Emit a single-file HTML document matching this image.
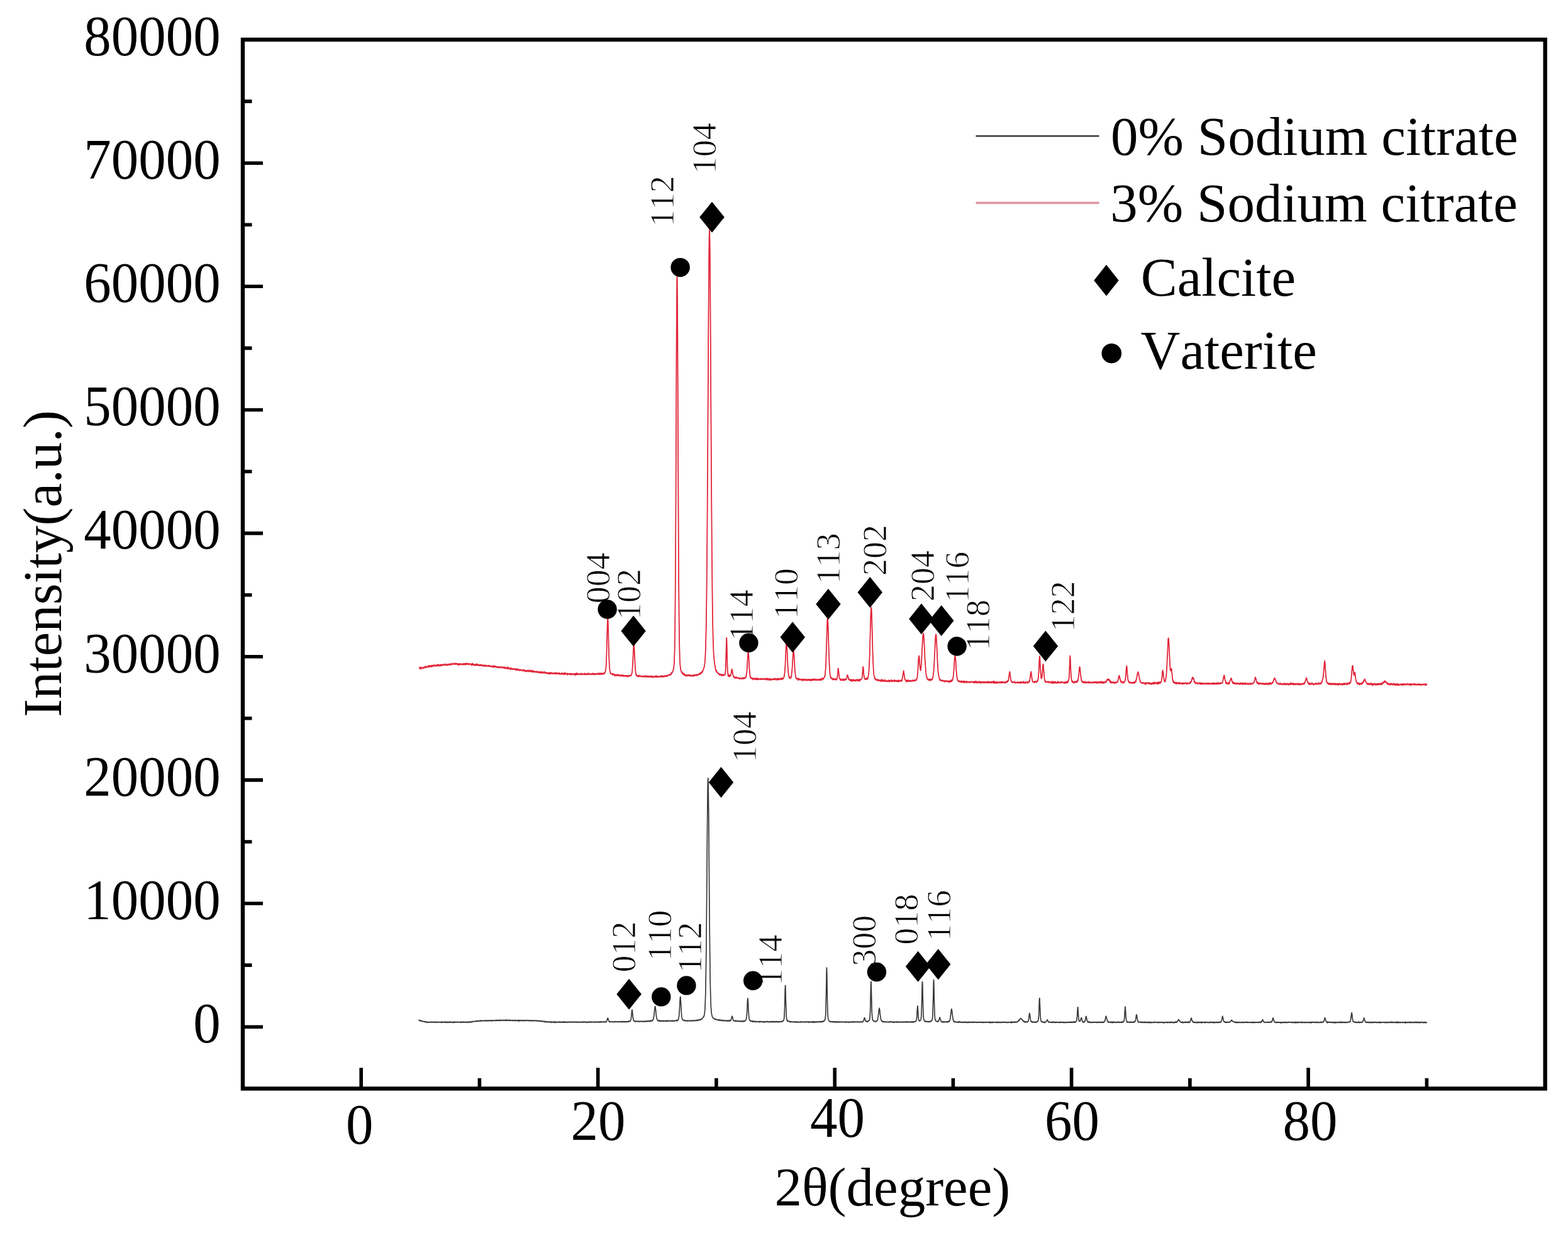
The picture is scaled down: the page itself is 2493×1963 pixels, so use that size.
<!DOCTYPE html><html><head><meta charset="utf-8"><title>XRD</title><style>html,body{margin:0;padding:0;background:#fff}svg{display:block}text{font-family:"Liberation Serif","Times New Roman",serif;fill:#000;font-kerning:none}</style></head><body>
<svg width="2493" height="1963" viewBox="0 0 2493 1963">
<rect width="2493" height="1963" fill="#fff"/>
<g stroke="#fff" stroke-width="0.9">
<text transform="translate(969.1,959.2) rotate(-90)" font-size="54">004</text>
<text transform="translate(1018.2,985) rotate(-90)" font-size="54">102</text>
<text transform="translate(1070.8,360.3) rotate(-90)" font-size="54">112</text>
<text transform="translate(1138.4,276.3) rotate(-90)" font-size="54">104</text>
<text transform="translate(1197.2,1018.3) rotate(-90)" font-size="54">114</text>
<text transform="translate(1267.8,983.9) rotate(-90)" font-size="54">110</text>
<text transform="translate(1334.8,928.2) rotate(-90)" font-size="54">113</text>
<text transform="translate(1409.3,915.1) rotate(-90)" font-size="54">202</text>
<text transform="translate(1485.4,956.1) rotate(-90)" font-size="54">204</text>
<text transform="translate(1539.8,957.8) rotate(-90)" font-size="54">116</text>
<text transform="translate(1572.6,1034) rotate(-90)" font-size="54">118</text>
<text transform="translate(1707.9,1004.2) rotate(-90)" font-size="54">122</text>
<text transform="translate(1009.8,1545.4) rotate(-90)" font-size="54">012</text>
<text transform="translate(1066.5,1527.5) rotate(-90)" font-size="54">110</text>
<text transform="translate(1115.1,1546.4) rotate(-90)" font-size="54">112</text>
<text transform="translate(1242.7,1566.8) rotate(-90)" font-size="54">114</text>
<text transform="translate(1202.4,1212.1) rotate(-90)" font-size="54">104</text>
<text transform="translate(1392.1,1535.8) rotate(-90)" font-size="54">300</text>
<text transform="translate(1458.8,1501.7) rotate(-90)" font-size="54">018</text>
<text transform="translate(1511.2,1495.8) rotate(-90)" font-size="54">116</text>
</g>
<polyline fill="none" stroke="#e2263a" stroke-width="1.8" stroke-linejoin="round" points="667,1063.2 667.2,1060.5 667.5,1062.2 667.8,1061.6 668,1061.7 668.2,1061.8 668.5,1060.7 668.8,1061.7 669,1061.3 669.2,1063.8 669.5,1061.9 669.8,1061.5 670,1061.5 670.2,1061.2 670.5,1060.9 670.8,1061.3 671,1061.7 671.2,1061.3 671.5,1061.9 671.8,1061.2 672,1061.3 672.2,1062.1 672.5,1061.5 672.8,1060.8 673,1061 673.2,1061.4 673.5,1062.2 673.8,1060.8 674,1060.8 674.2,1061.5 674.5,1060.3 674.8,1060.6 675,1061.2 675.2,1061 675.5,1060.7 675.8,1061 676,1058.8 676.2,1061.1 676.5,1059.9 676.8,1059.4 677,1060.5 677.2,1060.7 677.5,1060 677.8,1059.6 678,1060.2 678.2,1060.1 678.5,1060.9 678.8,1060.5 679,1060.1 679.2,1060.6 679.5,1059.8 679.8,1059.3 680,1060.2 680.2,1060.1 680.5,1059.6 680.8,1059.2 681,1059.8 681.2,1058.1 681.5,1059.9 681.8,1059.8 682,1058.5 682.2,1059.4 682.5,1058.8 682.8,1059.8 683,1058 683.2,1058.7 683.5,1059.6 683.8,1059.8 684,1057.8 684.2,1058.7 684.5,1059.2 684.8,1058.6 685,1059.9 685.2,1058.1 685.5,1059 685.8,1058.1 686,1059.6 686.2,1058.7 686.5,1058.4 686.8,1057.5 687,1059.5 687.2,1058.9 687.5,1058.9 687.8,1059.1 688,1058.6 688.2,1057.9 688.5,1057.8 688.8,1057.7 689,1059 689.2,1057.2 689.5,1057.7 689.8,1057.8 690,1058.1 690.2,1058.3 690.5,1057.2 690.8,1056.9 691,1057.9 691.2,1058.6 691.5,1058.3 691.8,1058 692,1057.6 692.2,1058 692.5,1057.6 692.8,1058.2 693,1057.3 693.2,1057.8 693.5,1057.6 693.8,1058 694,1057.8 694.2,1059.2 694.5,1058.5 694.8,1058.5 695,1056.3 695.2,1057.3 695.5,1057.2 695.8,1057.8 696,1056.1 696.2,1058.2 696.5,1058.1 696.8,1056.6 697,1056.8 697.2,1056.9 697.5,1057.4 697.8,1057.7 698,1058.5 698.2,1057.2 698.5,1057.7 698.8,1057.4 699,1058.3 699.2,1057.7 699.5,1058 699.8,1056.5 700,1057 700.2,1056.6 700.5,1058 700.8,1057.5 701,1056.9 701.2,1056.8 701.5,1057.3 701.8,1056.6 702,1056.4 702.2,1057.3 702.5,1058.4 702.8,1056.8 703,1056.6 703.2,1056.2 703.5,1056.1 703.8,1057.2 704,1057.3 704.2,1056.8 704.5,1057 704.8,1056.8 705,1056.8 705.2,1055.8 705.5,1056.4 705.8,1056.7 706,1056.2 706.2,1056.3 706.5,1056.1 706.8,1056.4 707,1057.1 707.2,1056.3 707.5,1056.4 707.8,1057 708,1056.9 708.2,1057.5 708.5,1055.2 708.8,1056.9 709,1056.1 709.2,1056.5 709.5,1056.9 709.8,1057 710,1056.9 710.2,1056.4 710.5,1057.2 710.8,1056.1 711,1056.2 711.2,1056.7 711.5,1055.9 711.8,1057.5 712,1056.8 712.2,1057.4 712.5,1056.1 712.8,1055.9 713,1056.2 713.2,1056.5 713.5,1055.7 713.8,1056.2 714,1056 714.2,1056.9 714.5,1055.5 714.8,1056.6 715,1055.5 715.2,1055.3 715.5,1055.4 715.8,1055.1 716,1055.9 716.2,1056.4 716.5,1055.9 716.8,1056.1 717,1056.7 717.2,1055.9 717.5,1055.8 717.8,1055.5 718,1054.7 718.2,1056.1 718.5,1054.6 718.8,1056 719,1055.6 719.2,1056.2 719.5,1055.5 719.8,1055 720,1055.7 720.2,1055.2 720.5,1055.4 720.8,1055.5 721,1055.4 721.2,1055.4 721.5,1055 721.8,1055.4 722,1054.2 722.2,1055.4 722.5,1054.8 722.8,1056.2 723,1056.2 723.2,1054.3 723.5,1055.6 723.8,1055.4 724,1054.9 724.2,1055.8 724.5,1055.2 724.8,1054.4 725,1055.3 725.2,1055.4 725.5,1055.5 725.8,1054.7 726,1055.9 726.2,1055.9 726.5,1054.8 726.8,1055.1 727,1055.4 727.2,1055.1 727.5,1056.5 727.8,1055.6 728,1054.9 728.2,1055 728.5,1055.5 728.8,1056.9 729,1055.4 729.2,1055.6 729.5,1055.8 729.8,1055.5 730,1056.9 730.2,1055.2 730.5,1055.9 730.8,1055.6 731,1055.9 731.2,1054.8 731.5,1056.5 731.8,1055.4 732,1055.5 732.2,1054.9 732.5,1055 732.8,1055.8 733,1056.1 733.2,1055.9 733.5,1056.2 733.8,1055.9 734,1055.5 734.2,1056 734.5,1055.8 734.8,1055.4 735,1055.9 735.2,1056.3 735.5,1055.6 735.8,1055.3 736,1055.9 736.2,1056.6 736.5,1055.4 736.8,1055.4 737,1055.4 737.2,1056.2 737.5,1054.4 737.8,1055.7 738,1056.2 738.2,1055 738.5,1056.4 738.8,1055.8 739,1055.2 739.2,1055.6 739.5,1054.6 739.8,1055.1 740,1056.6 740.2,1054.9 740.5,1056.6 740.8,1055.4 741,1056.1 741.2,1055.5 741.5,1054.1 741.8,1055.1 742,1055.6 742.2,1054.8 742.5,1054.7 742.8,1055.7 743,1055.1 743.2,1054.5 743.5,1055.1 743.8,1056 744,1055.2 744.2,1056 744.5,1056.4 744.8,1055.5 745,1054.8 745.2,1054.7 745.5,1055.5 745.8,1056.1 746,1055.7 746.2,1055.9 746.5,1055.4 746.8,1055.8 747,1055.4 747.2,1055.5 747.5,1055 747.8,1054.8 748,1055.5 748.2,1055.1 748.5,1055.3 748.8,1056.3 749,1055.8 749.2,1057.6 749.5,1056.5 749.8,1055.6 750,1056.4 750.2,1056.2 750.5,1055.6 750.8,1056.7 751,1055.6 751.2,1054.3 751.5,1056.6 751.8,1055.8 752,1057.1 752.2,1055.8 752.5,1055.5 752.8,1057.2 753,1055.6 753.2,1056.4 753.5,1057.2 753.8,1056.4 754,1056.3 754.2,1056.5 754.5,1056.9 754.8,1056 755,1056.8 755.2,1056.8 755.5,1057.9 755.8,1056.3 756,1056 756.2,1057 756.5,1056.4 756.8,1056.8 757,1056.7 757.2,1057.4 757.5,1056.3 757.8,1056.7 758,1055.2 758.2,1056.2 758.5,1057.7 758.8,1056.4 759,1056.4 759.2,1056.1 759.5,1057.3 759.8,1057 760,1056.2 760.2,1057.4 760.5,1057.2 760.8,1057.5 761,1056.7 761.2,1058.1 761.5,1057.3 761.8,1057.1 762,1056.8 762.2,1057 762.5,1057.7 762.8,1057.1 763,1057.9 763.2,1057.6 763.5,1058.1 763.8,1057.8 764,1057.3 764.2,1056.2 764.5,1057.6 764.8,1057.9 765,1057.5 765.2,1057.8 765.5,1057.2 765.8,1057.3 766,1057 766.2,1058.4 766.5,1057.7 766.8,1057.3 767,1056.8 767.2,1057.6 767.5,1058.6 767.8,1058 768,1057.3 768.2,1058.6 768.5,1058.6 768.8,1058.4 769,1058.3 769.2,1058.6 769.5,1058.2 769.8,1058.4 770,1057.5 770.2,1058.9 770.5,1058.1 770.8,1059.2 771,1056.8 771.2,1058.5 771.5,1058.7 771.8,1057.9 772,1058.4 772.2,1058.6 772.5,1058.5 772.8,1057.9 773,1058.1 773.2,1058.9 773.5,1059 773.8,1058.4 774,1058.4 774.2,1058.5 774.5,1059 774.8,1057.8 775,1057.6 775.2,1058.5 775.5,1057.8 775.8,1058.1 776,1058.6 776.2,1058.8 776.5,1057.9 776.8,1059.1 777,1057.6 777.2,1059 777.5,1057.7 777.8,1057.9 778,1059.1 778.2,1058.5 778.5,1058.3 778.8,1058.5 779,1059.1 779.2,1058.8 779.5,1058.8 779.8,1059.5 780,1058.5 780.2,1058.7 780.5,1058.6 780.8,1059.7 781,1059.6 781.2,1059.8 781.5,1059 781.8,1059 782,1059.6 782.2,1058.9 782.5,1059.7 782.8,1059.6 783,1058.8 783.2,1059.2 783.5,1059.2 783.8,1060.3 784,1060.9 784.2,1059.3 784.5,1059.4 784.8,1058 785,1059.5 785.2,1059.4 785.5,1058.8 785.8,1059.9 786,1058.6 786.2,1059.4 786.5,1059.6 786.8,1058.8 787,1060.1 787.2,1060.3 787.5,1058.8 787.8,1058.8 788,1060.1 788.2,1059.7 788.5,1059 788.8,1059.6 789,1059.7 789.2,1059.7 789.5,1060.3 789.8,1060.1 790,1061 790.2,1060.7 790.5,1060.3 790.8,1060.6 791,1060.8 791.2,1060.4 791.5,1059.3 791.8,1060.6 792,1060.1 792.2,1061.1 792.5,1060.2 792.8,1060.5 793,1060.4 793.2,1061.2 793.5,1060.3 793.8,1060.1 794,1060.5 794.2,1060 794.5,1060.4 794.8,1060.4 795,1060.5 795.2,1061.6 795.5,1060.2 795.8,1060.5 796,1060.4 796.2,1060.9 796.5,1059.8 796.8,1060.1 797,1060.6 797.2,1060.9 797.5,1060.6 797.8,1060.4 798,1060.2 798.2,1061.1 798.5,1061.7 798.8,1061 799,1061 799.2,1061.2 799.5,1060.4 799.8,1060.8 800,1060.9 800.2,1061.2 800.5,1061.1 800.8,1060.4 801,1061.8 801.2,1062.2 801.5,1061.1 801.8,1061.5 802,1061.5 802.2,1061.8 802.5,1060.5 802.8,1062.4 803,1061.2 803.2,1062.3 803.5,1061.6 803.8,1061.3 804,1061.5 804.2,1062.2 804.5,1061.2 804.8,1061.5 805,1061.5 805.2,1060.8 805.5,1062.6 805.8,1062.2 806,1061.9 806.2,1062.6 806.5,1061.4 806.8,1062 807,1063.1 807.2,1062.7 807.5,1060.8 807.8,1060.2 808,1061.6 808.2,1062.9 808.5,1062 808.8,1062.2 809,1062.7 809.2,1061.8 809.5,1062.5 809.8,1062.9 810,1062.8 810.2,1062.8 810.5,1062.2 810.8,1062.9 811,1062.4 811.2,1063.4 811.5,1064.2 811.8,1062.3 812,1061.5 812.2,1062.6 812.5,1063.1 812.8,1063.5 813,1063.6 813.2,1062.5 813.5,1062.5 813.8,1063.8 814,1062.4 814.2,1063.8 814.5,1063 814.8,1063.6 815,1063.6 815.2,1063.7 815.5,1063.8 815.8,1062.7 816,1063.5 816.2,1063.4 816.5,1063.6 816.8,1064.2 817,1063.3 817.2,1063.1 817.5,1063.1 817.8,1063.4 818,1064.1 818.2,1063.2 818.5,1064.4 818.8,1063.9 819,1063.7 819.2,1063 819.5,1064 819.8,1064.3 820,1062.9 820.2,1064.7 820.5,1065 820.8,1064.3 821,1064.4 821.2,1065.6 821.5,1064.9 821.8,1063.7 822,1064.2 822.2,1064.2 822.5,1064.2 822.8,1062.9 823,1064.8 823.2,1064 823.5,1064.6 823.8,1064.4 824,1065.1 824.2,1064.4 824.5,1064.1 824.8,1065 825,1065.5 825.2,1064.5 825.5,1065.6 825.8,1064.9 826,1064.5 826.2,1065.8 826.5,1064.4 826.8,1065.5 827,1064.7 827.2,1065.3 827.5,1064.3 827.8,1064.6 828,1065.7 828.2,1065.2 828.5,1065.2 828.8,1064.9 829,1065.5 829.2,1064.4 829.5,1064.6 829.8,1065.2 830,1064.8 830.2,1064.9 830.5,1065.3 830.8,1065.3 831,1065.3 831.2,1066.5 831.5,1066.1 831.8,1066.3 832,1065.5 832.2,1065.3 832.5,1064.7 832.8,1065.4 833,1064.4 833.2,1065.3 833.5,1066.2 833.8,1066.7 834,1066.3 834.2,1065.3 834.5,1066.1 834.8,1065.4 835,1066.4 835.2,1065.8 835.5,1066.5 835.8,1067.5 836,1066.5 836.2,1067.4 836.5,1066.2 836.8,1065.9 837,1066.9 837.2,1067.2 837.5,1065.8 837.8,1066.2 838,1065.4 838.2,1066.1 838.5,1066.8 838.8,1066.3 839,1066 839.2,1065.5 839.5,1066.6 839.8,1066.9 840,1066.8 840.2,1066.6 840.5,1065.7 840.8,1067.6 841,1066.5 841.2,1066.5 841.5,1067.1 841.8,1065.3 842,1066.6 842.2,1066.6 842.5,1067 842.8,1067.6 843,1067.1 843.2,1065.7 843.5,1066.6 843.8,1067 844,1067 844.2,1066.2 844.5,1066 844.8,1067.3 845,1067.2 845.2,1067 845.5,1066 845.8,1068.2 846,1065.4 846.2,1066.9 846.5,1068.4 846.8,1067.1 847,1067.4 847.2,1066.6 847.5,1068.1 847.8,1066.6 848,1067.5 848.2,1067.5 848.5,1066.8 848.8,1068 849,1066.6 849.2,1067.1 849.5,1067.5 849.8,1067.3 850,1067.9 850.2,1068.2 850.5,1067.5 850.8,1067.3 851,1067.4 851.2,1067.5 851.5,1068.2 851.8,1067.6 852,1068.1 852.2,1067.8 852.5,1067.4 852.8,1068.4 853,1067.3 853.2,1068 853.5,1068.9 853.8,1067.4 854,1068 854.2,1067.1 854.5,1067.8 854.8,1067.2 855,1067.9 855.2,1067.9 855.5,1068.3 855.8,1069.2 856,1068.4 856.2,1068.7 856.5,1068.3 856.8,1068.2 857,1067.9 857.2,1067.3 857.5,1068.5 857.8,1069.4 858,1068.8 858.2,1068.2 858.5,1069.5 858.8,1068.3 859,1068.2 859.2,1067.9 859.5,1068.1 859.8,1068.5 860,1069.9 860.2,1068.6 860.5,1068.2 860.8,1068.4 861,1068.7 861.2,1067.8 861.5,1069 861.8,1069.3 862,1069.1 862.2,1069.3 862.5,1068.2 862.8,1068 863,1069.8 863.2,1069.7 863.5,1068.2 863.8,1069.3 864,1069.2 864.2,1069.5 864.5,1069.3 864.8,1069 865,1069.4 865.2,1069.4 865.5,1069.3 865.8,1068.3 866,1067.6 866.2,1068.9 866.5,1068.5 866.8,1069.6 867,1069.9 867.2,1069.7 867.5,1069.3 867.8,1069.6 868,1070.3 868.2,1069.2 868.5,1070.2 868.8,1070.1 869,1069.9 869.2,1070.6 869.5,1069.4 869.8,1070.4 870,1069.3 870.2,1069.4 870.5,1069.3 870.8,1070.2 871,1069.4 871.2,1070 871.5,1069.3 871.8,1070.6 872,1071.1 872.2,1070.1 872.5,1071 872.8,1070.4 873,1071.3 873.2,1070.1 873.5,1069.1 873.8,1071 874,1070 874.2,1069.5 874.5,1069.7 874.8,1069.1 875,1070 875.2,1069.5 875.5,1071 875.8,1070.5 876,1069.1 876.2,1069.2 876.5,1069.8 876.8,1069 877,1070.1 877.2,1070.2 877.5,1069.7 877.8,1069.9 878,1070.5 878.2,1071.1 878.5,1071.1 878.8,1070.3 879,1070.8 879.2,1069.8 879.5,1070.5 879.8,1069.7 880,1070.7 880.2,1069.5 880.5,1069.7 880.8,1070.3 881,1070.7 881.2,1069.5 881.5,1070 881.8,1070.4 882,1070.5 882.2,1069.9 882.5,1070.4 882.8,1070.2 883,1071.2 883.2,1070.7 883.5,1069.6 883.8,1069.1 884,1070.5 884.2,1071.1 884.5,1070.5 884.8,1071 885,1070.2 885.2,1069.7 885.5,1070.9 885.8,1070.5 886,1070.9 886.2,1069.7 886.5,1070.6 886.8,1070.2 887,1071 887.2,1070.2 887.5,1070.2 887.8,1070.2 888,1071.3 888.2,1070.6 888.5,1070.1 888.8,1070 889,1070 889.2,1071.5 889.5,1069.5 889.8,1070.1 890,1071 890.2,1071.4 890.5,1070.6 890.8,1071.1 891,1071.1 891.2,1071.3 891.5,1070.7 891.8,1071.7 892,1070.8 892.2,1071.7 892.5,1070.1 892.8,1071.3 893,1070 893.2,1069.9 893.5,1071.1 893.8,1070.3 894,1071.1 894.2,1070.2 894.5,1071.8 894.8,1070.8 895,1070.2 895.2,1071 895.5,1071.4 895.8,1070.4 896,1071.2 896.2,1072.1 896.5,1071.4 896.8,1070.9 897,1070.6 897.2,1071.3 897.5,1070 897.8,1069.1 898,1070.6 898.2,1070.3 898.5,1072 898.8,1071.1 899,1070.4 899.2,1070.3 899.5,1071.3 899.8,1070.5 900,1070.7 900.2,1071 900.5,1071.1 900.8,1071.1 901,1071.1 901.2,1071.9 901.5,1072.1 901.8,1070.1 902,1072.7 902.2,1071.2 902.5,1071.9 902.8,1070.7 903,1071.3 903.2,1071.3 903.5,1071.2 903.8,1071.7 904,1071.6 904.2,1070.6 904.5,1071.1 904.8,1071.6 905,1071.6 905.2,1071 905.5,1071.1 905.8,1071.2 906,1070.6 906.2,1070.5 906.5,1072.2 906.8,1071 907,1071.3 907.2,1070.9 907.5,1072.1 907.8,1072.4 908,1071.2 908.2,1071.6 908.5,1070.9 908.8,1072.4 909,1071.9 909.2,1070.9 909.5,1072.1 909.8,1071.6 910,1071.6 910.2,1071.6 910.5,1071 910.8,1071.1 911,1071.8 911.2,1071.4 911.5,1070.9 911.8,1072.7 912,1071.3 912.2,1071.1 912.5,1071.1 912.8,1071.9 913,1072.1 913.2,1071.7 913.5,1072 913.8,1070.6 914,1071.3 914.2,1071.3 914.5,1071.6 914.8,1071.9 915,1070.3 915.2,1073.4 915.5,1071 915.8,1071.8 916,1072.1 916.2,1072.1 916.5,1071.7 916.8,1069.8 917,1070.9 917.2,1072 917.5,1071 917.8,1070.9 918,1070.1 918.2,1072.3 918.5,1071.8 918.8,1071 919,1071.5 919.2,1071.5 919.5,1070.9 919.8,1071.4 920,1071.7 920.2,1071.9 920.5,1072.3 920.8,1071.5 921,1071.2 921.2,1071.8 921.5,1071.1 921.8,1070.8 922,1072.2 922.2,1071.3 922.5,1071.6 922.8,1071.9 923,1070.8 923.2,1071.9 923.5,1071.8 923.8,1071.4 924,1071.7 924.2,1071 924.5,1070.2 924.8,1071.3 925,1070.9 925.2,1072 925.5,1071.7 925.8,1071.2 926,1071.5 926.2,1072.3 926.5,1072.2 926.8,1071.7 927,1071.7 927.2,1071.3 927.5,1071.4 927.8,1071.8 928,1071.4 928.2,1071.7 928.5,1070.8 928.8,1070.5 929,1070.5 929.2,1071.2 929.5,1072.3 929.8,1072.2 930,1070.9 930.2,1070.5 930.5,1071.9 930.8,1071.7 931,1070.6 931.2,1072.1 931.5,1071.6 931.8,1072.3 932,1071.7 932.2,1072 932.5,1071.6 932.8,1070.9 933,1071.3 933.2,1071 933.5,1071.9 933.8,1070.8 934,1070.5 934.2,1071.8 934.5,1072.1 934.8,1072.3 935,1072.1 935.2,1070.5 935.5,1071 935.8,1071.1 936,1071.4 936.2,1070.1 936.5,1071.4 936.8,1071.6 937,1070.8 937.2,1071.5 937.5,1072.1 937.8,1071.4 938,1072 938.2,1072 938.5,1071.7 938.8,1071.6 939,1071.2 939.2,1072.1 939.5,1071.1 939.8,1071 940,1071.8 940.2,1071 940.5,1071.6 940.8,1072 941,1071.4 941.2,1071.4 941.5,1071.9 941.8,1071.8 942,1070.4 942.2,1070.6 942.5,1072.2 942.8,1071.6 943,1070.1 943.2,1070.5 943.5,1071.4 943.8,1070.8 944,1071.6 944.2,1071.4 944.5,1071.6 944.8,1070.6 945,1071.7 945.2,1072.5 945.5,1070.8 945.8,1072.1 946,1071.9 946.2,1071.7 946.5,1071.3 946.8,1070.6 947,1070.8 947.2,1071.8 947.5,1071.9 947.8,1072 948,1071.9 948.2,1071.8 948.5,1071 948.8,1070.5 949,1071.4 949.2,1071.5 949.5,1071.3 949.8,1070.3 950,1070.9 950.2,1070.3 950.5,1071.3 950.8,1070.6 951,1071.1 951.2,1071.4 951.5,1071.3 951.8,1072 952,1070.5 952.2,1069.8 952.5,1071.7 952.8,1072 953,1072 953.2,1071.3 953.5,1071.4 953.8,1071.1 954,1070.3 954.2,1070.7 954.5,1071.3 954.8,1070.6 955,1072.1 955.2,1070 955.5,1070.7 955.8,1071.6 956,1070.6 956.2,1070.3 956.5,1070.1 956.8,1070.5 957,1071.8 957.2,1071.1 957.5,1071.2 957.8,1070.5 958,1071.3 958.2,1070.8 958.5,1070.2 958.8,1070.4 959,1070.8 959.2,1071.3 959.5,1070.5 959.8,1070.7 960,1071.6 960.2,1069.8 960.5,1069.4 960.8,1070.6 961,1070.1 961.2,1069.6 961.5,1069.6 961.8,1069 962,1069.1 962.2,1068.1 962.5,1068.1 962.8,1065.9 963,1064.7 963.2,1063.3 963.5,1060.1 963.8,1057 964,1051.6 964.2,1045.1 964.5,1037.9 964.8,1028.6 965,1018.3 965.2,1008.4 965.5,998.8 965.8,990.5 966,984.8 966.2,982.6 966.3,982.4 966.5,984.4 966.8,988.9 967,995.7 967.2,1006.2 967.5,1016 967.8,1025.1 968,1034.8 968.2,1043.5 968.5,1049.8 968.8,1055.8 969,1059.7 969.2,1063.1 969.5,1064.8 969.8,1066.9 970,1067.6 970.2,1069.1 970.5,1068.3 970.8,1069.9 971,1070.8 971.2,1070.7 971.5,1070.6 971.8,1071.1 972,1070.5 972.2,1070.6 972.5,1071.1 972.8,1071.3 973,1072.1 973.2,1071.1 973.5,1072.3 973.8,1070.9 974,1071.4 974.2,1071.9 974.5,1072.7 974.8,1071.7 975,1070.9 975.2,1072.5 975.5,1072.3 975.8,1071.7 976,1071.8 976.2,1072 976.5,1072.6 976.8,1072.9 977,1071.7 977.2,1074 977.5,1072.6 977.8,1072.5 978,1073.1 978.2,1072.8 978.5,1074.2 978.8,1073.5 979,1072.7 979.2,1072.7 979.5,1072.6 979.8,1072.8 980,1073.4 980.2,1072.6 980.5,1074 980.8,1073 981,1073 981.2,1073.7 981.5,1072 981.8,1072.6 982,1073.6 982.2,1073.3 982.5,1073.3 982.8,1073.5 983,1073 983.2,1073.2 983.5,1072.6 983.8,1072.3 984,1074.2 984.2,1072.9 984.5,1073 984.8,1074.3 985,1074.1 985.2,1073.2 985.5,1073.2 985.8,1073.5 986,1073 986.2,1073.9 986.5,1073.7 986.8,1073.7 987,1074.1 987.2,1074.1 987.5,1074.8 987.8,1074.6 988,1072.7 988.2,1074.3 988.5,1073.1 988.8,1073 989,1074.3 989.2,1073.4 989.5,1073.7 989.8,1074.5 990,1073.5 990.2,1073.4 990.5,1074.1 990.8,1074.7 991,1074.3 991.2,1073.1 991.5,1073.6 991.8,1073.9 992,1075.2 992.2,1074.6 992.5,1074.6 992.8,1074.8 993,1073.9 993.2,1074.4 993.5,1074.4 993.8,1073.6 994,1074.2 994.2,1074.5 994.5,1073.5 994.8,1074.7 995,1074.7 995.2,1074.9 995.5,1073.8 995.8,1074.3 996,1075.1 996.2,1074.7 996.5,1073.8 996.8,1074.4 997,1075.1 997.2,1074.3 997.5,1074.5 997.8,1075.9 998,1074.3 998.2,1074.3 998.5,1073.7 998.8,1073.9 999,1075.2 999.2,1074.2 999.5,1073.6 999.8,1073.7 1000,1074.3 1000.2,1074.7 1000.5,1073.8 1000.8,1074.6 1001,1073.8 1001.2,1074.3 1001.5,1074.3 1001.8,1074.3 1002,1073.6 1002.2,1073.7 1002.5,1074 1002.8,1072.8 1003,1073.6 1003.2,1073.6 1003.5,1073.7 1003.8,1072.8 1004,1072.3 1004.2,1071.9 1004.5,1070.6 1004.8,1069.8 1005,1068.6 1005.2,1066.4 1005.5,1062.8 1005.8,1059.6 1006,1054.3 1006.2,1051 1006.5,1044.7 1006.8,1039.4 1007,1033.1 1007.2,1028.9 1007.5,1025.8 1007.8,1024.6 1007.8,1023.2 1008,1025.2 1008.2,1027.3 1008.5,1031.3 1008.8,1037.3 1009,1042.6 1009.2,1048.3 1009.5,1053.2 1009.8,1058.4 1010,1062.2 1010.2,1065.1 1010.5,1067.1 1010.8,1069.1 1011,1071 1011.2,1072.5 1011.5,1072.4 1011.8,1073.7 1012,1073.2 1012.2,1072.8 1012.5,1074 1012.8,1073.2 1013,1074.1 1013.2,1074.7 1013.5,1073.9 1013.8,1074.1 1014,1075.7 1014.2,1074.5 1014.5,1074.6 1014.8,1074.9 1015,1074.4 1015.2,1074.5 1015.5,1074.8 1015.8,1073.2 1016,1075.5 1016.2,1074.1 1016.5,1074.1 1016.8,1075.1 1017,1074.8 1017.2,1074.1 1017.5,1075 1017.8,1074.2 1018,1074.5 1018.2,1074 1018.5,1074.4 1018.8,1075.2 1019,1075 1019.2,1075.1 1019.5,1075.5 1019.8,1075 1020,1074.6 1020.2,1074.9 1020.5,1076 1020.8,1075.1 1021,1075.2 1021.2,1075 1021.5,1075.2 1021.8,1075.4 1022,1075.1 1022.2,1075 1022.5,1074.7 1022.8,1074.6 1023,1075.4 1023.2,1075.6 1023.5,1075.7 1023.8,1075.2 1024,1074.7 1024.2,1075.6 1024.5,1075.6 1024.8,1074.3 1025,1075.7 1025.2,1075.6 1025.5,1076.2 1025.8,1074.6 1026,1074.5 1026.2,1075.7 1026.5,1074.2 1026.8,1074.8 1027,1074.6 1027.2,1074.7 1027.5,1074.1 1027.8,1075.1 1028,1075.9 1028.2,1075.6 1028.5,1075.6 1028.8,1075.1 1029,1076.2 1029.2,1075.6 1029.5,1076 1029.8,1074.4 1030,1075.5 1030.2,1074.7 1030.5,1075.6 1030.8,1075.5 1031,1074.7 1031.2,1075.5 1031.5,1076.1 1031.8,1075.7 1032,1075.7 1032.2,1074.9 1032.5,1075 1032.8,1074.7 1033,1075.5 1033.2,1076.1 1033.5,1075.7 1033.8,1075.4 1034,1074.8 1034.2,1075.7 1034.5,1075.3 1034.8,1074.3 1035,1074.4 1035.2,1075.2 1035.5,1074.9 1035.8,1076.4 1036,1075.5 1036.2,1074.8 1036.5,1075.2 1036.8,1076.4 1037,1074.9 1037.2,1075.9 1037.5,1075.7 1037.8,1076.4 1038,1075.8 1038.2,1075.2 1038.5,1075.8 1038.8,1075.5 1039,1076.1 1039.2,1075.5 1039.5,1076.7 1039.8,1075.4 1040,1075.8 1040.2,1075.1 1040.5,1075.6 1040.8,1075.5 1041,1075.6 1041.2,1076 1041.5,1075.1 1041.8,1075 1042,1076.1 1042.2,1075.3 1042.5,1075 1042.8,1076.1 1043,1075.9 1043.2,1073.9 1043.5,1075.2 1043.8,1075.9 1044,1075.9 1044.2,1075.1 1044.5,1076.3 1044.8,1074.9 1045,1075.2 1045.2,1075.5 1045.5,1075.4 1045.8,1075.8 1046,1076 1046.2,1075.3 1046.5,1076.2 1046.8,1074.9 1047,1075.2 1047.2,1076.3 1047.5,1075.4 1047.8,1075.9 1048,1075 1048.2,1075.1 1048.5,1075.2 1048.8,1075.4 1049,1075.1 1049.2,1075.3 1049.5,1075.6 1049.8,1075.9 1050,1075.3 1050.2,1075.6 1050.5,1075.7 1050.8,1074.5 1051,1074.2 1051.2,1076.1 1051.5,1075.9 1051.8,1075.2 1052,1075.3 1052.2,1074.5 1052.5,1074.2 1052.8,1075.2 1053,1074.2 1053.2,1075.6 1053.5,1074.6 1053.8,1075.2 1054,1076.1 1054.2,1076.1 1054.5,1074.8 1054.8,1075.5 1055,1074.3 1055.2,1074.5 1055.5,1075.1 1055.8,1075.6 1056,1074.4 1056.2,1075.1 1056.5,1074.8 1056.8,1074 1057,1074.6 1057.2,1075.6 1057.5,1074.6 1057.8,1074.9 1058,1075.1 1058.2,1074.1 1058.5,1075.2 1058.8,1075.4 1059,1075.4 1059.2,1075.2 1059.5,1074.1 1059.8,1073.9 1060,1073.8 1060.2,1073.7 1060.5,1073.7 1060.8,1074.7 1061,1074.9 1061.2,1073.6 1061.5,1074.4 1061.8,1073.1 1062,1073.6 1062.2,1073.1 1062.5,1072.7 1062.8,1073.6 1063,1073.5 1063.2,1073.2 1063.5,1073 1063.8,1072.6 1064,1073 1064.2,1072.6 1064.5,1073 1064.8,1072.1 1065,1072.8 1065.2,1072.8 1065.5,1073.1 1065.8,1072.8 1066,1072.2 1066.2,1071.5 1066.5,1070.6 1066.8,1071.5 1067,1072.1 1067.2,1072 1067.5,1069.2 1067.8,1070 1068,1070 1068.2,1069.2 1068.5,1069.6 1068.8,1069.2 1069,1068.4 1069.2,1068.2 1069.5,1066.8 1069.8,1066.6 1070,1066 1070.2,1066.3 1070.5,1063.9 1070.8,1063.7 1071,1063 1071.2,1060.8 1071.5,1059.1 1071.8,1055.1 1072,1051.6 1072.2,1046.1 1072.5,1038.8 1072.8,1027 1073,1012.7 1073.2,992.4 1073.5,967.5 1073.8,937.1 1074,898.5 1074.2,854 1074.5,802.2 1074.8,746.4 1075,686.6 1075.2,623.9 1075.5,567.4 1075.8,515 1076,474 1076.2,447.1 1076.5,438.4 1076.8,446.5 1077,473.3 1077.2,514.2 1077.5,566.5 1077.8,625 1078,685.6 1078.2,745.3 1078.5,801.4 1078.8,852 1079,898.3 1079.2,936.2 1079.5,967.6 1079.8,993.2 1080,1011.6 1080.2,1026.3 1080.5,1036 1080.8,1045.7 1081,1051.2 1081.2,1054.9 1081.5,1058.7 1081.8,1060 1082,1062 1082.2,1064.8 1082.5,1065.1 1082.8,1066.1 1083,1066.7 1083.2,1067.3 1083.5,1067.6 1083.8,1069.4 1084,1068.4 1084.2,1069.3 1084.5,1069.1 1084.8,1069.4 1085,1068.4 1085.2,1069 1085.5,1071.4 1085.8,1071.6 1086,1070.7 1086.2,1071.1 1086.5,1071.7 1086.8,1070.9 1087,1072.7 1087.2,1071.2 1087.5,1071.5 1087.8,1070.5 1088,1073.1 1088.2,1072.4 1088.5,1073.4 1088.8,1072 1089,1072.9 1089.2,1072.8 1089.5,1073 1089.8,1074.2 1090,1074.3 1090.2,1073.9 1090.5,1072.9 1090.8,1073.7 1091,1074 1091.2,1073.6 1091.5,1073.7 1091.8,1073.7 1092,1072.9 1092.2,1073.6 1092.5,1074.5 1092.8,1072.9 1093,1073.6 1093.2,1074.1 1093.5,1072.8 1093.8,1073.6 1094,1072.7 1094.2,1073.3 1094.5,1072.9 1094.8,1073.2 1095,1073.5 1095.2,1073.6 1095.5,1073.7 1095.8,1072.4 1096,1074.8 1096.2,1073.7 1096.5,1073.2 1096.8,1073.5 1097,1074 1097.2,1073.2 1097.5,1073.6 1097.8,1073.6 1098,1074.2 1098.2,1073.4 1098.5,1074.1 1098.8,1074.1 1099,1073.8 1099.2,1074.6 1099.5,1073.8 1099.8,1073.1 1100,1074 1100.2,1073.9 1100.5,1073.8 1100.8,1073.9 1101,1075.2 1101.2,1073.9 1101.5,1074 1101.8,1073.6 1102,1074.5 1102.2,1073.7 1102.5,1073.2 1102.8,1072.9 1103,1073.9 1103.2,1074 1103.5,1072.6 1103.8,1073.1 1104,1073.9 1104.2,1074.1 1104.5,1072.7 1104.8,1073.2 1105,1073.9 1105.2,1073 1105.5,1073 1105.8,1072.9 1106,1072.4 1106.2,1073.2 1106.5,1073.3 1106.8,1072.2 1107,1073.1 1107.2,1073.6 1107.5,1073.1 1107.8,1073.4 1108,1072.5 1108.2,1073.6 1108.5,1072.2 1108.8,1073.8 1109,1072.3 1109.2,1072 1109.5,1071.9 1109.8,1072.1 1110,1071.9 1110.2,1071.7 1110.5,1071.9 1110.8,1072.4 1111,1072.4 1111.2,1071.6 1111.5,1072.4 1111.8,1070.9 1112,1070.8 1112.2,1070.6 1112.5,1071.5 1112.8,1070.1 1113,1070 1113.2,1071.5 1113.5,1071.6 1113.8,1071.2 1114,1069.3 1114.2,1070 1114.5,1070.3 1114.8,1069.7 1115,1068.4 1115.2,1068.9 1115.5,1067.9 1115.8,1067.9 1116,1069.6 1116.2,1068.5 1116.5,1066.9 1116.8,1066.5 1117,1067.3 1117.2,1066.3 1117.5,1066.6 1117.8,1065.4 1118,1065.2 1118.2,1064.9 1118.5,1063.5 1118.8,1062.3 1119,1062 1119.2,1061.4 1119.5,1060.7 1119.8,1059.6 1120,1058.2 1120.2,1056.8 1120.5,1053.9 1120.8,1052.7 1121,1049.9 1121.2,1045 1121.5,1040.1 1121.8,1034.8 1122,1027.2 1122.2,1018.1 1122.5,1007.3 1122.8,994.2 1123,978.9 1123.2,962.3 1123.5,942.1 1123.8,917.1 1124,891 1124.2,861.3 1124.5,827.8 1124.8,791.6 1125,753.2 1125.2,711.4 1125.5,670 1125.8,626.4 1126,584.4 1126.2,541.1 1126.5,499.9 1126.8,462.8 1127,431.1 1127.2,404 1127.5,382.9 1127.8,370.2 1128,365.1 1128.2,370 1128.5,382.7 1128.8,402.6 1129,431.1 1129.2,461.7 1129.5,499.9 1129.8,540.7 1130,583.3 1130.2,627.5 1130.5,669.1 1130.8,712 1131,753.3 1131.2,792 1131.5,827.7 1131.8,860.5 1132,891.4 1132.2,916.8 1132.5,940.6 1132.8,962.2 1133,979.9 1133.2,994.2 1133.5,1005.6 1133.8,1015.8 1134,1024 1134.2,1030.5 1134.5,1036.2 1134.8,1041.3 1135,1044 1135.2,1046.1 1135.5,1048.5 1135.8,1050.5 1136,1054.1 1136.2,1054.3 1136.5,1057.5 1136.8,1058.2 1137,1059.9 1137.2,1060.9 1137.5,1063.5 1137.8,1063.8 1138,1066.2 1138.2,1064.6 1138.5,1065.2 1138.8,1066.7 1139,1067.1 1139.2,1067 1139.5,1066.3 1139.8,1068.8 1140,1068.6 1140.2,1068.8 1140.5,1068.5 1140.8,1069.5 1141,1069 1141.2,1069.6 1141.5,1069.7 1141.8,1070.8 1142,1070 1142.2,1070.3 1142.5,1071.4 1142.8,1071 1143,1071 1143.2,1071.1 1143.5,1071.9 1143.8,1071.1 1144,1072 1144.2,1073 1144.5,1072.2 1144.8,1071.6 1145,1071.5 1145.2,1072.4 1145.5,1071.7 1145.8,1071.6 1146,1072.2 1146.2,1072 1146.5,1073.3 1146.8,1072 1147,1073.9 1147.2,1072.6 1147.5,1073.2 1147.8,1073.6 1148,1073.4 1148.2,1073.7 1148.5,1072.7 1148.8,1072 1149,1073.3 1149.2,1072.4 1149.5,1073.1 1149.8,1074 1150,1073.3 1150.2,1073.1 1150.5,1072.7 1150.8,1073.2 1151,1073.2 1151.2,1072.3 1151.5,1073.3 1151.8,1072.3 1152,1072.9 1152.2,1072.2 1152.5,1072.6 1152.8,1071.9 1153,1070.5 1153.2,1068.8 1153.5,1066.4 1153.8,1062.7 1154,1056 1154.2,1046.6 1154.5,1036 1154.8,1025.7 1155,1015.4 1155.2,1014.3 1155.2,1013.6 1155.5,1020.1 1155.8,1029 1156,1040.5 1156.2,1050 1156.5,1058.7 1156.8,1064.8 1157,1069 1157.2,1069.5 1157.5,1071.4 1157.8,1074.9 1158,1073.7 1158.2,1073.5 1158.5,1074.2 1158.8,1072.5 1159,1075.3 1159.2,1074.6 1159.5,1073.7 1159.8,1075.4 1160,1074.4 1160.2,1074.2 1160.5,1075.1 1160.8,1074.9 1161,1074.2 1161.2,1074.2 1161.5,1073 1161.8,1072.2 1162,1072.8 1162.2,1071.9 1162.5,1069.9 1162.8,1068.3 1163,1066.3 1163.2,1065.1 1163.5,1063.7 1163.7,1065.1 1163.8,1063.7 1164,1064.9 1164.2,1065.9 1164.5,1066.6 1164.8,1070.3 1165,1070.5 1165.2,1071.7 1165.5,1073.4 1165.8,1073.7 1166,1074.9 1166.2,1074.8 1166.5,1076.1 1166.8,1076.1 1167,1075.4 1167.2,1077 1167.5,1076.6 1167.8,1075.9 1168,1076.9 1168.2,1077 1168.5,1078 1168.8,1076.4 1169,1077.5 1169.2,1077 1169.5,1077.4 1169.8,1077 1170,1077.1 1170.2,1077.5 1170.5,1076.5 1170.8,1076 1171,1077.3 1171.2,1077.1 1171.5,1077.4 1171.8,1077.8 1172,1077.3 1172.2,1078.2 1172.5,1077.5 1172.8,1077.6 1173,1078.1 1173.2,1078 1173.5,1077.6 1173.8,1077.7 1174,1077.2 1174.2,1077.4 1174.5,1077.8 1174.8,1078.3 1175,1077.5 1175.2,1078.3 1175.5,1079 1175.8,1079.2 1176,1077.9 1176.2,1078.6 1176.5,1078.3 1176.8,1078.4 1177,1078.5 1177.2,1078.3 1177.5,1078.5 1177.8,1078.2 1178,1077.9 1178.2,1078.2 1178.5,1078.4 1178.8,1078.8 1179,1078.3 1179.2,1078.6 1179.5,1079 1179.8,1077.6 1180,1078 1180.2,1078.5 1180.5,1078.2 1180.8,1077.5 1181,1078.7 1181.2,1078.1 1181.5,1077.5 1181.8,1079.2 1182,1077.3 1182.2,1078 1182.5,1077.6 1182.8,1078.1 1183,1078.3 1183.2,1077.4 1183.5,1077.8 1183.8,1077.7 1184,1077.1 1184.2,1078.4 1184.5,1077.7 1184.8,1077.3 1185,1077 1185.2,1077 1185.5,1077 1185.8,1076.4 1186,1076.9 1186.2,1074 1186.5,1073.3 1186.8,1073.2 1187,1070.5 1187.2,1069.3 1187.5,1066 1187.8,1063.2 1188,1058.9 1188.2,1054.8 1188.5,1049.7 1188.8,1045.1 1189,1040.4 1189.2,1037.5 1189.5,1035.5 1189.6,1034.7 1189.8,1034.6 1190,1036.7 1190.2,1041.2 1190.5,1043.9 1190.8,1050.3 1191,1054.6 1191.2,1060.1 1191.5,1063.9 1191.8,1066.8 1192,1070 1192.2,1070.8 1192.5,1074 1192.8,1075.3 1193,1074.8 1193.2,1077 1193.5,1076.9 1193.8,1077.4 1194,1076.7 1194.2,1078 1194.5,1078.2 1194.8,1077.9 1195,1077.4 1195.2,1078.6 1195.5,1078.9 1195.8,1078.5 1196,1078.9 1196.2,1078 1196.5,1078.5 1196.8,1078.7 1197,1078.6 1197.2,1080.3 1197.5,1078.9 1197.8,1078.3 1198,1079.2 1198.2,1078 1198.5,1079 1198.8,1079.2 1199,1078.5 1199.2,1078.6 1199.5,1078.3 1199.8,1078.9 1200,1078.5 1200.2,1079.9 1200.5,1079.3 1200.8,1078.8 1201,1078.1 1201.2,1080.2 1201.5,1079.8 1201.8,1079.3 1202,1079.1 1202.2,1079.1 1202.5,1078.8 1202.8,1080.2 1203,1079.2 1203.2,1078.2 1203.5,1078.7 1203.8,1077.5 1204,1079.5 1204.2,1079.6 1204.5,1080.2 1204.8,1080.4 1205,1078.7 1205.2,1079.4 1205.5,1079.8 1205.8,1079.7 1206,1078.9 1206.2,1079.7 1206.5,1079.5 1206.8,1080 1207,1079.2 1207.2,1079.1 1207.5,1078.9 1207.8,1079 1208,1078.8 1208.2,1079.1 1208.5,1079.6 1208.8,1079.5 1209,1080.1 1209.2,1079.9 1209.5,1079.7 1209.8,1078.6 1210,1079.6 1210.2,1080 1210.5,1078.5 1210.8,1078.7 1211,1078.8 1211.2,1078.7 1211.5,1079.2 1211.8,1078.8 1212,1079.6 1212.2,1078.6 1212.5,1079.3 1212.8,1079.1 1213,1078.8 1213.2,1080 1213.5,1079.4 1213.8,1079.7 1214,1079.2 1214.2,1079.8 1214.5,1079.8 1214.8,1079.3 1215,1078.4 1215.2,1079.9 1215.5,1079.9 1215.8,1079.6 1216,1079.6 1216.2,1079.5 1216.5,1079.6 1216.8,1078.9 1217,1079.4 1217.2,1079.7 1217.5,1079.1 1217.8,1078.9 1218,1080.6 1218.2,1079.9 1218.5,1079.3 1218.8,1079.2 1219,1077.9 1219.2,1078.7 1219.5,1079.4 1219.8,1080.3 1220,1078.3 1220.2,1079.1 1220.5,1080.7 1220.8,1080 1221,1079.8 1221.2,1080.3 1221.5,1079.5 1221.8,1079.5 1222,1080 1222.2,1080.1 1222.5,1078.9 1222.8,1080.5 1223,1078.5 1223.2,1079.2 1223.5,1081.4 1223.8,1079.3 1224,1080 1224.2,1079 1224.5,1079.4 1224.8,1079.2 1225,1079.4 1225.2,1080 1225.5,1080.7 1225.8,1080.2 1226,1080.6 1226.2,1079.3 1226.5,1080.5 1226.8,1080 1227,1080.5 1227.2,1079.4 1227.5,1079.5 1227.8,1080.5 1228,1080 1228.2,1079.7 1228.5,1079.3 1228.8,1079.6 1229,1080 1229.2,1080.1 1229.5,1079.3 1229.8,1079.5 1230,1079.9 1230.2,1079 1230.5,1080.2 1230.8,1079.7 1231,1079.6 1231.2,1078.2 1231.5,1078.7 1231.8,1079.1 1232,1079.3 1232.2,1079 1232.5,1079.9 1232.8,1079.7 1233,1079.5 1233.2,1078.4 1233.5,1080.5 1233.8,1079.5 1234,1080 1234.2,1079.3 1234.5,1079.7 1234.8,1080.1 1235,1079.8 1235.2,1080.2 1235.5,1079.5 1235.8,1080.8 1236,1078.5 1236.2,1079.3 1236.5,1080.2 1236.8,1079.5 1237,1079.4 1237.2,1078.5 1237.5,1080.3 1237.8,1078.5 1238,1079.9 1238.2,1079.7 1238.5,1080.1 1238.8,1080.4 1239,1079.1 1239.2,1079 1239.5,1079.3 1239.8,1078.5 1240,1080 1240.2,1079.2 1240.5,1079.5 1240.8,1078.7 1241,1079.4 1241.2,1079 1241.5,1079.3 1241.8,1078.6 1242,1079.9 1242.2,1078.8 1242.5,1077.6 1242.8,1079.5 1243,1078.9 1243.2,1078.5 1243.5,1080.4 1243.8,1078.8 1244,1078 1244.2,1078.3 1244.5,1078.8 1244.8,1078.3 1245,1079.1 1245.2,1078.8 1245.5,1077.5 1245.8,1077.7 1246,1077.7 1246.2,1076.5 1246.5,1075.8 1246.8,1075.7 1247,1074.2 1247.2,1071.5 1247.5,1069.9 1247.8,1067.4 1248,1064.3 1248.2,1060.1 1248.5,1056.8 1248.8,1050.4 1249,1044.9 1249.2,1040.1 1249.5,1033.1 1249.8,1028.9 1250,1025.9 1250.2,1022.1 1250.5,1021.5 1250.8,1023.5 1251,1025.8 1251.2,1029.5 1251.5,1034.6 1251.8,1039.5 1252,1045.6 1252.2,1050.7 1252.5,1057.4 1252.8,1060.7 1253,1064 1253.2,1067.4 1253.5,1070 1253.8,1071.2 1254,1073.1 1254.2,1075.7 1254.5,1074.8 1254.8,1075.9 1255,1077.4 1255.2,1078 1255.5,1076.6 1255.8,1078.3 1256,1077.3 1256.2,1078.5 1256.5,1077.8 1256.8,1077.2 1257,1077.6 1257.2,1077.3 1257.5,1076.1 1257.8,1077.2 1258,1074.9 1258.2,1074.8 1258.5,1072.3 1258.8,1069.7 1259,1067.8 1259.2,1065.5 1259.5,1062.7 1259.8,1059.5 1260,1054.3 1260.2,1049.7 1260.5,1044.8 1260.8,1041.4 1261,1038.1 1261.2,1034 1261.5,1034.9 1261.6,1034.7 1261.8,1035.6 1262,1035.3 1262.2,1038.7 1262.5,1042.4 1262.8,1045.8 1263,1050.5 1263.2,1054.9 1263.5,1059.9 1263.8,1063.6 1264,1067.5 1264.2,1069.2 1264.5,1070.9 1264.8,1073.9 1265,1075.3 1265.2,1076.5 1265.5,1077.7 1265.8,1077.2 1266,1078.5 1266.2,1077.8 1266.5,1078.8 1266.8,1079.3 1267,1079 1267.2,1079.3 1267.5,1078.4 1267.8,1079 1268,1079.6 1268.2,1078.8 1268.5,1079.1 1268.8,1081.1 1269,1079.9 1269.2,1079.3 1269.5,1079.2 1269.8,1080.7 1270,1078.2 1270.2,1079.7 1270.5,1080.3 1270.8,1079.7 1271,1080.3 1271.2,1079.4 1271.5,1080.1 1271.8,1080.1 1272,1080.1 1272.2,1080.2 1272.5,1080.2 1272.8,1080.9 1273,1080.1 1273.2,1079.9 1273.5,1080.1 1273.8,1080.1 1274,1079.4 1274.2,1079.1 1274.5,1079.5 1274.8,1080.5 1275,1079.9 1275.2,1080.1 1275.5,1082.1 1275.8,1081.1 1276,1080.3 1276.2,1080 1276.5,1081.2 1276.8,1080 1277,1081.2 1277.2,1080.8 1277.5,1081.3 1277.8,1080 1278,1081 1278.2,1079.4 1278.5,1080.4 1278.8,1081.2 1279,1080.9 1279.2,1079.4 1279.5,1081 1279.8,1080.8 1280,1080.5 1280.2,1080.1 1280.5,1080.4 1280.8,1080.2 1281,1081.1 1281.2,1080.8 1281.5,1081.2 1281.8,1081 1282,1079.8 1282.2,1080.7 1282.5,1081.9 1282.8,1079.9 1283,1080.8 1283.2,1080.1 1283.5,1080.1 1283.8,1080.7 1284,1081.1 1284.2,1081 1284.5,1080.9 1284.8,1081.2 1285,1079.6 1285.2,1081.1 1285.5,1080.8 1285.8,1080.5 1286,1080.6 1286.2,1080.1 1286.5,1081.3 1286.8,1080.1 1287,1079.7 1287.2,1080.6 1287.5,1080.2 1287.8,1080.5 1288,1081.5 1288.2,1080.5 1288.5,1080.7 1288.8,1081.9 1289,1079.7 1289.2,1080.8 1289.5,1081.3 1289.8,1081.5 1290,1081.9 1290.2,1080.2 1290.5,1080.9 1290.8,1080.5 1291,1080.3 1291.2,1080.1 1291.5,1079.7 1291.8,1080.8 1292,1081 1292.2,1079.9 1292.5,1081 1292.8,1080.2 1293,1079.9 1293.2,1079 1293.5,1081.2 1293.8,1081 1294,1080.4 1294.2,1080.3 1294.5,1079.7 1294.8,1080.8 1295,1080.5 1295.2,1080.8 1295.5,1080.6 1295.8,1079.7 1296,1079.6 1296.2,1080.8 1296.5,1079.5 1296.8,1080.7 1297,1081 1297.2,1079.7 1297.5,1080.9 1297.8,1080.5 1298,1080.8 1298.2,1080.1 1298.5,1080.4 1298.8,1080.7 1299,1081.5 1299.2,1080.9 1299.5,1080.7 1299.8,1079.6 1300,1080.6 1300.2,1080 1300.5,1080.3 1300.8,1080.5 1301,1080.9 1301.2,1080.7 1301.5,1080.4 1301.8,1080.3 1302,1081.1 1302.2,1079.7 1302.5,1080.3 1302.8,1081.1 1303,1080.1 1303.2,1080.7 1303.5,1080.7 1303.8,1081.3 1304,1080.8 1304.2,1079.1 1304.5,1080 1304.8,1080.2 1305,1080.5 1305.2,1080.1 1305.5,1081 1305.8,1080.5 1306,1079 1306.2,1079.3 1306.5,1078.4 1306.8,1080.6 1307,1079.4 1307.2,1079.3 1307.5,1078.4 1307.8,1079 1308,1079.4 1308.2,1078.8 1308.5,1078.7 1308.8,1078.4 1309,1079.8 1309.2,1078.1 1309.5,1077.4 1309.8,1077.8 1310,1077.6 1310.2,1077.4 1310.5,1077 1310.8,1075.9 1311,1075.8 1311.2,1075.3 1311.5,1073.1 1311.8,1073.7 1312,1071.6 1312.2,1067 1312.5,1064.7 1312.8,1061.7 1313,1057.1 1313.2,1051.7 1313.5,1042.9 1313.8,1035.9 1314,1028.2 1314.2,1020.3 1314.5,1010.6 1314.8,1003.1 1315,995.5 1315.2,989.5 1315.5,984 1315.8,983.1 1315.8,982.9 1316,983.5 1316.2,987.9 1316.5,992.4 1316.8,1000.6 1317,1007.5 1317.2,1017.5 1317.5,1026.1 1317.8,1033 1318,1041.4 1318.2,1048.3 1318.5,1053.5 1318.8,1059.8 1319,1063.9 1319.2,1066.4 1319.5,1069.8 1319.8,1072.4 1320,1073.4 1320.2,1074.3 1320.5,1076.7 1320.8,1075.8 1321,1077.1 1321.2,1078 1321.5,1078.2 1321.8,1076.8 1322,1078 1322.2,1078.3 1322.5,1078.4 1322.8,1079.1 1323,1079.2 1323.2,1079 1323.5,1079.2 1323.8,1079.8 1324,1080 1324.2,1078.2 1324.5,1080.7 1324.8,1079.1 1325,1080 1325.2,1078.6 1325.5,1079.3 1325.8,1078.9 1326,1080.4 1326.2,1080.3 1326.5,1079.8 1326.8,1079.7 1327,1080 1327.2,1079.2 1327.5,1079.5 1327.8,1079.4 1328,1080.3 1328.2,1079.8 1328.5,1079 1328.8,1080 1329,1080.1 1329.2,1080.5 1329.5,1079.3 1329.8,1079.8 1330,1080.6 1330.2,1079 1330.5,1078.6 1330.8,1078.6 1331,1077.2 1331.2,1076.2 1331.5,1074.1 1331.8,1071.6 1332,1069.8 1332.2,1066.1 1332.5,1063.2 1332.8,1062.4 1332.8,1062.5 1333,1063.4 1333.2,1065.8 1333.5,1069.2 1333.8,1070.3 1334,1073.5 1334.2,1074.6 1334.5,1077.3 1334.8,1078.6 1335,1078.5 1335.2,1078.8 1335.5,1079 1335.8,1078.9 1336,1080.3 1336.2,1081.2 1336.5,1079.4 1336.8,1081.2 1337,1080.2 1337.2,1079.5 1337.5,1080.7 1337.8,1080.9 1338,1080.7 1338.2,1080.3 1338.5,1081.5 1338.8,1080.3 1339,1080.9 1339.2,1080.9 1339.5,1080 1339.8,1079.5 1340,1079.5 1340.2,1080.4 1340.5,1080.8 1340.8,1079.5 1341,1080.2 1341.2,1081.6 1341.5,1079.5 1341.8,1080.9 1342,1080.8 1342.2,1081.1 1342.5,1079.7 1342.8,1080.8 1343,1079.7 1343.2,1081.4 1343.5,1080 1343.8,1080.7 1344,1079.9 1344.2,1080.4 1344.5,1079.3 1344.8,1080.2 1345,1080.2 1345.2,1079.4 1345.5,1079.9 1345.8,1078.5 1346,1078 1346.2,1076.8 1346.5,1076.6 1346.8,1074.1 1347,1073.4 1347.2,1072.9 1347.4,1073.3 1347.5,1073.1 1347.8,1074 1348,1074.5 1348.2,1075 1348.5,1076.4 1348.8,1077.7 1349,1076.9 1349.2,1079.8 1349.5,1079.1 1349.8,1079.7 1350,1080.3 1350.2,1080.2 1350.5,1079.6 1350.8,1080.5 1351,1081.5 1351.2,1081.4 1351.5,1081.5 1351.8,1080.5 1352,1080.7 1352.2,1081.5 1352.5,1081.8 1352.8,1081 1353,1080.4 1353.2,1079.8 1353.5,1081.9 1353.8,1080.1 1354,1081.3 1354.2,1081.6 1354.5,1083.1 1354.8,1081.2 1355,1081 1355.2,1081.4 1355.5,1081.4 1355.8,1081.9 1356,1081.6 1356.2,1080.7 1356.5,1079.8 1356.8,1081.3 1357,1080.7 1357.2,1082 1357.5,1080.4 1357.8,1081.3 1358,1080.7 1358.2,1080.6 1358.5,1082.2 1358.8,1081.3 1359,1081.1 1359.2,1081.6 1359.5,1080.7 1359.8,1081 1360,1080.8 1360.2,1082.4 1360.5,1081.4 1360.8,1081.6 1361,1081.9 1361.2,1081.1 1361.5,1081.1 1361.8,1080.2 1362,1081.5 1362.2,1081.3 1362.5,1080.9 1362.8,1081.9 1363,1080.1 1363.2,1081.4 1363.5,1080.3 1363.8,1080.4 1364,1081 1364.2,1082 1364.5,1080.4 1364.8,1080.5 1365,1080.3 1365.2,1082.3 1365.5,1081.4 1365.8,1081.3 1366,1082.3 1366.2,1081.2 1366.5,1079.7 1366.8,1080.6 1367,1080.2 1367.2,1082.1 1367.5,1080 1367.8,1081 1368,1080.4 1368.2,1080.4 1368.5,1080.6 1368.8,1080.4 1369,1080 1369.2,1079.5 1369.5,1079.6 1369.8,1079.1 1370,1078.8 1370.2,1078.8 1370.5,1077.6 1370.8,1076.4 1371,1073.8 1371.2,1072.4 1371.5,1067.4 1371.8,1063.8 1372,1062.1 1372.2,1059.6 1372.3,1060.1 1372.5,1061.3 1372.8,1063 1373,1066.1 1373.2,1070.3 1373.5,1072.9 1373.8,1074.7 1374,1076 1374.2,1077.7 1374.5,1077.6 1374.8,1078.5 1375,1078.6 1375.2,1079.7 1375.5,1080.1 1375.8,1079.2 1376,1079.4 1376.2,1078.9 1376.5,1078.7 1376.8,1079.3 1377,1079.9 1377.2,1079.7 1377.5,1079.7 1377.8,1079.1 1378,1077.4 1378.2,1079.5 1378.5,1079.6 1378.8,1079.1 1379,1078.9 1379.2,1078.7 1379.5,1079.3 1379.8,1077.3 1380,1077.5 1380.2,1076.2 1380.5,1075.1 1380.8,1073.2 1381,1071.3 1381.2,1068.5 1381.5,1066.7 1381.8,1062.5 1382,1057.4 1382.2,1052.3 1382.5,1045.6 1382.8,1039.9 1383,1030.5 1383.2,1021.6 1383.5,1011.2 1383.8,1001.4 1384,993 1384.2,983.1 1384.5,975.6 1384.8,970.6 1385,967.2 1385.2,965.4 1385.2,965.4 1385.5,967.2 1385.8,971.5 1386,979.7 1386.2,986.1 1386.5,996.2 1386.8,1004.9 1387,1015.2 1387.2,1025.7 1387.5,1034.5 1387.8,1042.4 1388,1049 1388.2,1054.8 1388.5,1059.9 1388.8,1064.2 1389,1068.5 1389.2,1071.4 1389.5,1072.8 1389.8,1073.9 1390,1074.9 1390.2,1076.6 1390.5,1077 1390.8,1076.6 1391,1079.1 1391.2,1078.6 1391.5,1078.7 1391.8,1078.6 1392,1078.8 1392.2,1080.1 1392.5,1079.2 1392.8,1080 1393,1080.5 1393.2,1081.3 1393.5,1080.7 1393.8,1080.4 1394,1080.2 1394.2,1081.2 1394.5,1081.3 1394.8,1080.5 1395,1081.2 1395.2,1080.9 1395.5,1080 1395.8,1080.4 1396,1081.6 1396.2,1082.1 1396.5,1081.7 1396.8,1081.2 1397,1080.9 1397.2,1081.7 1397.5,1081.6 1397.8,1080.5 1398,1081.9 1398.2,1081.1 1398.5,1082 1398.8,1081.9 1399,1082.1 1399.2,1082.3 1399.5,1082.1 1399.8,1081.1 1400,1081.1 1400.2,1082.4 1400.5,1082.1 1400.8,1080.8 1401,1080.6 1401.2,1082.4 1401.5,1083.3 1401.8,1082.4 1402,1081.8 1402.2,1082.1 1402.5,1080.2 1402.8,1081.3 1403,1082.6 1403.2,1082.5 1403.5,1080.7 1403.8,1082.7 1404,1082.4 1404.2,1082.6 1404.5,1081.9 1404.8,1082.1 1405,1081.4 1405.2,1082.3 1405.5,1082.7 1405.8,1081.5 1406,1082.3 1406.2,1081.8 1406.5,1082.8 1406.8,1082.8 1407,1080.7 1407.2,1082.4 1407.5,1082.8 1407.8,1081.8 1408,1082 1408.2,1082.1 1408.5,1081.5 1408.8,1082.1 1409,1083.2 1409.2,1082.5 1409.5,1083.2 1409.8,1082.9 1410,1083 1410.2,1082.3 1410.5,1082.7 1410.8,1083.5 1411,1083.2 1411.2,1082.5 1411.5,1081.8 1411.8,1081.7 1412,1082.4 1412.2,1082.6 1412.5,1081.1 1412.8,1082.4 1413,1082.5 1413.2,1082.5 1413.5,1082 1413.8,1083.8 1414,1082.9 1414.2,1081.5 1414.5,1081.9 1414.8,1082.8 1415,1082.7 1415.2,1082.4 1415.5,1082.3 1415.8,1082.2 1416,1082.1 1416.2,1081.7 1416.5,1082.7 1416.8,1080.6 1417,1081.9 1417.2,1083.1 1417.5,1081.9 1417.8,1081.6 1418,1083.5 1418.2,1083 1418.5,1082.3 1418.8,1082 1419,1082.2 1419.2,1082.2 1419.5,1082.2 1419.8,1081.9 1420,1082.7 1420.2,1082 1420.5,1081.2 1420.8,1081.6 1421,1082.4 1421.2,1081.7 1421.5,1080.8 1421.8,1083.3 1422,1082.7 1422.2,1082.1 1422.5,1082.1 1422.8,1082.7 1423,1083.2 1423.2,1082 1423.5,1082.6 1423.8,1082 1424,1082.6 1424.2,1081.7 1424.5,1081.2 1424.8,1082.4 1425,1082.3 1425.2,1082.8 1425.5,1081.9 1425.8,1083.2 1426,1082.4 1426.2,1083.3 1426.5,1082.1 1426.8,1083.3 1427,1082.3 1427.2,1082.4 1427.5,1082.9 1427.8,1081.2 1428,1081.7 1428.2,1083.5 1428.5,1081.4 1428.8,1082 1429,1082.6 1429.2,1083.2 1429.5,1082 1429.8,1082.3 1430,1081.5 1430.2,1082 1430.5,1082.8 1430.8,1082.4 1431,1082.1 1431.2,1082.4 1431.5,1082.2 1431.8,1082.2 1432,1081.8 1432.2,1081.3 1432.5,1082.3 1432.8,1081.1 1433,1082.3 1433.2,1082.9 1433.5,1082.3 1433.8,1082.6 1434,1080.1 1434.2,1080.3 1434.5,1078.9 1434.8,1077.9 1435,1076 1435.2,1074.6 1435.5,1073.9 1435.8,1071.8 1436,1070 1436.2,1068.4 1436.5,1067.2 1436.6,1066.2 1436.8,1066.8 1437,1068.4 1437.2,1070.5 1437.5,1071.5 1437.8,1073.5 1438,1075.4 1438.2,1078.3 1438.5,1079 1438.8,1079.4 1439,1079.9 1439.2,1081.1 1439.5,1080.2 1439.8,1081.3 1440,1081.3 1440.2,1081.4 1440.5,1082 1440.8,1082.2 1441,1083.9 1441.2,1082.1 1441.5,1082.5 1441.8,1081.6 1442,1081.1 1442.2,1082.9 1442.5,1083.4 1442.8,1081.6 1443,1082.2 1443.2,1082.9 1443.5,1082.3 1443.8,1080.8 1444,1082.9 1444.2,1082.2 1444.5,1082.7 1444.8,1081.7 1445,1082.8 1445.2,1082.9 1445.5,1081.9 1445.8,1082.6 1446,1081.9 1446.2,1082 1446.5,1081.7 1446.8,1082 1447,1081.9 1447.2,1083 1447.5,1082.1 1447.8,1081.6 1448,1083.1 1448.2,1082.6 1448.5,1082.9 1448.8,1082.2 1449,1082.7 1449.2,1082.1 1449.5,1081.6 1449.8,1082.2 1450,1082.3 1450.2,1082.2 1450.5,1082.6 1450.8,1081 1451,1082.3 1451.2,1081.6 1451.5,1081.9 1451.8,1082.3 1452,1082 1452.2,1081.5 1452.5,1082.4 1452.8,1081.9 1453,1082.4 1453.2,1082.6 1453.5,1081.5 1453.8,1081 1454,1081.7 1454.2,1082.1 1454.5,1081.7 1454.8,1080.8 1455,1080.4 1455.2,1080.7 1455.5,1080.6 1455.8,1081.5 1456,1081 1456.2,1081.4 1456.5,1080.6 1456.8,1081.5 1457,1080.2 1457.2,1080.2 1457.5,1079 1457.8,1078.9 1458,1078.3 1458.2,1076.8 1458.5,1075.3 1458.8,1071.9 1459,1069.7 1459.2,1067 1459.5,1062.2 1459.8,1057.7 1460,1053.2 1460.2,1048.8 1460.5,1045.7 1460.8,1043.9 1461,1042.3 1461.2,1042.6 1461.5,1044.1 1461.8,1046.9 1462,1052.6 1462.2,1054.5 1462.5,1058.2 1462.8,1060.7 1463,1063.3 1463.2,1064.3 1463.5,1065.1 1463.8,1065.7 1464,1063.2 1464.2,1062.1 1464.5,1059.3 1464.8,1056.7 1465,1052.2 1465.2,1048.8 1465.5,1043.4 1465.8,1038.1 1466,1033.5 1466.2,1028.7 1466.5,1023.7 1466.8,1019.5 1467,1016.2 1467.2,1011.3 1467.5,1009.5 1467.8,1007.7 1468,1006.6 1468.2,1007.1 1468.5,1009.6 1468.8,1012.4 1469,1015.5 1469.2,1019.9 1469.5,1024.7 1469.8,1029 1470,1034.9 1470.2,1040.1 1470.5,1045.9 1470.8,1048.7 1471,1053.3 1471.2,1057.8 1471.5,1061 1471.8,1064.2 1472,1067.2 1472.2,1069.4 1472.5,1071.6 1472.8,1073.5 1473,1073.7 1473.2,1076.2 1473.5,1075.4 1473.8,1078.6 1474,1078.7 1474.2,1078.3 1474.5,1079.6 1474.8,1079.3 1475,1079.9 1475.2,1080.3 1475.5,1080.2 1475.8,1080.1 1476,1080.6 1476.2,1080.2 1476.5,1080.2 1476.8,1079.9 1477,1079.5 1477.2,1081.6 1477.5,1081.1 1477.8,1079.9 1478,1081 1478.2,1080.9 1478.5,1079.4 1478.8,1080.2 1479,1080.7 1479.2,1081.7 1479.5,1081.3 1479.8,1081.4 1480,1080.8 1480.2,1081.1 1480.5,1079.7 1480.8,1080.7 1481,1080.7 1481.2,1079.3 1481.5,1080 1481.8,1080.6 1482,1080.5 1482.2,1079.8 1482.5,1078.1 1482.8,1077.8 1483,1076.8 1483.2,1076.9 1483.5,1074.4 1483.8,1072.7 1484,1070.5 1484.2,1069.2 1484.5,1066.6 1484.8,1062.8 1485,1058.9 1485.2,1055 1485.5,1051.3 1485.8,1044.6 1486,1039.9 1486.2,1034.5 1486.5,1029 1486.8,1024.1 1487,1018.9 1487.2,1014.3 1487.5,1011.7 1487.8,1009.4 1488,1008.2 1488.2,1008.9 1488.5,1010.2 1488.8,1014.3 1489,1018 1489.2,1022.8 1489.5,1028.7 1489.8,1033.5 1490,1039.6 1490.2,1045.3 1490.5,1050.9 1490.8,1055.2 1491,1059.9 1491.2,1064.4 1491.5,1067.2 1491.8,1068.8 1492,1070.7 1492.2,1073.2 1492.5,1074.8 1492.8,1075.4 1493,1076.6 1493.2,1077.4 1493.5,1078.7 1493.8,1080.4 1494,1081 1494.2,1079.7 1494.5,1080.3 1494.8,1079.9 1495,1080 1495.2,1081 1495.5,1081.3 1495.8,1081 1496,1081.8 1496.2,1081.3 1496.5,1082.3 1496.8,1081.4 1497,1082.3 1497.2,1081.7 1497.5,1082 1497.8,1082.4 1498,1081.2 1498.2,1081.6 1498.5,1082.1 1498.8,1082 1499,1082.4 1499.2,1081.8 1499.5,1081.5 1499.8,1082.3 1500,1082.6 1500.2,1081.9 1500.5,1083.2 1500.8,1082.9 1501,1083 1501.2,1083 1501.5,1082 1501.8,1083.9 1502,1082.2 1502.2,1082.9 1502.5,1083.1 1502.8,1082.9 1503,1082.8 1503.2,1082.2 1503.5,1082.5 1503.8,1082.8 1504,1083.6 1504.2,1082.4 1504.5,1083.2 1504.8,1083.1 1505,1082.9 1505.2,1082.5 1505.5,1082.8 1505.8,1081.8 1506,1083 1506.2,1083.1 1506.5,1082.6 1506.8,1083.2 1507,1083.1 1507.2,1082.5 1507.5,1083.4 1507.8,1082.6 1508,1084.4 1508.2,1082.3 1508.5,1082.4 1508.8,1082.5 1509,1083.1 1509.2,1083.6 1509.5,1082.9 1509.8,1082.6 1510,1084 1510.2,1083.4 1510.5,1082.6 1510.8,1082.7 1511,1081.8 1511.2,1082.7 1511.5,1083.7 1511.8,1081.9 1512,1081.7 1512.2,1082.6 1512.5,1081 1512.8,1083.2 1513,1081.4 1513.2,1081.7 1513.5,1081.9 1513.8,1082.5 1514,1081.8 1514.2,1080.1 1514.5,1079.7 1514.8,1080.2 1515,1077.9 1515.2,1077.9 1515.5,1076.1 1515.8,1075.1 1516,1073.1 1516.2,1068.1 1516.5,1066.6 1516.8,1063.1 1517,1058.4 1517.2,1054.5 1517.5,1050.2 1517.8,1047.2 1518,1044.8 1518.2,1043.4 1518.5,1042.8 1518.8,1042.5 1519,1044 1519.2,1048 1519.5,1049.3 1519.8,1054.1 1520,1059.3 1520.2,1064.2 1520.5,1066 1520.8,1069.7 1521,1071.8 1521.2,1074.7 1521.5,1076.6 1521.8,1077.7 1522,1079.6 1522.2,1080.1 1522.5,1081.2 1522.8,1081.3 1523,1081 1523.2,1082.1 1523.5,1082.8 1523.8,1081.9 1524,1083.3 1524.2,1082.9 1524.5,1082.5 1524.8,1082.8 1525,1082.6 1525.2,1082.4 1525.5,1083.6 1525.8,1083.6 1526,1082.9 1526.2,1083.1 1526.5,1083.1 1526.8,1083.7 1527,1084.2 1527.2,1082.9 1527.5,1083.5 1527.8,1083.4 1528,1083.7 1528.2,1084.3 1528.5,1082.9 1528.8,1082.2 1529,1083.4 1529.2,1082.6 1529.5,1084.5 1529.8,1083.1 1530,1083.4 1530.2,1083.7 1530.5,1083.7 1530.8,1083.4 1531,1083.6 1531.2,1084.2 1531.5,1083.5 1531.8,1084.8 1532,1083.9 1532.2,1082.3 1532.5,1084.3 1532.8,1082.7 1533,1084 1533.2,1085.1 1533.5,1084.4 1533.8,1083.1 1534,1083.3 1534.2,1083.8 1534.5,1084.7 1534.8,1083.4 1535,1084.5 1535.2,1084 1535.5,1083.8 1535.8,1083.8 1536,1084.9 1536.2,1083 1536.5,1083.2 1536.8,1084.4 1537,1084.5 1537.2,1083.1 1537.5,1083.4 1537.8,1083.2 1538,1084.3 1538.2,1083.6 1538.5,1084.8 1538.8,1084.4 1539,1084.1 1539.2,1084.1 1539.5,1084.3 1539.8,1084.5 1540,1084 1540.2,1084.2 1540.5,1084.5 1540.8,1084 1541,1084.6 1541.2,1083.9 1541.5,1083.6 1541.8,1084.1 1542,1085 1542.2,1084.9 1542.5,1083.1 1542.8,1084.2 1543,1083.8 1543.2,1083.9 1543.5,1083.9 1543.8,1083.9 1544,1083.8 1544.2,1083.9 1544.5,1084.2 1544.8,1083.4 1545,1083.4 1545.2,1083.4 1545.5,1083.4 1545.8,1084.5 1546,1083.5 1546.2,1084.1 1546.5,1084.2 1546.8,1084.6 1547,1084.2 1547.2,1084.8 1547.5,1084.1 1547.8,1084.3 1548,1084.6 1548.2,1083.3 1548.5,1084.4 1548.8,1085.1 1549,1084.3 1549.2,1084 1549.5,1085.3 1549.8,1084.3 1550,1084.9 1550.2,1082.8 1550.5,1084.3 1550.8,1083.9 1551,1084.5 1551.2,1084.9 1551.5,1084.1 1551.8,1084.1 1552,1082.6 1552.2,1084.7 1552.5,1085.1 1552.8,1084.4 1553,1084 1553.2,1084.5 1553.5,1084.9 1553.8,1084.7 1554,1085.5 1554.2,1084 1554.5,1083.5 1554.8,1084.6 1555,1085.1 1555.2,1084 1555.5,1084.3 1555.8,1083.9 1556,1083.6 1556.2,1083.9 1556.5,1083.1 1556.8,1084.5 1557,1084.6 1557.2,1084.9 1557.5,1083.9 1557.8,1084 1558,1083.4 1558.2,1083.5 1558.5,1084.9 1558.8,1086.1 1559,1083.7 1559.2,1084.1 1559.5,1084.9 1559.8,1084 1560,1084.7 1560.2,1084.2 1560.5,1084.2 1560.8,1084.9 1561,1084.3 1561.2,1083.6 1561.5,1084.9 1561.8,1084.4 1562,1084.1 1562.2,1083.9 1562.5,1084.8 1562.8,1084 1563,1084.5 1563.2,1085 1563.5,1084.4 1563.8,1085.1 1564,1083.6 1564.2,1084.8 1564.5,1084.8 1564.8,1085.6 1565,1084.5 1565.2,1085 1565.5,1084.4 1565.8,1083.8 1566,1083.9 1566.2,1084 1566.5,1084.9 1566.8,1084 1567,1084.5 1567.2,1085 1567.5,1085.2 1567.8,1085 1568,1085.4 1568.2,1083.8 1568.5,1084.2 1568.8,1084.7 1569,1085.2 1569.2,1084.8 1569.5,1084 1569.8,1084.4 1570,1083.5 1570.2,1085 1570.5,1083.4 1570.8,1084.6 1571,1085.2 1571.2,1085 1571.5,1083.5 1571.8,1084.6 1572,1084.3 1572.2,1084.3 1572.5,1085.5 1572.8,1084.7 1573,1083.7 1573.2,1083.9 1573.5,1085 1573.8,1084.7 1574,1083.8 1574.2,1083.5 1574.5,1084.2 1574.8,1084.3 1575,1085 1575.2,1084.2 1575.5,1084.9 1575.8,1085.3 1576,1083.6 1576.2,1084.2 1576.5,1085.5 1576.8,1084.3 1577,1084.5 1577.2,1085.1 1577.5,1084.1 1577.8,1084.3 1578,1083.6 1578.2,1084.9 1578.5,1084.3 1578.8,1084.3 1579,1083 1579.2,1085.1 1579.5,1085 1579.8,1084.1 1580,1085.3 1580.2,1083.1 1580.5,1084.5 1580.8,1083.5 1581,1086.2 1581.2,1083 1581.5,1083.8 1581.8,1084.1 1582,1085 1582.2,1085.1 1582.5,1084.8 1582.8,1084.4 1583,1085.8 1583.2,1084.1 1583.5,1084.8 1583.8,1085.6 1584,1083.8 1584.2,1084.1 1584.5,1085.2 1584.8,1084.8 1585,1083.8 1585.2,1084.6 1585.5,1085.7 1585.8,1084.4 1586,1085.1 1586.2,1084.7 1586.5,1084.2 1586.8,1085.5 1587,1085.2 1587.2,1085.3 1587.5,1084.5 1587.8,1084.6 1588,1084.7 1588.2,1084.8 1588.5,1084.4 1588.8,1084.3 1589,1085.4 1589.2,1083.9 1589.5,1084.3 1589.8,1084.4 1590,1084.3 1590.2,1083.9 1590.5,1084.1 1590.8,1085.1 1591,1084.4 1591.2,1084.1 1591.5,1085.6 1591.8,1083.8 1592,1085.2 1592.2,1084.8 1592.5,1083.8 1592.8,1084.3 1593,1084.3 1593.2,1085.4 1593.5,1085.1 1593.8,1084.4 1594,1083.9 1594.2,1083.5 1594.5,1084.5 1594.8,1083.7 1595,1084.5 1595.2,1084.4 1595.5,1084.8 1595.8,1085.2 1596,1084.6 1596.2,1084.8 1596.5,1084.4 1596.8,1085.2 1597,1085 1597.2,1085.5 1597.5,1085.3 1597.8,1084.1 1598,1083.6 1598.2,1084.9 1598.5,1085.1 1598.8,1084 1599,1085.3 1599.2,1084.5 1599.5,1084.3 1599.8,1084.6 1600,1083.5 1600.2,1083.3 1600.5,1084 1600.8,1083.5 1601,1084.1 1601.2,1084 1601.5,1082.4 1601.8,1083.4 1602,1084 1602.2,1082.1 1602.5,1083 1602.8,1081.9 1603,1080.9 1603.2,1081.9 1603.5,1080.7 1603.8,1078.3 1604,1076.4 1604.2,1075.5 1604.5,1073.1 1604.8,1070.3 1605,1069.2 1605.2,1068 1605.3,1067.7 1605.5,1068.6 1605.8,1069.3 1606,1071.9 1606.2,1073.6 1606.5,1075.6 1606.8,1077.5 1607,1079.8 1607.2,1081.4 1607.5,1082.1 1607.8,1082 1608,1083.4 1608.2,1082.9 1608.5,1083 1608.8,1083.7 1609,1084.4 1609.2,1084.5 1609.5,1084.5 1609.8,1085 1610,1084.8 1610.2,1084.1 1610.5,1084.8 1610.8,1084.2 1611,1084.7 1611.2,1084.8 1611.5,1084.4 1611.8,1083.6 1612,1084.4 1612.2,1084.4 1612.5,1084.5 1612.8,1084.3 1613,1083.9 1613.2,1083.7 1613.5,1085 1613.8,1085.1 1614,1084.9 1614.2,1084.6 1614.5,1085.8 1614.8,1085.1 1615,1084.7 1615.2,1085.2 1615.5,1084.7 1615.8,1085.1 1616,1084.9 1616.2,1085.1 1616.5,1084.8 1616.8,1084.5 1617,1085.1 1617.2,1085.4 1617.5,1084.2 1617.8,1084.5 1618,1084.1 1618.2,1085.3 1618.5,1084.7 1618.8,1085.3 1619,1084.3 1619.2,1085.3 1619.5,1084.5 1619.8,1084.5 1620,1085.1 1620.2,1084.6 1620.5,1084.5 1620.8,1085.3 1621,1084.8 1621.2,1085.5 1621.5,1086.3 1621.8,1084.5 1622,1084.6 1622.2,1083.9 1622.5,1084.1 1622.8,1085.2 1623,1085 1623.2,1085 1623.5,1085.1 1623.8,1084.3 1624,1083.8 1624.2,1085.4 1624.5,1084.9 1624.8,1085.5 1625,1084.8 1625.2,1085.2 1625.5,1084.5 1625.8,1084.8 1626,1084.7 1626.2,1085 1626.5,1085.6 1626.8,1085.2 1627,1083.1 1627.2,1084.7 1627.5,1084.8 1627.8,1085.2 1628,1084.8 1628.2,1084.3 1628.5,1084.3 1628.8,1084.5 1629,1084.3 1629.2,1085.6 1629.5,1085.1 1629.8,1084.7 1630,1085.3 1630.2,1086 1630.5,1084.6 1630.8,1084.7 1631,1084.5 1631.2,1083.9 1631.5,1084.3 1631.8,1084.1 1632,1084.9 1632.2,1084.9 1632.5,1085.1 1632.8,1084.1 1633,1085.1 1633.2,1083.9 1633.5,1084.4 1633.8,1085.2 1634,1085.1 1634.2,1085 1634.5,1085.6 1634.8,1084.9 1635,1084 1635.2,1084 1635.5,1083.6 1635.8,1084 1636,1083.3 1636.2,1083.1 1636.5,1082.5 1636.8,1081.6 1637,1083.3 1637.2,1081.4 1637.5,1078.3 1637.8,1078.2 1638,1075.7 1638.2,1072.5 1638.5,1071.5 1638.8,1069.8 1639,1068.7 1639.2,1068.7 1639.2,1067.5 1639.5,1068.7 1639.8,1070.8 1640,1072.8 1640.2,1074.9 1640.5,1076.8 1640.8,1079.3 1641,1079.3 1641.2,1080.3 1641.5,1083.1 1641.8,1082.9 1642,1083.8 1642.2,1083.5 1642.5,1083.4 1642.8,1083.5 1643,1083.9 1643.2,1083.6 1643.5,1083.9 1643.8,1084 1644,1084.5 1644.2,1084.5 1644.5,1085 1644.8,1083.7 1645,1084.1 1645.2,1084.6 1645.5,1084.3 1645.8,1082.6 1646,1084.2 1646.2,1084 1646.5,1083.7 1646.8,1083.7 1647,1083.4 1647.2,1084.5 1647.5,1084.1 1647.8,1083.8 1648,1084.2 1648.2,1084 1648.5,1082.8 1648.8,1082.5 1649,1082.4 1649.2,1083.2 1649.5,1082.4 1649.8,1082.8 1650,1081.8 1650.2,1080.5 1650.5,1078.7 1650.8,1077.7 1651,1076.8 1651.2,1072 1651.5,1068.1 1651.8,1063.8 1652,1059.4 1652.2,1053.1 1652.5,1047.4 1652.8,1044.1 1653,1043 1653.2,1044.4 1653.5,1048.5 1653.8,1054.3 1654,1059 1654.2,1063.7 1654.5,1067.8 1654.8,1071.1 1655,1074.7 1655.2,1077.1 1655.5,1078.1 1655.8,1078.1 1656,1078.6 1656.2,1077.5 1656.5,1076.3 1656.8,1074.4 1657,1072.1 1657.2,1068.9 1657.5,1066 1657.8,1061.7 1658,1058.3 1658.2,1056.5 1658.5,1055.5 1658.8,1056.7 1659,1058.2 1659.2,1063 1659.5,1066.1 1659.8,1069.2 1660,1073.1 1660.2,1075.2 1660.5,1077.5 1660.8,1079.5 1661,1081.5 1661.2,1081 1661.5,1082.5 1661.8,1082.6 1662,1084 1662.2,1083.4 1662.5,1083.8 1662.8,1084.4 1663,1083.1 1663.2,1083.6 1663.5,1083.1 1663.8,1083.5 1664,1084.3 1664.2,1084 1664.5,1084.4 1664.8,1084 1665,1083.9 1665.2,1084.2 1665.5,1083.8 1665.8,1083.7 1666,1083.5 1666.2,1084.4 1666.5,1084.7 1666.8,1083.8 1667,1084.2 1667.2,1083.2 1667.5,1083.8 1667.8,1084.6 1668,1083.8 1668.2,1084.8 1668.5,1084.3 1668.8,1084.8 1669,1084.3 1669.2,1083.8 1669.5,1084.6 1669.8,1085 1670,1084.3 1670.2,1084.9 1670.5,1084.2 1670.8,1084.5 1671,1085.4 1671.2,1084.7 1671.5,1084.1 1671.8,1085 1672,1084.7 1672.2,1084.4 1672.5,1085.1 1672.8,1083 1673,1085.1 1673.2,1085.8 1673.5,1084.9 1673.8,1083.6 1674,1085.5 1674.2,1086.2 1674.5,1085.1 1674.8,1084.1 1675,1084.4 1675.2,1084.7 1675.5,1084.9 1675.8,1085.4 1676,1085.1 1676.2,1083.5 1676.5,1084.6 1676.8,1084.7 1677,1085.9 1677.2,1084.4 1677.5,1084 1677.8,1084.6 1678,1084.9 1678.2,1083.7 1678.5,1085.4 1678.8,1084.7 1679,1085.3 1679.2,1085.2 1679.5,1085.1 1679.8,1085.6 1680,1085.8 1680.2,1084.6 1680.5,1084.8 1680.8,1085.4 1681,1084.9 1681.2,1084.5 1681.5,1084.9 1681.8,1084.3 1682,1084.5 1682.2,1082.8 1682.5,1084.9 1682.8,1085.9 1683,1085.2 1683.2,1085.2 1683.5,1084.9 1683.8,1084.4 1684,1085.1 1684.2,1084.8 1684.5,1084.7 1684.8,1084.9 1685,1084.5 1685.2,1084.9 1685.5,1085.2 1685.8,1085.4 1686,1084.9 1686.2,1085.3 1686.5,1084.9 1686.8,1083.5 1687,1083.7 1687.2,1084.7 1687.5,1084.1 1687.8,1085.1 1688,1084 1688.2,1084.5 1688.5,1084.4 1688.8,1084.3 1689,1084.4 1689.2,1084.7 1689.5,1084.8 1689.8,1084.4 1690,1084.8 1690.2,1085 1690.5,1084.6 1690.8,1084.3 1691,1084.3 1691.2,1084.4 1691.5,1084.4 1691.8,1084.7 1692,1086.2 1692.2,1085.3 1692.5,1084.7 1692.8,1085 1693,1085 1693.2,1085.4 1693.5,1085.4 1693.8,1084 1694,1085.9 1694.2,1084 1694.5,1084.6 1694.8,1084 1695,1083.5 1695.2,1083.4 1695.5,1085.5 1695.8,1085.2 1696,1083.7 1696.2,1083.6 1696.5,1085 1696.8,1083.5 1697,1084.2 1697.2,1085.1 1697.5,1084.2 1697.8,1084.5 1698,1083.5 1698.2,1082.2 1698.5,1082.4 1698.8,1081.3 1699,1081.9 1699.2,1079.9 1699.5,1079 1699.8,1076.1 1700,1072.3 1700.2,1068 1700.5,1061.3 1700.8,1054.3 1701,1049 1701.2,1044.2 1701.4,1042.5 1701.5,1044.4 1701.8,1046.5 1702,1053.5 1702.2,1060.5 1702.5,1066.4 1702.8,1071.3 1703,1075.5 1703.2,1078.3 1703.5,1079.6 1703.8,1081.9 1704,1081.8 1704.2,1082.2 1704.5,1083.8 1704.8,1082.8 1705,1082.5 1705.2,1083.5 1705.5,1083.7 1705.8,1083.8 1706,1085.1 1706.2,1083.6 1706.5,1084.8 1706.8,1084.6 1707,1085 1707.2,1084.1 1707.5,1084 1707.8,1084.1 1708,1084.4 1708.2,1084.8 1708.5,1085.2 1708.8,1083.2 1709,1084.9 1709.2,1084.4 1709.5,1084.2 1709.8,1083.6 1710,1084.4 1710.2,1083.1 1710.5,1084.8 1710.8,1083.5 1711,1083.9 1711.2,1083.9 1711.5,1084.2 1711.8,1083 1712,1084.2 1712.2,1083.8 1712.5,1084.3 1712.8,1083.4 1713,1082.9 1713.2,1081.4 1713.5,1081.8 1713.8,1082.3 1714,1080.1 1714.2,1078.9 1714.5,1077.5 1714.8,1076.2 1715,1072.5 1715.2,1072.1 1715.5,1068.7 1715.8,1066 1716,1063.2 1716.2,1062.5 1716.5,1060 1716.6,1060.7 1716.8,1060.5 1717,1060.9 1717.2,1063.6 1717.5,1066.6 1717.8,1068.7 1718,1071.3 1718.2,1074 1718.5,1075.7 1718.8,1077.3 1719,1079.5 1719.2,1080.1 1719.5,1081.9 1719.8,1082.6 1720,1083.5 1720.2,1083.7 1720.5,1083.2 1720.8,1083.8 1721,1083 1721.2,1084.1 1721.5,1083.7 1721.8,1084.8 1722,1083.7 1722.2,1084.3 1722.5,1083.8 1722.8,1084.7 1723,1084.7 1723.2,1083.8 1723.5,1085.6 1723.8,1084.8 1724,1083.6 1724.2,1084 1724.5,1083.5 1724.8,1083.4 1725,1084.5 1725.2,1083.4 1725.5,1084.8 1725.8,1083.7 1726,1084.4 1726.2,1085.7 1726.5,1084.5 1726.8,1084.7 1727,1085.4 1727.2,1084.5 1727.5,1085 1727.8,1084.2 1728,1084.5 1728.2,1084.8 1728.5,1084.8 1728.8,1084.3 1729,1084.9 1729.2,1085.1 1729.5,1085.2 1729.8,1084.8 1730,1084.2 1730.2,1085.2 1730.5,1085.3 1730.8,1084.2 1731,1083.4 1731.2,1084.7 1731.5,1085.4 1731.8,1085.3 1732,1084.1 1732.2,1085.6 1732.5,1084.3 1732.8,1085.4 1733,1084.6 1733.2,1085.4 1733.5,1085.1 1733.8,1084.7 1734,1085.2 1734.2,1084.4 1734.5,1084.6 1734.8,1084.6 1735,1084.3 1735.2,1085.4 1735.5,1085.4 1735.8,1084.8 1736,1084.3 1736.2,1085.1 1736.5,1085 1736.8,1085.2 1737,1084.8 1737.2,1084.7 1737.5,1085.7 1737.8,1084.5 1738,1084.7 1738.2,1083.8 1738.5,1084.6 1738.8,1084.6 1739,1084.6 1739.2,1085.2 1739.5,1084.5 1739.8,1085.1 1740,1084.6 1740.2,1084.6 1740.5,1083.7 1740.8,1085.1 1741,1085.2 1741.2,1084.2 1741.5,1084.5 1741.8,1083.7 1742,1084.6 1742.2,1084.2 1742.5,1085 1742.8,1084.7 1743,1085.2 1743.2,1084.3 1743.5,1083.8 1743.8,1084.7 1744,1084.4 1744.2,1085.9 1744.5,1084.9 1744.8,1085.6 1745,1085.1 1745.2,1084.6 1745.5,1083.9 1745.8,1084.6 1746,1085.2 1746.2,1084.8 1746.5,1085 1746.8,1085 1747,1084 1747.2,1085 1747.5,1084.3 1747.8,1084.7 1748,1085.6 1748.2,1083.6 1748.5,1084.6 1748.8,1085 1749,1085.4 1749.2,1084.8 1749.5,1084.3 1749.8,1085.2 1750,1085.1 1750.2,1083.7 1750.5,1084.8 1750.8,1083.7 1751,1083.2 1751.2,1084.1 1751.5,1084.2 1751.8,1083.5 1752,1085.8 1752.2,1083.9 1752.5,1084.9 1752.8,1085.1 1753,1086 1753.2,1084.5 1753.5,1085.6 1753.8,1084 1754,1084.6 1754.2,1084.4 1754.5,1084 1754.8,1084.8 1755,1085.7 1755.2,1085.8 1755.5,1085 1755.8,1083.8 1756,1084 1756.2,1084.8 1756.5,1084.7 1756.8,1084.6 1757,1084.1 1757.2,1083.6 1757.5,1084.3 1757.8,1083.9 1758,1084.6 1758.2,1083.1 1758.5,1083.8 1758.8,1083.9 1759,1084 1759.2,1083.7 1759.5,1081.6 1759.8,1081.2 1760,1081.6 1760.2,1080.7 1760.5,1079.4 1760.8,1081.4 1761,1080.5 1761.2,1080.6 1761.5,1079.9 1761.8,1080.3 1762,1079.8 1762.2,1079.7 1762.5,1080.9 1762.8,1079.3 1763,1080.6 1763.2,1079.6 1763.5,1081.8 1763.8,1081.1 1764,1080.9 1764.2,1080.9 1764.5,1082.2 1764.8,1083.8 1765,1083.2 1765.2,1082.2 1765.5,1082.2 1765.8,1085.3 1766,1083.5 1766.2,1083.1 1766.5,1084.2 1766.8,1084.6 1767,1085.3 1767.2,1084.3 1767.5,1084 1767.8,1084.9 1768,1084.1 1768.2,1084.8 1768.5,1084.8 1768.8,1085.3 1769,1084.3 1769.2,1084.3 1769.5,1084.9 1769.8,1085 1770,1083.9 1770.2,1084.3 1770.5,1084.9 1770.8,1084.6 1771,1086.2 1771.2,1085.2 1771.5,1085.5 1771.8,1084.7 1772,1084.8 1772.2,1084.9 1772.5,1085.4 1772.8,1084.6 1773,1085.7 1773.2,1084.3 1773.5,1085.3 1773.8,1084.9 1774,1084.5 1774.2,1085.6 1774.5,1085.2 1774.8,1084.5 1775,1084.1 1775.2,1085 1775.5,1083.9 1775.8,1084.7 1776,1083.6 1776.2,1084.1 1776.5,1083.2 1776.8,1083.3 1777,1083.9 1777.2,1083.3 1777.5,1081.2 1777.8,1080.5 1778,1078.5 1778.2,1078.6 1778.5,1077.8 1778.8,1075.5 1779,1074.4 1779.2,1074.5 1779.5,1073.6 1779.8,1074.4 1780,1075.9 1780.2,1076.3 1780.5,1077.6 1780.8,1079.5 1781,1079.7 1781.2,1081 1781.5,1081.6 1781.8,1081.8 1782,1083.9 1782.2,1082.5 1782.5,1083.8 1782.8,1083.3 1783,1083.7 1783.2,1083.5 1783.5,1084.3 1783.8,1084.8 1784,1085.3 1784.2,1083.4 1784.5,1084.7 1784.8,1084.4 1785,1084.2 1785.2,1084.5 1785.5,1084.7 1785.8,1084.5 1786,1084.5 1786.2,1085.8 1786.5,1084.5 1786.8,1084.6 1787,1083.6 1787.2,1084.9 1787.5,1083.8 1787.8,1083.9 1788,1083.2 1788.2,1083.3 1788.5,1082.3 1788.8,1081.4 1789,1080.4 1789.2,1079.6 1789.5,1078 1789.8,1076 1790,1073.7 1790.2,1070.5 1790.5,1065.5 1790.8,1062.1 1791,1060.5 1791.2,1058.3 1791.3,1059.5 1791.5,1060 1791.8,1060.9 1792,1065 1792.2,1068.9 1792.5,1071.8 1792.8,1074.4 1793,1077.1 1793.2,1079.6 1793.5,1080.4 1793.8,1082.2 1794,1082.7 1794.2,1082.9 1794.5,1083.2 1794.8,1084.4 1795,1083.7 1795.2,1084.5 1795.5,1083.4 1795.8,1084.5 1796,1084.8 1796.2,1085 1796.5,1085.4 1796.8,1085.2 1797,1085.3 1797.2,1084.8 1797.5,1084.4 1797.8,1084.4 1798,1084.6 1798.2,1085.3 1798.5,1085.7 1798.8,1085.4 1799,1085.3 1799.2,1085.6 1799.5,1085 1799.8,1085.3 1800,1085.1 1800.2,1085.3 1800.5,1085.1 1800.8,1084.4 1801,1085 1801.2,1084.7 1801.5,1086.2 1801.8,1086 1802,1084.8 1802.2,1084.6 1802.5,1085.1 1802.8,1084.1 1803,1085.7 1803.2,1084.9 1803.5,1084.6 1803.8,1085.4 1804,1085.5 1804.2,1084.7 1804.5,1085 1804.8,1083.3 1805,1083.6 1805.2,1083.2 1805.5,1082.4 1805.8,1083.4 1806,1083.7 1806.2,1080.8 1806.5,1080.4 1806.8,1080.4 1807,1078.5 1807.2,1077.4 1807.5,1075.6 1807.8,1074.9 1808,1072.6 1808.2,1072.3 1808.5,1070.9 1808.8,1069.7 1809,1068.4 1809.2,1068.4 1809.3,1068.8 1809.5,1068.1 1809.8,1068.6 1810,1068.8 1810.2,1071 1810.5,1072.6 1810.8,1074.7 1811,1074.9 1811.2,1076.1 1811.5,1079 1811.8,1080.1 1812,1079.8 1812.2,1081.1 1812.5,1081.1 1812.8,1082.8 1813,1084.1 1813.2,1084.2 1813.5,1083.5 1813.8,1084.6 1814,1084.2 1814.2,1085 1814.5,1084.6 1814.8,1085.4 1815,1085.9 1815.2,1085.4 1815.5,1085.5 1815.8,1085.6 1816,1085.9 1816.2,1085.2 1816.5,1085.4 1816.8,1085.5 1817,1086.4 1817.2,1085.7 1817.5,1086 1817.8,1085.5 1818,1084.9 1818.2,1085.6 1818.5,1086.1 1818.8,1085.6 1819,1085.5 1819.2,1085.6 1819.5,1086.2 1819.8,1086.1 1820,1085.9 1820.2,1085.3 1820.5,1085.5 1820.8,1088.1 1821,1085.8 1821.2,1086.3 1821.5,1086.2 1821.8,1085.2 1822,1086.8 1822.2,1086.1 1822.5,1085.5 1822.8,1086.5 1823,1085.7 1823.2,1086.2 1823.5,1085.3 1823.8,1086 1824,1086.5 1824.2,1085.8 1824.5,1085.3 1824.8,1085.6 1825,1086.5 1825.2,1085.2 1825.5,1085.3 1825.8,1086.6 1826,1086.2 1826.2,1086.1 1826.5,1085.9 1826.8,1086.4 1827,1086.6 1827.2,1086.4 1827.5,1085.1 1827.8,1086.5 1828,1085.2 1828.2,1087.2 1828.5,1085.9 1828.8,1086.6 1829,1086.4 1829.2,1085.8 1829.5,1086.9 1829.8,1086.4 1830,1087.5 1830.2,1086.6 1830.5,1086.4 1830.8,1087.7 1831,1087.1 1831.2,1086.2 1831.5,1085.8 1831.8,1087.4 1832,1087 1832.2,1087 1832.5,1086 1832.8,1085.9 1833,1085.7 1833.2,1086.9 1833.5,1086.1 1833.8,1086.6 1834,1084.9 1834.2,1086.8 1834.5,1085.8 1834.8,1084.6 1835,1085.4 1835.2,1086.4 1835.5,1087.1 1835.8,1084.5 1836,1085.3 1836.2,1086.2 1836.5,1085.2 1836.8,1085.9 1837,1085.5 1837.2,1086.1 1837.5,1085.2 1837.8,1085.9 1838,1085.5 1838.2,1086.1 1838.5,1086 1838.8,1086.6 1839,1086.1 1839.2,1087 1839.5,1085 1839.8,1085.8 1840,1086.4 1840.2,1086 1840.5,1084.3 1840.8,1086.1 1841,1085.6 1841.2,1087.3 1841.5,1085.8 1841.8,1086.2 1842,1085.2 1842.2,1086.1 1842.5,1084 1842.8,1085 1843,1085.4 1843.2,1084.6 1843.5,1086.1 1843.8,1085.4 1844,1086.4 1844.2,1084.4 1844.5,1084.7 1844.8,1085.5 1845,1084.6 1845.2,1085.3 1845.5,1084.9 1845.8,1083.8 1846,1083.9 1846.2,1083.5 1846.5,1082.5 1846.8,1081 1847,1079.3 1847.2,1077.5 1847.5,1075.9 1847.8,1074 1848,1069.3 1848.2,1067.2 1848.5,1066.2 1848.7,1066.7 1848.8,1065.3 1849,1068 1849.2,1069.8 1849.5,1069.4 1849.8,1073.8 1850,1076.1 1850.2,1077.5 1850.5,1078.3 1850.8,1080.8 1851,1081.3 1851.2,1082.9 1851.5,1082.8 1851.8,1082.1 1852,1083.8 1852.2,1083.6 1852.5,1083.2 1852.8,1081.9 1853,1081.9 1853.2,1080.6 1853.5,1079.1 1853.8,1077 1854,1076.5 1854.2,1073 1854.5,1071.9 1854.8,1067.3 1855,1064.4 1855.2,1059.6 1855.5,1054.1 1855.8,1048.6 1856,1043 1856.2,1038.3 1856.5,1031.7 1856.8,1025.7 1857,1021.6 1857.2,1016.7 1857.5,1014.3 1857.7,1014.1 1857.8,1015.3 1858,1015.6 1858.2,1018.6 1858.5,1022.7 1858.8,1027.3 1859,1033.9 1859.2,1039.4 1859.5,1044.2 1859.8,1049.4 1860,1054.8 1860.2,1058.4 1860.5,1062.1 1860.8,1064.8 1861,1065.6 1861.2,1066.1 1861.5,1065.2 1861.8,1064.1 1862,1062.9 1862.2,1063.7 1862.5,1062.5 1862.8,1064.3 1863,1066.4 1863.2,1069.3 1863.5,1071.7 1863.8,1073.6 1864,1078.2 1864.2,1078.2 1864.5,1080.8 1864.8,1081 1865,1082.9 1865.2,1082.5 1865.5,1084.6 1865.8,1084.2 1866,1083.2 1866.2,1085.4 1866.5,1083.4 1866.8,1084.5 1867,1085.5 1867.2,1084.7 1867.5,1085.8 1867.8,1085.2 1868,1084.8 1868.2,1086 1868.5,1085.4 1868.8,1085.1 1869,1086 1869.2,1085.3 1869.5,1084.7 1869.8,1085.1 1870,1087.1 1870.2,1087.1 1870.5,1084.7 1870.8,1086.2 1871,1086.5 1871.2,1085.6 1871.5,1086.2 1871.8,1085.2 1872,1085.6 1872.2,1086.5 1872.5,1085.8 1872.8,1085.8 1873,1085.8 1873.2,1085.1 1873.5,1085.3 1873.8,1085.6 1874,1085.9 1874.2,1085.5 1874.5,1087.2 1874.8,1084.9 1875,1085.4 1875.2,1085.6 1875.5,1086.4 1875.8,1085.2 1876,1086.2 1876.2,1085.5 1876.5,1085.6 1876.8,1086.4 1877,1086.6 1877.2,1086.7 1877.5,1085.4 1877.8,1086.8 1878,1086.8 1878.2,1086.3 1878.5,1086.4 1878.8,1086.2 1879,1086.1 1879.2,1086.7 1879.5,1087.2 1879.8,1086 1880,1086.4 1880.2,1086.8 1880.5,1085.3 1880.8,1087.2 1881,1086.4 1881.2,1087.1 1881.5,1086 1881.8,1085.7 1882,1086.1 1882.2,1086.4 1882.5,1085.6 1882.8,1086.8 1883,1086.4 1883.2,1085.6 1883.5,1086.5 1883.8,1086.1 1884,1086.2 1884.2,1086 1884.5,1085.8 1884.8,1085.5 1885,1086.3 1885.2,1086.2 1885.5,1086.5 1885.8,1085.8 1886,1086.5 1886.2,1086.7 1886.5,1085.5 1886.8,1086.3 1887,1087.5 1887.2,1085.9 1887.5,1086 1887.8,1086.1 1888,1085.8 1888.2,1086.7 1888.5,1086.1 1888.8,1086 1889,1085.6 1889.2,1086.4 1889.5,1086 1889.8,1085.8 1890,1085.8 1890.2,1086.9 1890.5,1085.9 1890.8,1086 1891,1086.7 1891.2,1085.7 1891.5,1086.3 1891.8,1085 1892,1085.9 1892.2,1084 1892.5,1085.2 1892.8,1084.6 1893,1084.1 1893.2,1084.9 1893.5,1084.2 1893.8,1083.8 1894,1083.6 1894.2,1082.3 1894.5,1081.7 1894.8,1080.5 1895,1080.9 1895.2,1079.5 1895.5,1077.7 1895.8,1077.1 1896,1076.7 1896.2,1076.4 1896.4,1077.6 1896.5,1077 1896.8,1077.7 1897,1077 1897.2,1077.6 1897.5,1079.6 1897.8,1078.4 1898,1079.6 1898.2,1079.9 1898.5,1081.5 1898.8,1084.1 1899,1082.7 1899.2,1084.3 1899.5,1085.1 1899.8,1084.1 1900,1084.4 1900.2,1085.3 1900.5,1085.7 1900.8,1084.5 1901,1085.1 1901.2,1086.7 1901.5,1085.3 1901.8,1086.1 1902,1086.5 1902.2,1085.7 1902.5,1085.9 1902.8,1085.7 1903,1085.7 1903.2,1085.7 1903.5,1085.1 1903.8,1085.8 1904,1086 1904.2,1086.6 1904.5,1085.9 1904.8,1085.8 1905,1087.4 1905.2,1086.2 1905.5,1086.1 1905.8,1085.9 1906,1086.3 1906.2,1085.7 1906.5,1086 1906.8,1085.8 1907,1085.6 1907.2,1086 1907.5,1085.5 1907.8,1087.4 1908,1085.6 1908.2,1087.4 1908.5,1086.5 1908.8,1086.9 1909,1087.2 1909.2,1085.4 1909.5,1087.4 1909.8,1086.7 1910,1086.1 1910.2,1085.9 1910.5,1086.6 1910.8,1085.4 1911,1087.5 1911.2,1086.3 1911.5,1086.9 1911.8,1086.5 1912,1086.2 1912.2,1086.2 1912.5,1085.9 1912.8,1087.2 1913,1086.5 1913.2,1086.8 1913.5,1086.8 1913.8,1086.9 1914,1086.8 1914.2,1087.3 1914.5,1086.1 1914.8,1085.9 1915,1086.4 1915.2,1086.3 1915.5,1086.5 1915.8,1087.2 1916,1087.1 1916.2,1086.9 1916.5,1086 1916.8,1086.8 1917,1086.6 1917.2,1087 1917.5,1086.5 1917.8,1086.3 1918,1086.6 1918.2,1086.1 1918.5,1086 1918.8,1086.7 1919,1086.5 1919.2,1087.1 1919.5,1086.6 1919.8,1085.8 1920,1087.4 1920.2,1087.5 1920.5,1085.9 1920.8,1086.2 1921,1087.1 1921.2,1086.7 1921.5,1085.7 1921.8,1087.2 1922,1086.6 1922.2,1086.7 1922.5,1087.3 1922.8,1086.2 1923,1086.1 1923.2,1086.9 1923.5,1087.1 1923.8,1086.6 1924,1087.2 1924.2,1086.8 1924.5,1087.2 1924.8,1086.1 1925,1086.4 1925.2,1087.2 1925.5,1086 1925.8,1086.1 1926,1086.6 1926.2,1086.4 1926.5,1086 1926.8,1085.6 1927,1087.4 1927.2,1086.6 1927.5,1087.4 1927.8,1086 1928,1086.6 1928.2,1086.5 1928.5,1086.6 1928.8,1085.6 1929,1087.3 1929.2,1086.4 1929.5,1086.7 1929.8,1086 1930,1087.5 1930.2,1085.6 1930.5,1087.7 1930.8,1086.3 1931,1086.3 1931.2,1086.1 1931.5,1087.4 1931.8,1086 1932,1086 1932.2,1086 1932.5,1086.8 1932.8,1086.8 1933,1086.1 1933.2,1086.8 1933.5,1087.4 1933.8,1086.9 1934,1086.7 1934.2,1085.9 1934.5,1087.4 1934.8,1086.9 1935,1085.7 1935.2,1086.1 1935.5,1084.9 1935.8,1086.8 1936,1085.7 1936.2,1086.3 1936.5,1087.3 1936.8,1085.6 1937,1087 1937.2,1086.3 1937.5,1085.8 1937.8,1087.2 1938,1086.7 1938.2,1086 1938.5,1086.7 1938.8,1086 1939,1085.8 1939.2,1086.1 1939.5,1086.9 1939.8,1085.4 1940,1085.5 1940.2,1086.8 1940.5,1085.4 1940.8,1086.1 1941,1086 1941.2,1085.3 1941.5,1085.6 1941.8,1085.9 1942,1085.9 1942.2,1086.2 1942.5,1085.8 1942.8,1086.1 1943,1085.4 1943.2,1084.7 1943.5,1084.9 1943.8,1084.2 1944,1083.7 1944.2,1082.2 1944.5,1081.2 1944.8,1080 1945,1077.8 1945.2,1077.6 1945.5,1075.6 1945.8,1074.4 1946,1073.9 1946.2,1075.2 1946.2,1073.5 1946.5,1075.3 1946.8,1074 1947,1076.3 1947.2,1079 1947.5,1079.3 1947.8,1080.7 1948,1081.4 1948.2,1081.5 1948.5,1083.8 1948.8,1084.7 1949,1085.3 1949.2,1086.2 1949.5,1085.3 1949.8,1085.9 1950,1084.4 1950.2,1085.6 1950.5,1086 1950.8,1086.7 1951,1087.1 1951.2,1087 1951.5,1086.3 1951.8,1086 1952,1086 1952.2,1086 1952.5,1086.1 1952.8,1086.8 1953,1085.9 1953.2,1085 1953.5,1085.2 1953.8,1087.6 1954,1086.5 1954.2,1085.2 1954.5,1085.1 1954.8,1085.4 1955,1084.7 1955.2,1084.1 1955.5,1082.1 1955.8,1081.6 1956,1081.7 1956.2,1081 1956.5,1079.9 1956.8,1079.8 1957,1078.3 1957.2,1078.2 1957.3,1078 1957.5,1078.7 1957.8,1078.3 1958,1080.6 1958.2,1079.7 1958.5,1081.7 1958.8,1082.6 1959,1084 1959.2,1083.1 1959.5,1083.8 1959.8,1084.7 1960,1085.7 1960.2,1086.1 1960.5,1084.3 1960.8,1085.8 1961,1086.2 1961.2,1086.4 1961.5,1086.5 1961.8,1086.2 1962,1086.4 1962.2,1085.3 1962.5,1086.9 1962.8,1085 1963,1086.4 1963.2,1085.9 1963.5,1086.7 1963.8,1085.9 1964,1087.1 1964.2,1086.8 1964.5,1086.9 1964.8,1087.2 1965,1087.3 1965.2,1086.5 1965.5,1087.1 1965.8,1086.9 1966,1087.1 1966.2,1086.7 1966.5,1085.1 1966.8,1086.5 1967,1086.6 1967.2,1086.3 1967.5,1086.2 1967.8,1086.7 1968,1086.3 1968.2,1087.1 1968.5,1087.4 1968.8,1086.7 1969,1087.2 1969.2,1086 1969.5,1086.1 1969.8,1086.5 1970,1086.1 1970.2,1086.7 1970.5,1086.7 1970.8,1087.7 1971,1086.4 1971.2,1087.5 1971.5,1086.1 1971.8,1086.6 1972,1087.2 1972.2,1086.9 1972.5,1085.3 1972.8,1086.7 1973,1087 1973.2,1085.8 1973.5,1086.5 1973.8,1086.6 1974,1087 1974.2,1087.5 1974.5,1085.9 1974.8,1086.2 1975,1087.7 1975.2,1087.5 1975.5,1087.8 1975.8,1086.8 1976,1087.4 1976.2,1085.3 1976.5,1087 1976.8,1086.2 1977,1085.9 1977.2,1086.1 1977.5,1087.4 1977.8,1087.7 1978,1086.5 1978.2,1086.6 1978.5,1087.5 1978.8,1086.4 1979,1086.9 1979.2,1087.2 1979.5,1087.5 1979.8,1086.6 1980,1085.1 1980.2,1086.7 1980.5,1087.2 1980.8,1086.5 1981,1086.5 1981.2,1086.2 1981.5,1087 1981.8,1086.9 1982,1087 1982.2,1086.8 1982.5,1087.5 1982.8,1087 1983,1086.8 1983.2,1086.1 1983.5,1086.5 1983.8,1086.8 1984,1087.7 1984.2,1087.1 1984.5,1086.6 1984.8,1087.2 1985,1087.2 1985.2,1086.5 1985.5,1087.1 1985.8,1086.1 1986,1086.8 1986.2,1088 1986.5,1087.3 1986.8,1087.1 1987,1087.3 1987.2,1087.2 1987.5,1086.1 1987.8,1086.5 1988,1086.3 1988.2,1087 1988.5,1087.3 1988.8,1087.9 1989,1086.6 1989.2,1086 1989.5,1086.8 1989.8,1086.6 1990,1086.8 1990.2,1086.6 1990.5,1086.9 1990.8,1086.2 1991,1086.7 1991.2,1087.1 1991.5,1086.6 1991.8,1086.7 1992,1085.9 1992.2,1086.7 1992.5,1086 1992.8,1085.5 1993,1085.5 1993.2,1085.1 1993.5,1084.8 1993.8,1084 1994,1084.7 1994.2,1083.4 1994.5,1082.1 1994.8,1081.1 1995,1079.6 1995.2,1079.1 1995.5,1077.5 1995.8,1077 1996,1076.4 1996.2,1077.7 1996.5,1078.4 1996.8,1079.2 1997,1080.3 1997.2,1079.4 1997.5,1081.9 1997.8,1083.4 1998,1084 1998.2,1083.4 1998.5,1085.1 1998.8,1085.8 1999,1085.4 1999.2,1085.2 1999.5,1085.7 1999.8,1084.5 2000,1086.5 2000.2,1085.9 2000.5,1086.3 2000.8,1086.4 2001,1086.5 2001.2,1087.5 2001.5,1086.1 2001.8,1086.5 2002,1085.4 2002.2,1086.3 2002.5,1085.5 2002.8,1087.1 2003,1086.7 2003.2,1086.4 2003.5,1087.2 2003.8,1086.1 2004,1086.7 2004.2,1086.3 2004.5,1086.2 2004.8,1086.6 2005,1086.4 2005.2,1086.7 2005.5,1086.2 2005.8,1085.9 2006,1087.6 2006.2,1087 2006.5,1086.6 2006.8,1087 2007,1086.3 2007.2,1087.1 2007.5,1086 2007.8,1087.1 2008,1087.1 2008.2,1086.8 2008.5,1087.3 2008.8,1086.8 2009,1087.9 2009.2,1087.3 2009.5,1086 2009.8,1086.3 2010,1087.9 2010.2,1086.6 2010.5,1087.1 2010.8,1086.6 2011,1087.8 2011.2,1087.5 2011.5,1087.4 2011.8,1086.7 2012,1086.7 2012.2,1087.7 2012.5,1086.6 2012.8,1085.6 2013,1087.8 2013.2,1087.5 2013.5,1086.1 2013.8,1087.1 2014,1087.3 2014.2,1087 2014.5,1087.9 2014.8,1087.6 2015,1086.4 2015.2,1086.8 2015.5,1087.5 2015.8,1087.5 2016,1086.7 2016.2,1087.6 2016.5,1086.4 2016.8,1087.4 2017,1085.8 2017.2,1087.2 2017.5,1088.1 2017.8,1087.8 2018,1086.4 2018.2,1085.1 2018.5,1087 2018.8,1087.4 2019,1086.9 2019.2,1086.9 2019.5,1085.9 2019.8,1086.4 2020,1086 2020.2,1085.9 2020.5,1086.3 2020.8,1087.5 2021,1086.8 2021.2,1086.1 2021.5,1086.4 2021.8,1085.8 2022,1086 2022.2,1086.3 2022.5,1085.2 2022.8,1086.1 2023,1085.3 2023.2,1086 2023.5,1084.5 2023.8,1084.8 2024,1083.7 2024.2,1084 2024.5,1082 2024.8,1082.1 2025,1081.2 2025.2,1080 2025.5,1080 2025.8,1079.4 2026,1078.6 2026.2,1077.8 2026.5,1077.7 2026.7,1077.6 2026.8,1078.7 2027,1078.5 2027.2,1079.4 2027.5,1079.7 2027.8,1080.9 2028,1080.6 2028.2,1081.5 2028.5,1082.1 2028.8,1082.5 2029,1083.8 2029.2,1084.2 2029.5,1084.8 2029.8,1085.1 2030,1085.9 2030.2,1084.8 2030.5,1086.2 2030.8,1086 2031,1085.9 2031.2,1086.2 2031.5,1086.8 2031.8,1087 2032,1086.5 2032.2,1087.1 2032.5,1086.9 2032.8,1087.4 2033,1087.4 2033.2,1087.3 2033.5,1086.6 2033.8,1086.2 2034,1087.7 2034.2,1086.4 2034.5,1087.4 2034.8,1087 2035,1087.9 2035.2,1086.9 2035.5,1086.8 2035.8,1085.8 2036,1087.4 2036.2,1087 2036.5,1086.7 2036.8,1086.8 2037,1087.8 2037.2,1087.3 2037.5,1087.6 2037.8,1086.9 2038,1087.3 2038.2,1087.6 2038.5,1086.9 2038.8,1087.9 2039,1087 2039.2,1088.3 2039.5,1086.8 2039.8,1086.9 2040,1087.2 2040.2,1087 2040.5,1087.1 2040.8,1087.2 2041,1087.9 2041.2,1086.9 2041.5,1087.9 2041.8,1087.7 2042,1087.3 2042.2,1087.1 2042.5,1088.3 2042.8,1085.7 2043,1086.9 2043.2,1087.1 2043.5,1087.5 2043.8,1087.2 2044,1087.8 2044.2,1087.5 2044.5,1087.9 2044.8,1086.9 2045,1087.5 2045.2,1088.2 2045.5,1086.9 2045.8,1087.3 2046,1086.4 2046.2,1087.5 2046.5,1086.8 2046.8,1087.6 2047,1086.6 2047.2,1087.3 2047.5,1086.6 2047.8,1087.2 2048,1087.5 2048.2,1088.6 2048.5,1087.5 2048.8,1087.5 2049,1088.3 2049.2,1087.9 2049.5,1086.6 2049.8,1087.6 2050,1087.3 2050.2,1087.7 2050.5,1087.5 2050.8,1086.2 2051,1086.9 2051.2,1088.3 2051.5,1087.7 2051.8,1086.7 2052,1086.9 2052.2,1087.1 2052.5,1086.4 2052.8,1085.2 2053,1087.5 2053.2,1086.6 2053.5,1086.8 2053.8,1086.7 2054,1086.9 2054.2,1086.9 2054.5,1088.1 2054.8,1087 2055,1087.5 2055.2,1087.2 2055.5,1087.9 2055.8,1087.2 2056,1086 2056.2,1088.3 2056.5,1088.2 2056.8,1087.6 2057,1086.2 2057.2,1088 2057.5,1087.4 2057.8,1086.7 2058,1086.8 2058.2,1087.9 2058.5,1086.8 2058.8,1087.1 2059,1086.7 2059.2,1087.5 2059.5,1086.6 2059.8,1087.5 2060,1087 2060.2,1088.4 2060.5,1086.9 2060.8,1087.2 2061,1087.8 2061.2,1087.7 2061.5,1086.3 2061.8,1087.3 2062,1087.4 2062.2,1087.6 2062.5,1087.1 2062.8,1088.1 2063,1088 2063.2,1087 2063.5,1086.6 2063.8,1087.2 2064,1087.6 2064.2,1087.9 2064.5,1086.5 2064.8,1086.8 2065,1086.1 2065.2,1086.6 2065.5,1087.9 2065.8,1088.5 2066,1087.7 2066.2,1087.2 2066.5,1087.1 2066.8,1088.4 2067,1088 2067.2,1087.4 2067.5,1086.9 2067.8,1086.8 2068,1087.2 2068.2,1088.3 2068.5,1087.1 2068.8,1087 2069,1087.4 2069.2,1087.1 2069.5,1087.8 2069.8,1086.6 2070,1087.2 2070.2,1086.7 2070.5,1087.6 2070.8,1087.2 2071,1086.6 2071.2,1086.7 2071.5,1087 2071.8,1087.9 2072,1087.3 2072.2,1087.1 2072.5,1086.3 2072.8,1085.9 2073,1085.8 2073.2,1086.3 2073.5,1086.8 2073.8,1086.4 2074,1086.9 2074.2,1085.2 2074.5,1085.4 2074.8,1084.9 2075,1083.8 2075.2,1082.3 2075.5,1082.3 2075.8,1082.3 2076,1079.6 2076.2,1080.1 2076.5,1079.2 2076.8,1077.8 2077,1077.7 2077.1,1077.4 2077.2,1077.6 2077.5,1078.9 2077.8,1079.5 2078,1080.4 2078.2,1081.1 2078.5,1081.9 2078.8,1083.1 2079,1083.1 2079.2,1084 2079.5,1085.2 2079.8,1084.5 2080,1086 2080.2,1086.1 2080.5,1086.3 2080.8,1086.5 2081,1086.3 2081.2,1088 2081.5,1085.6 2081.8,1086.4 2082,1085.8 2082.2,1087.1 2082.5,1087.5 2082.8,1088 2083,1086.6 2083.2,1087.4 2083.5,1086.5 2083.8,1087 2084,1087.4 2084.2,1086.2 2084.5,1087 2084.8,1086.7 2085,1087.3 2085.2,1087.6 2085.5,1086.2 2085.8,1087 2086,1086.3 2086.2,1085.7 2086.5,1086.5 2086.8,1086.7 2087,1086.4 2087.2,1086.5 2087.5,1087.9 2087.8,1087.2 2088,1087.8 2088.2,1088 2088.5,1087.2 2088.8,1088.7 2089,1087.4 2089.2,1087.2 2089.5,1086.7 2089.8,1087 2090,1087.4 2090.2,1087.2 2090.5,1087.3 2090.8,1087.4 2091,1086.3 2091.2,1086.7 2091.5,1086.9 2091.8,1086.8 2092,1086.3 2092.2,1087.1 2092.5,1086.6 2092.8,1087.7 2093,1086.6 2093.2,1087.2 2093.5,1085.9 2093.8,1087 2094,1087.7 2094.2,1087.1 2094.5,1087.4 2094.8,1087.1 2095,1086.8 2095.2,1087.3 2095.5,1087.2 2095.8,1087.2 2096,1086.6 2096.2,1086.6 2096.5,1085.2 2096.8,1086.9 2097,1086.2 2097.2,1086.3 2097.5,1087.3 2097.8,1086.8 2098,1086.9 2098.2,1086.2 2098.5,1086.9 2098.8,1086.5 2099,1086.6 2099.2,1086.3 2099.5,1087.3 2099.8,1085.5 2100,1086.2 2100.2,1086 2100.5,1086.2 2100.8,1085.7 2101,1084.8 2101.2,1084.7 2101.5,1085 2101.8,1084.1 2102,1082.5 2102.2,1081.9 2102.5,1080.8 2102.8,1080.5 2103,1078.3 2103.2,1078.1 2103.5,1077 2103.8,1074.4 2104,1074.2 2104.2,1070.7 2104.5,1068.3 2104.8,1066.1 2105,1062.1 2105.2,1059.2 2105.5,1055.2 2105.8,1052.9 2106,1051.6 2106.2,1050.4 2106.2,1051.7 2106.5,1053 2106.8,1055.1 2107,1059 2107.2,1063 2107.5,1066 2107.8,1070.5 2108,1073.6 2108.2,1076 2108.5,1078.9 2108.8,1079.9 2109,1080.3 2109.2,1083.4 2109.5,1084.1 2109.8,1085.6 2110,1084.8 2110.2,1085.8 2110.5,1085.1 2110.8,1085.1 2111,1085.8 2111.2,1086.2 2111.5,1086.2 2111.8,1087 2112,1087.1 2112.2,1085.8 2112.5,1086.3 2112.8,1087.7 2113,1087.5 2113.2,1086.1 2113.5,1086.4 2113.8,1088.1 2114,1086.4 2114.2,1087.7 2114.5,1085.8 2114.8,1086.9 2115,1086.5 2115.2,1087.3 2115.5,1087.9 2115.8,1087.4 2116,1087.8 2116.2,1087.9 2116.5,1088.2 2116.8,1087.4 2117,1086.1 2117.2,1086.3 2117.5,1087.8 2117.8,1087.7 2118,1088 2118.2,1087.1 2118.5,1087 2118.8,1086.2 2119,1086.6 2119.2,1087.2 2119.5,1086.9 2119.8,1086.3 2120,1088.2 2120.2,1087.3 2120.5,1087.5 2120.8,1087.4 2121,1087.3 2121.2,1086.7 2121.5,1087.8 2121.8,1087 2122,1086.7 2122.2,1088.1 2122.5,1087.4 2122.8,1087.7 2123,1086.2 2123.2,1088.4 2123.5,1086.8 2123.8,1086.7 2124,1087.1 2124.2,1086.8 2124.5,1086.8 2124.8,1087.7 2125,1088.2 2125.2,1087.2 2125.5,1087.4 2125.8,1087.4 2126,1087.5 2126.2,1086.6 2126.5,1088.4 2126.8,1086.5 2127,1087 2127.2,1088.6 2127.5,1087.3 2127.8,1086.8 2128,1087.5 2128.2,1088.8 2128.5,1087.4 2128.8,1086.7 2129,1087.5 2129.2,1087.6 2129.5,1086.9 2129.8,1087.6 2130,1086.1 2130.2,1087.7 2130.5,1087.5 2130.8,1087.5 2131,1087 2131.2,1088.2 2131.5,1087.8 2131.8,1088.2 2132,1087.1 2132.2,1087.9 2132.5,1088.5 2132.8,1088.3 2133,1086.9 2133.2,1087.4 2133.5,1087 2133.8,1087.2 2134,1087.4 2134.2,1088.5 2134.5,1088.3 2134.8,1087.3 2135,1087.9 2135.2,1087 2135.5,1086.6 2135.8,1086.2 2136,1086.8 2136.2,1088.6 2136.5,1087.5 2136.8,1087.7 2137,1088 2137.2,1086.1 2137.5,1087.2 2137.8,1087.3 2138,1088.1 2138.2,1087.6 2138.5,1086.3 2138.8,1086.2 2139,1087.5 2139.2,1087.4 2139.5,1086.4 2139.8,1086.4 2140,1087.3 2140.2,1086.4 2140.5,1087.4 2140.8,1087 2141,1087 2141.2,1088.3 2141.5,1086.6 2141.8,1086.4 2142,1086.7 2142.2,1085.6 2142.5,1087.5 2142.8,1087.4 2143,1087 2143.2,1086.9 2143.5,1086.8 2143.8,1085.8 2144,1086.6 2144.2,1086.6 2144.5,1087.1 2144.8,1086.7 2145,1087.1 2145.2,1086.8 2145.5,1085 2145.8,1085.6 2146,1086.3 2146.2,1085.5 2146.5,1085.5 2146.8,1085.7 2147,1084.1 2147.2,1084.2 2147.5,1084.3 2147.8,1082.3 2148,1080.5 2148.2,1079.2 2148.5,1076.8 2148.8,1073.8 2149,1072.1 2149.2,1068.6 2149.5,1064.2 2149.8,1063.1 2150,1059.4 2150.2,1058.5 2150.4,1058.4 2150.5,1058 2150.8,1058.2 2151,1059.3 2151.2,1062.6 2151.5,1065.5 2151.8,1066.8 2152,1069.1 2152.2,1071.3 2152.5,1070.6 2152.8,1073.7 2153,1071.1 2153.2,1069.5 2153.5,1069.8 2153.8,1069 2154,1070 2154.2,1069.1 2154.5,1071.6 2154.8,1072.2 2155,1074.9 2155.2,1077.6 2155.5,1078.5 2155.8,1080.9 2156,1081.3 2156.2,1083.2 2156.5,1083.2 2156.8,1084.2 2157,1084.9 2157.2,1084.4 2157.5,1085.1 2157.8,1085.5 2158,1087.1 2158.2,1086.3 2158.5,1085.7 2158.8,1085.7 2159,1086.5 2159.2,1085.9 2159.5,1086.8 2159.8,1086 2160,1086.1 2160.2,1087.3 2160.5,1085.7 2160.8,1088.3 2161,1086.4 2161.2,1086 2161.5,1087.3 2161.8,1087.6 2162,1087.8 2162.2,1087.3 2162.5,1086.6 2162.8,1086.9 2163,1087.1 2163.2,1087.5 2163.5,1087.6 2163.8,1087.4 2164,1087.5 2164.2,1085.6 2164.5,1086.6 2164.8,1087.6 2165,1086.5 2165.2,1086.7 2165.5,1086.2 2165.8,1086.5 2166,1086 2166.2,1084.9 2166.5,1086.2 2166.8,1085.9 2167,1084.8 2167.2,1083.6 2167.5,1084.2 2167.8,1083.1 2168,1084 2168.2,1082.6 2168.5,1081.2 2168.8,1081.1 2169,1082.1 2169.2,1080.5 2169.5,1079.8 2169.8,1080 2169.8,1079.4 2170,1080.7 2170.2,1079.6 2170.5,1081.2 2170.8,1082 2171,1082.5 2171.2,1082.5 2171.5,1082.9 2171.8,1083.8 2172,1084.5 2172.2,1085.1 2172.5,1085.2 2172.8,1085.8 2173,1085.7 2173.2,1085.7 2173.5,1087.1 2173.8,1086.9 2174,1087.2 2174.2,1087.9 2174.5,1086.5 2174.8,1086.7 2175,1086.9 2175.2,1087.7 2175.5,1086.3 2175.8,1086.8 2176,1087.8 2176.2,1086.3 2176.5,1087.8 2176.8,1088.3 2177,1087.6 2177.2,1086.9 2177.5,1087.1 2177.8,1086.8 2178,1087.4 2178.2,1088 2178.5,1088.1 2178.8,1086.1 2179,1087 2179.2,1087.7 2179.5,1087.3 2179.8,1086 2180,1087.6 2180.2,1087.8 2180.5,1087.5 2180.8,1087.5 2181,1088.1 2181.2,1086.7 2181.5,1087.4 2181.8,1087.8 2182,1089.6 2182.2,1087.1 2182.5,1088 2182.8,1088.6 2183,1088 2183.2,1088.1 2183.5,1088.3 2183.8,1086.5 2184,1087.9 2184.2,1087.3 2184.5,1088.5 2184.8,1087.8 2185,1087.7 2185.2,1087.7 2185.5,1086.8 2185.8,1088.2 2186,1086.6 2186.2,1087.5 2186.5,1087.4 2186.8,1088.2 2187,1087.6 2187.2,1087.1 2187.5,1088 2187.8,1088.7 2188,1087 2188.2,1088.4 2188.5,1087.2 2188.8,1087.4 2189,1087.5 2189.2,1086.9 2189.5,1088.6 2189.8,1088.1 2190,1087.9 2190.2,1086.7 2190.5,1088 2190.8,1087 2191,1088.4 2191.2,1086.5 2191.5,1088 2191.8,1086.6 2192,1086.6 2192.2,1087.7 2192.5,1088 2192.8,1088.2 2193,1087.2 2193.2,1087.1 2193.5,1088 2193.8,1086.7 2194,1086.7 2194.2,1087.7 2194.5,1087.6 2194.8,1087.4 2195,1088.1 2195.2,1086.2 2195.5,1087.5 2195.8,1088.5 2196,1086.8 2196.2,1086.2 2196.5,1087.6 2196.8,1087.1 2197,1087.4 2197.2,1086.9 2197.5,1086 2197.8,1086 2198,1085.2 2198.2,1087.3 2198.5,1084.9 2198.8,1085 2199,1084.6 2199.2,1085 2199.5,1085.4 2199.8,1083.9 2200,1084.2 2200.2,1084.2 2200.5,1084.9 2200.8,1083.2 2201,1083.3 2201.2,1084.1 2201.5,1082.1 2201.6,1083 2201.8,1083.1 2202,1082.4 2202.2,1083.1 2202.5,1083.5 2202.8,1084.3 2203,1084.4 2203.2,1083.7 2203.5,1083.7 2203.8,1085.1 2204,1083.9 2204.2,1084.7 2204.5,1084.6 2204.8,1084.6 2205,1085.9 2205.2,1085.1 2205.5,1085.8 2205.8,1087.1 2206,1087.5 2206.2,1085.8 2206.5,1086.2 2206.8,1086.4 2207,1086.2 2207.2,1087.9 2207.5,1087.7 2207.8,1087.5 2208,1086.7 2208.2,1087.8 2208.5,1087.5 2208.8,1087.4 2209,1087.8 2209.2,1088.3 2209.5,1087.5 2209.8,1087.3 2210,1086.9 2210.2,1088.4 2210.5,1087.9 2210.8,1086.1 2211,1087.7 2211.2,1088.1 2211.5,1086.7 2211.8,1086.7 2212,1088.3 2212.2,1087.5 2212.5,1086.8 2212.8,1087.7 2213,1087.9 2213.2,1087.1 2213.5,1087.2 2213.8,1087.7 2214,1087.7 2214.2,1088.8 2214.5,1088.5 2214.8,1088 2215,1087.3 2215.2,1087.3 2215.5,1086.4 2215.8,1087.7 2216,1087.5 2216.2,1087.3 2216.5,1088.2 2216.8,1088.5 2217,1086.6 2217.2,1088 2217.5,1088 2217.8,1087.4 2218,1087.3 2218.2,1088.8 2218.5,1088.2 2218.8,1089.1 2219,1087.3 2219.2,1087.1 2219.5,1087.6 2219.8,1088.3 2220,1088.6 2220.2,1089 2220.5,1087.4 2220.8,1086.9 2221,1088.4 2221.2,1088.3 2221.5,1088.1 2221.8,1088.7 2222,1087.3 2222.2,1086.8 2222.5,1089.1 2222.8,1088 2223,1087.6 2223.2,1088.3 2223.5,1089.2 2223.8,1087.9 2224,1088.9 2224.2,1087.9 2224.5,1089 2224.8,1087.9 2225,1088.6 2225.2,1087.8 2225.5,1088.2 2225.8,1088 2226,1087.6 2226.2,1087.9 2226.5,1088.3 2226.8,1087.8 2227,1087.5 2227.2,1088.1 2227.5,1088.7 2227.8,1087.8 2228,1087.2 2228.2,1087.3 2228.5,1087.9 2228.8,1088.8 2229,1087.2 2229.2,1088.5 2229.5,1087.7 2229.8,1087.4 2230,1087.5 2230.2,1088.6 2230.5,1087.6 2230.8,1088.7 2231,1089.1 2231.2,1087.3 2231.5,1087.1 2231.8,1086.8 2232,1088.2 2232.2,1087.3 2232.5,1087.5 2232.8,1087.4 2233,1088.7 2233.2,1088.3 2233.5,1088.2 2233.8,1086.8 2234,1087.3 2234.2,1087.8 2234.5,1087.8 2234.8,1088 2235,1088.8 2235.2,1088.3 2235.5,1088.3 2235.8,1087.8 2236,1087.6 2236.2,1087.6 2236.5,1087.8 2236.8,1086.8 2237,1087.5 2237.2,1087.9 2237.5,1087.6 2237.8,1087.8 2238,1086.7 2238.2,1087.5 2238.5,1087.9 2238.8,1088.6 2239,1087.9 2239.2,1087.7 2239.5,1087.5 2239.8,1087.9 2240,1087.5 2240.2,1088.3 2240.5,1087.5 2240.8,1088.3 2241,1087.5 2241.2,1087 2241.5,1087 2241.8,1088.4 2242,1087.5 2242.2,1087.6 2242.5,1089.4 2242.8,1087.1 2243,1087.8 2243.2,1087 2243.5,1087.5 2243.8,1088.2 2244,1087.7 2244.2,1089 2244.5,1087.3 2244.8,1087.4 2245,1087 2245.2,1087.9 2245.5,1087.4 2245.8,1087.8 2246,1087.4 2246.2,1088.1 2246.5,1087.5 2246.8,1087.9 2247,1087.8 2247.2,1087.4 2247.5,1087.9 2247.8,1087.9 2248,1088.2 2248.2,1086.7 2248.5,1088.8 2248.8,1088 2249,1088.2 2249.2,1088.2 2249.5,1087.1 2249.8,1088.3 2250,1088.1 2250.2,1087.6 2250.5,1088.4 2250.8,1087.7 2251,1087.3 2251.2,1088.4 2251.5,1088.4 2251.8,1088.1 2252,1087.8 2252.2,1088.9 2252.5,1087.6 2252.8,1088.1 2253,1087.8 2253.2,1087.8 2253.5,1088.2 2253.8,1087.3 2254,1088.2 2254.2,1088.1 2254.5,1087.7 2254.8,1087.5 2255,1087.1 2255.2,1088 2255.5,1089 2255.8,1087.6 2256,1087.4 2256.2,1087.5 2256.5,1088.1 2256.8,1088.2 2257,1088.2 2257.2,1087.9 2257.5,1087.2 2257.8,1088.6 2258,1087.7 2258.2,1088.2 2258.5,1088 2258.8,1088 2259,1088.4 2259.2,1088 2259.5,1089.2 2259.8,1088.8 2260,1088.5 2260.2,1087.8 2260.5,1088.5 2260.8,1088.2 2261,1088.4 2261.2,1088 2261.5,1087.4 2261.8,1087.4 2262,1087.9 2262.2,1088.5 2262.5,1087.9 2262.8,1087.6 2263,1087.9 2263.2,1088.4 2263.5,1087.7 2263.8,1087.7 2264,1088.1 2264.2,1088.4 2264.5,1087.3 2264.8,1087.8 2265,1088 2265.2,1087.7 2265.5,1088.3 2265.8,1088.5 2266,1087.5 2266.2,1089.4 2266.5,1088.2 2266.8,1088.9 2267,1088.4 2267.2,1086.9 2267.5,1087.2 2267.8,1088.2 2268,1088.3 2268.2,1088.4 2268.5,1086.8"/>
<polyline fill="none" stroke="#3a3a3a" stroke-width="1.7" stroke-linejoin="round" points="665.5,1621.3 665.8,1621.2 666,1621.6 666.2,1621.9 666.5,1622.1 666.8,1621.9 667,1621.8 667.2,1621.8 667.5,1622.3 667.8,1622.7 668,1622.3 668.2,1622 668.5,1622.1 668.8,1623 669,1622.6 669.2,1622.1 669.5,1622.7 669.8,1622.5 670,1622.7 670.2,1622.8 670.5,1622.8 670.8,1623.3 671,1623.2 671.2,1623.1 671.5,1623.5 671.8,1623.7 672,1623 672.2,1623.5 672.5,1623.3 672.8,1623.6 673,1623.3 673.2,1623.7 673.5,1623.7 673.8,1623.7 674,1623.5 674.2,1623.8 674.5,1623.6 674.8,1623.6 675,1624.1 675.2,1623.7 675.5,1624.4 675.8,1624.4 676,1623.6 676.2,1624.3 676.5,1623.9 676.8,1624.3 677,1624.4 677.2,1623.8 677.5,1624.4 677.8,1624.4 678,1624.8 678.2,1624.2 678.5,1624.8 678.8,1624.3 679,1624.6 679.2,1624.4 679.5,1625.1 679.8,1624.9 680,1625.4 680.2,1624.9 680.5,1625 680.8,1624.9 681,1624.5 681.2,1624.7 681.5,1625.1 681.8,1624.6 682,1624.8 682.2,1624.7 682.5,1624.9 682.8,1624.6 683,1624.7 683.2,1624.8 683.5,1624.7 683.8,1624.4 684,1625 684.2,1624.3 684.5,1624.3 684.8,1624.3 685,1625 685.2,1624.6 685.5,1624.4 685.8,1624.4 686,1624.8 686.2,1624.4 686.5,1624.3 686.8,1624.9 687,1624.3 687.2,1624.6 687.5,1624.7 687.8,1624.6 688,1624.7 688.2,1625.1 688.5,1624.5 688.8,1624.3 689,1624.1 689.2,1624.6 689.5,1624.6 689.8,1624.8 690,1624.6 690.2,1624.6 690.5,1624.5 690.8,1624.5 691,1624.7 691.2,1624.6 691.5,1624.7 691.8,1625.3 692,1624.8 692.2,1624.2 692.5,1625.2 692.8,1624.8 693,1624.4 693.2,1625 693.5,1624.7 693.8,1624.5 694,1624.5 694.2,1624.4 694.5,1624.7 694.8,1625 695,1624.6 695.2,1624.8 695.5,1625.3 695.8,1624.3 696,1624.8 696.2,1624.6 696.5,1624.4 696.8,1624.4 697,1624.7 697.2,1624.8 697.5,1624.5 697.8,1624.7 698,1624.9 698.2,1624.8 698.5,1625 698.8,1624.8 699,1624.8 699.2,1625.2 699.5,1624.9 699.8,1624.7 700,1624.9 700.2,1624.4 700.5,1624.6 700.8,1624.9 701,1624.9 701.2,1625.2 701.5,1624.7 701.8,1624.3 702,1625.3 702.2,1625 702.5,1624.4 702.8,1625.1 703,1624.7 703.2,1624.2 703.5,1624.6 703.8,1624.5 704,1625.2 704.2,1624.5 704.5,1624.6 704.8,1624.6 705,1624.6 705.2,1624.4 705.5,1624.8 705.8,1625 706,1624.9 706.2,1624.4 706.5,1624.4 706.8,1624.7 707,1624.5 707.2,1624.5 707.5,1624.2 707.8,1625.3 708,1625 708.2,1624.4 708.5,1625 708.8,1625.1 709,1624 709.2,1624.5 709.5,1624.6 709.8,1624.9 710,1624.7 710.2,1624.6 710.5,1624.7 710.8,1625.3 711,1625.3 711.2,1624.5 711.5,1624.4 711.8,1625.5 712,1624.4 712.2,1624.5 712.5,1624.7 712.8,1624.8 713,1625 713.2,1624.8 713.5,1624.4 713.8,1624.8 714,1624.8 714.2,1625.3 714.5,1624.7 714.8,1624.3 715,1624.4 715.2,1625.1 715.5,1624.5 715.8,1624.1 716,1624.5 716.2,1624.7 716.5,1625.1 716.8,1624.4 717,1624.9 717.2,1624.9 717.5,1624.5 717.8,1624.6 718,1625.2 718.2,1625.2 718.5,1625 718.8,1624.8 719,1625 719.2,1624.7 719.5,1624.7 719.8,1624.4 720,1624.7 720.2,1624.7 720.5,1625.5 720.8,1624.6 721,1625.1 721.2,1625.1 721.5,1624.6 721.8,1625 722,1624 722.2,1624.7 722.5,1625 722.8,1624 723,1624.3 723.2,1625 723.5,1624.6 723.8,1624.4 724,1624.6 724.2,1624.5 724.5,1624.9 724.8,1624.8 725,1624.6 725.2,1624.5 725.5,1624.7 725.8,1625.1 726,1624.8 726.2,1624.9 726.5,1624.7 726.8,1624.3 727,1624.5 727.2,1624.9 727.5,1624.7 727.8,1624.4 728,1624.2 728.2,1624.7 728.5,1624.6 728.8,1624.6 729,1624.6 729.2,1624.8 729.5,1624.8 729.8,1625 730,1625 730.2,1625.1 730.5,1624.9 730.8,1624.6 731,1624.7 731.2,1624.8 731.5,1624.6 731.8,1624.9 732,1625 732.2,1624.5 732.5,1624.2 732.8,1625.1 733,1624.7 733.2,1624.9 733.5,1624.3 733.8,1625.2 734,1624.9 734.2,1624.7 734.5,1624.6 734.8,1624.7 735,1624.6 735.2,1624.6 735.5,1624.4 735.8,1625.1 736,1624.7 736.2,1624.7 736.5,1624.7 736.8,1624 737,1624.9 737.2,1624.6 737.5,1624.6 737.8,1624.7 738,1624.4 738.2,1624.9 738.5,1624.5 738.8,1624.4 739,1624.4 739.2,1624.7 739.5,1624.9 739.8,1624.5 740,1624.2 740.2,1625 740.5,1624.4 740.8,1625.1 741,1624.7 741.2,1624.5 741.5,1624.5 741.8,1624.8 742,1625 742.2,1624.6 742.5,1625 742.8,1625.3 743,1624.6 743.2,1624.4 743.5,1624.4 743.8,1624.3 744,1624.5 744.2,1624.5 744.5,1624.3 744.8,1624.9 745,1623.9 745.2,1624.3 745.5,1625.3 745.8,1625 746,1624.9 746.2,1624.8 746.5,1625.2 746.8,1624.8 747,1624.6 747.2,1624.2 747.5,1624.5 747.8,1624.2 748,1624.2 748.2,1624.2 748.5,1624.4 748.8,1624.2 749,1624.6 749.2,1623.9 749.5,1624.2 749.8,1624.8 750,1624.2 750.2,1624.5 750.5,1624.5 750.8,1624.5 751,1624.3 751.2,1623.6 751.5,1623.9 751.8,1623.8 752,1623.5 752.2,1623.7 752.5,1623.5 752.8,1623.3 753,1623.9 753.2,1623.7 753.5,1623.5 753.8,1623.4 754,1623.5 754.2,1623.5 754.5,1623.5 754.8,1623.5 755,1623.4 755.2,1623.6 755.5,1623.6 755.8,1623.5 756,1623.2 756.2,1623.2 756.5,1623.5 756.8,1623.2 757,1623.3 757.2,1622.5 757.5,1622.4 757.8,1623.3 758,1623.2 758.2,1623.5 758.5,1623.3 758.8,1623.1 759,1623 759.2,1622.6 759.5,1623.2 759.8,1622.7 760,1623 760.2,1622.9 760.5,1622.9 760.8,1623.1 761,1622.6 761.2,1622.6 761.5,1622.4 761.8,1622.5 762,1623.1 762.2,1622.5 762.5,1622.9 762.8,1622.8 763,1622.7 763.2,1622.7 763.5,1622.2 763.8,1622.6 764,1623 764.2,1622.3 764.5,1622.5 764.8,1622.3 765,1622.6 765.2,1622.1 765.5,1622.9 765.8,1622.3 766,1622 766.2,1623 766.5,1622.7 766.8,1622.6 767,1622.6 767.2,1622.3 767.5,1622.3 767.8,1622.6 768,1622.7 768.2,1622.7 768.5,1622.5 768.8,1622.2 769,1622.3 769.2,1622.7 769.5,1622.8 769.8,1622.3 770,1622.2 770.2,1622.7 770.5,1622.6 770.8,1622.6 771,1622 771.2,1622.2 771.5,1622.2 771.8,1622.4 772,1621.8 772.2,1622.7 772.5,1622.4 772.8,1622.4 773,1622 773.2,1622.3 773.5,1622.7 773.8,1621.8 774,1622.4 774.2,1622.5 774.5,1622.1 774.8,1622.5 775,1622.2 775.2,1622.6 775.5,1622.4 775.8,1622.3 776,1622.9 776.2,1622.5 776.5,1622.6 776.8,1621.9 777,1622 777.2,1622.5 777.5,1622.5 777.8,1622.2 778,1622.4 778.2,1621.9 778.5,1622.3 778.8,1621.9 779,1622.3 779.2,1622 779.5,1622 779.8,1622.2 780,1622.7 780.2,1621.9 780.5,1622 780.8,1622.5 781,1622 781.2,1622.7 781.5,1622.2 781.8,1622.2 782,1622.2 782.2,1622.7 782.5,1622.3 782.8,1622.3 783,1622.2 783.2,1621.6 783.5,1621.8 783.8,1622.5 784,1622.3 784.2,1622.2 784.5,1622.3 784.8,1621.9 785,1622.2 785.2,1621.8 785.5,1622.2 785.8,1621.9 786,1622 786.2,1622.2 786.5,1622 786.8,1622.2 787,1622.2 787.2,1622.1 787.5,1622.4 787.8,1621.6 788,1621.5 788.2,1622.2 788.5,1622.3 788.8,1622.6 789,1622.2 789.2,1622.2 789.5,1621.7 789.8,1622.2 790,1622.2 790.2,1621.7 790.5,1621.7 790.8,1621.9 791,1622.1 791.2,1621.1 791.5,1622 791.8,1622 792,1621.9 792.2,1622 792.5,1622.1 792.8,1621.6 793,1622.1 793.2,1621.8 793.5,1621.6 793.8,1622 794,1622.4 794.2,1621.5 794.5,1621.4 794.8,1621.4 795,1622.5 795.2,1621.8 795.5,1621.9 795.8,1621.6 796,1621.6 796.2,1621.3 796.5,1621.9 796.8,1621.9 797,1621.3 797.2,1621.5 797.5,1621.6 797.8,1621.8 798,1621.9 798.2,1622.2 798.5,1622.2 798.8,1622.1 799,1622.2 799.2,1621.5 799.5,1621.6 799.8,1622.1 800,1621.9 800.2,1621.8 800.5,1621.2 800.8,1621.2 801,1622 801.2,1621.9 801.5,1621.7 801.8,1621.7 802,1621.3 802.2,1621.9 802.5,1622.1 802.8,1622.3 803,1621.8 803.2,1621.8 803.5,1621.5 803.8,1622.2 804,1622.3 804.2,1621.7 804.5,1621.9 804.8,1621.9 805,1621.7 805.2,1621.1 805.5,1621.7 805.8,1622 806,1621.4 806.2,1621.6 806.5,1620.9 806.8,1622.2 807,1622 807.2,1621.9 807.5,1621.8 807.8,1621.7 808,1621.8 808.2,1621.8 808.5,1621.8 808.8,1621.9 809,1621.9 809.2,1622.3 809.5,1621.5 809.8,1622 810,1621.7 810.2,1621.6 810.5,1621.2 810.8,1622.1 811,1621.6 811.2,1621.7 811.5,1622 811.8,1621.6 812,1621.9 812.2,1621.9 812.5,1622.2 812.8,1622.2 813,1621.7 813.2,1622.2 813.5,1621.9 813.8,1622 814,1621.9 814.2,1622.2 814.5,1621.6 814.8,1622 815,1622.3 815.2,1621.9 815.5,1622.5 815.8,1621.7 816,1622 816.2,1621.8 816.5,1621.8 816.8,1621.6 817,1621.8 817.2,1621.9 817.5,1621.7 817.8,1622.2 818,1622.4 818.2,1621.5 818.5,1622.2 818.8,1622 819,1622 819.2,1622.7 819.5,1622.3 819.8,1622.1 820,1622 820.2,1621.3 820.5,1622.2 820.8,1621.8 821,1622 821.2,1622 821.5,1622.3 821.8,1622.6 822,1622.3 822.2,1622.4 822.5,1621.9 822.8,1622.1 823,1622.2 823.2,1621.6 823.5,1622.6 823.8,1621.8 824,1621.6 824.2,1622.5 824.5,1622.7 824.8,1621.8 825,1621.9 825.2,1623 825.5,1622.1 825.8,1621.4 826,1621.9 826.2,1622.6 826.5,1622.2 826.8,1622.3 827,1622.4 827.2,1622.3 827.5,1622 827.8,1621.6 828,1622.2 828.2,1621.7 828.5,1622.1 828.8,1622.6 829,1622.2 829.2,1622.1 829.5,1622.1 829.8,1622.3 830,1622.4 830.2,1621.7 830.5,1622.1 830.8,1622.6 831,1622.3 831.2,1621.9 831.5,1621.9 831.8,1621.5 832,1621.9 832.2,1622.6 832.5,1622.1 832.8,1621.9 833,1621.9 833.2,1622.1 833.5,1622.1 833.8,1622 834,1621.9 834.2,1622.3 834.5,1622.6 834.8,1622 835,1622 835.2,1622.5 835.5,1621.7 835.8,1622 836,1622 836.2,1622.2 836.5,1622.1 836.8,1621.9 837,1622.2 837.2,1621.8 837.5,1621.6 837.8,1621.5 838,1622.4 838.2,1621.6 838.5,1622.3 838.8,1622.4 839,1622.4 839.2,1622.1 839.5,1622 839.8,1622.2 840,1622 840.2,1621.8 840.5,1622.6 840.8,1621.9 841,1622.7 841.2,1622.3 841.5,1622.1 841.8,1622.3 842,1622.6 842.2,1621.8 842.5,1621.9 842.8,1621.9 843,1622.3 843.2,1622.3 843.5,1622.2 843.8,1622 844,1622.1 844.2,1622.6 844.5,1622.6 844.8,1622.3 845,1621.8 845.2,1622.4 845.5,1622.3 845.8,1622.3 846,1622.8 846.2,1622.5 846.5,1621.9 846.8,1622 847,1622.7 847.2,1622.3 847.5,1622.5 847.8,1622.2 848,1622 848.2,1622.4 848.5,1622.7 848.8,1622.4 849,1621.9 849.2,1622.2 849.5,1622.1 849.8,1622.3 850,1622.6 850.2,1622.9 850.5,1622.4 850.8,1622.2 851,1622.3 851.2,1622.3 851.5,1622.2 851.8,1622.3 852,1622.3 852.2,1622 852.5,1622.5 852.8,1622.3 853,1622.1 853.2,1622.6 853.5,1622.3 853.8,1623 854,1622.7 854.2,1622.6 854.5,1622.3 854.8,1622.5 855,1622.9 855.2,1622.4 855.5,1622.9 855.8,1622.1 856,1622.8 856.2,1623 856.5,1622.9 856.8,1622.8 857,1623.1 857.2,1622.6 857.5,1622.6 857.8,1622.9 858,1623.3 858.2,1623.1 858.5,1622.9 858.8,1623.1 859,1623.1 859.2,1622.7 859.5,1622.2 859.8,1622.8 860,1622.7 860.2,1623 860.5,1622.8 860.8,1622.9 861,1623.3 861.2,1623.3 861.5,1623.3 861.8,1623.8 862,1623.2 862.2,1623.2 862.5,1623.7 862.8,1623.1 863,1622.9 863.2,1623.8 863.5,1623.6 863.8,1623.7 864,1623.7 864.2,1623.8 864.5,1623.4 864.8,1623.6 865,1623.3 865.2,1623.7 865.5,1623.7 865.8,1623.6 866,1623.9 866.2,1624.6 866.5,1623.4 866.8,1624.1 867,1624.1 867.2,1624.2 867.5,1623.6 867.8,1624.3 868,1624.1 868.2,1623.9 868.5,1623.9 868.8,1624.1 869,1624.3 869.2,1624.3 869.5,1624.8 869.8,1624 870,1624.3 870.2,1624 870.5,1624.4 870.8,1624.3 871,1624.1 871.2,1623.9 871.5,1624.1 871.8,1624.4 872,1624.8 872.2,1624.6 872.5,1624 872.8,1624.3 873,1624.4 873.2,1624.4 873.5,1624.5 873.8,1624.7 874,1624.6 874.2,1624.3 874.5,1624 874.8,1624.5 875,1624.1 875.2,1624.6 875.5,1624.7 875.8,1624.3 876,1624.7 876.2,1624.6 876.5,1625.3 876.8,1624.8 877,1624.1 877.2,1624.8 877.5,1624.8 877.8,1624.6 878,1624.6 878.2,1624.9 878.5,1624.9 878.8,1624.8 879,1624.4 879.2,1624.6 879.5,1624.2 879.8,1624.2 880,1624.5 880.2,1624.3 880.5,1624.5 880.8,1625.4 881,1624.8 881.2,1624.4 881.5,1624 881.8,1624.4 882,1624.2 882.2,1624 882.5,1624.9 882.8,1624.5 883,1624.8 883.2,1625.6 883.5,1624.7 883.8,1624.7 884,1624.7 884.2,1624.6 884.5,1624.4 884.8,1624.6 885,1625 885.2,1624.5 885.5,1624.2 885.8,1624.3 886,1624.3 886.2,1624.6 886.5,1624.8 886.8,1624.8 887,1625 887.2,1624.6 887.5,1624.9 887.8,1624.7 888,1624.8 888.2,1624.1 888.5,1625 888.8,1624.2 889,1624.3 889.2,1624.9 889.5,1624.5 889.8,1625.2 890,1624.7 890.2,1624.3 890.5,1624.7 890.8,1624.5 891,1625.1 891.2,1625.1 891.5,1624.9 891.8,1624.5 892,1624.7 892.2,1625 892.5,1624.4 892.8,1624.4 893,1624.9 893.2,1624.9 893.5,1624.6 893.8,1624.6 894,1624.1 894.2,1625 894.5,1624.6 894.8,1624.2 895,1624.3 895.2,1624.4 895.5,1625.1 895.8,1624.8 896,1624.2 896.2,1625.2 896.5,1625 896.8,1624.3 897,1623.8 897.2,1624.9 897.5,1624.4 897.8,1624.6 898,1624.5 898.2,1625 898.5,1625.1 898.8,1624.9 899,1624.6 899.2,1624.7 899.5,1624.8 899.8,1624.2 900,1625 900.2,1624.5 900.5,1624.7 900.8,1624.7 901,1624.9 901.2,1624.9 901.5,1625.3 901.8,1624.5 902,1624.3 902.2,1624.7 902.5,1624.4 902.8,1624.9 903,1624.4 903.2,1624.7 903.5,1624.9 903.8,1624.9 904,1624.7 904.2,1625 904.5,1625 904.8,1624.1 905,1624.7 905.2,1624.7 905.5,1624.5 905.8,1624.4 906,1624.6 906.2,1624.7 906.5,1624.7 906.8,1625 907,1624.9 907.2,1624.4 907.5,1624.4 907.8,1624.9 908,1624.4 908.2,1624.7 908.5,1624.8 908.8,1624.9 909,1624.8 909.2,1625 909.5,1624.5 909.8,1624.8 910,1624.4 910.2,1624.7 910.5,1624.6 910.8,1624.3 911,1623.8 911.2,1624.9 911.5,1624.7 911.8,1624.6 912,1624.4 912.2,1624.5 912.5,1624.7 912.8,1624.6 913,1624.9 913.2,1624.6 913.5,1624.4 913.8,1624.8 914,1624.4 914.2,1624.7 914.5,1624.1 914.8,1624.5 915,1624.8 915.2,1624.4 915.5,1624.6 915.8,1624.8 916,1624.6 916.2,1625.1 916.5,1624.5 916.8,1624.5 917,1624.5 917.2,1624 917.5,1624.1 917.8,1624.7 918,1624.5 918.2,1625 918.5,1624.6 918.8,1624.5 919,1624.9 919.2,1624.7 919.5,1625.1 919.8,1624.3 920,1624.7 920.2,1624.8 920.5,1624.7 920.8,1624.9 921,1624.9 921.2,1624.6 921.5,1624.4 921.8,1624.9 922,1624.6 922.2,1624.9 922.5,1625 922.8,1624.6 923,1624.3 923.2,1624.5 923.5,1624.8 923.8,1624.5 924,1624.9 924.2,1624.6 924.5,1624.6 924.8,1624.4 925,1624.5 925.2,1624.9 925.5,1624.5 925.8,1624.5 926,1624.3 926.2,1624.8 926.5,1624.1 926.8,1624.4 927,1624.8 927.2,1625 927.5,1624.5 927.8,1624.9 928,1624 928.2,1624.8 928.5,1624.6 928.8,1624.2 929,1624 929.2,1624.4 929.5,1624.6 929.8,1624.7 930,1624.6 930.2,1624.8 930.5,1624.8 930.8,1624.1 931,1624.4 931.2,1624.4 931.5,1624.9 931.8,1624.4 932,1624.8 932.2,1624.6 932.5,1625.2 932.8,1624.5 933,1624.5 933.2,1624.5 933.5,1624.6 933.8,1625.3 934,1624.4 934.2,1624.3 934.5,1624.5 934.8,1624.7 935,1624.2 935.2,1624.8 935.5,1624.8 935.8,1624.5 936,1624.5 936.2,1624.3 936.5,1624.4 936.8,1624.3 937,1624.9 937.2,1625 937.5,1624.4 937.8,1624.5 938,1624 938.2,1624.4 938.5,1624.6 938.8,1624.6 939,1624.6 939.2,1624.8 939.5,1624.5 939.8,1624.4 940,1625 940.2,1623.9 940.5,1624.2 940.8,1624.3 941,1624.3 941.2,1624.3 941.5,1624.4 941.8,1624.3 942,1624.5 942.2,1624.7 942.5,1624.5 942.8,1624.5 943,1624.2 943.2,1624.2 943.5,1624.4 943.8,1624.8 944,1624.6 944.2,1624.8 944.5,1624.8 944.8,1624.8 945,1624.2 945.2,1624.9 945.5,1624.7 945.8,1625.1 946,1624.7 946.2,1624.6 946.5,1624.4 946.8,1624.5 947,1624 947.2,1624.4 947.5,1624.5 947.8,1624.8 948,1624.3 948.2,1624.5 948.5,1625 948.8,1624.3 949,1624.7 949.2,1624.3 949.5,1624.4 949.8,1624.6 950,1624.7 950.2,1624.3 950.5,1624.2 950.8,1624.9 951,1624.5 951.2,1624.7 951.5,1624.7 951.8,1624.7 952,1624.4 952.2,1624.4 952.5,1624 952.8,1624.5 953,1624.3 953.2,1624.4 953.5,1625 953.8,1624.6 954,1624.4 954.2,1624 954.5,1624.6 954.8,1624.9 955,1624.2 955.2,1624.5 955.5,1624.2 955.8,1624.3 956,1624.3 956.2,1623.9 956.5,1624.2 956.8,1623.9 957,1624.8 957.2,1624.7 957.5,1624.4 957.8,1624.4 958,1624.4 958.2,1624.4 958.5,1624.4 958.8,1624.3 959,1624.3 959.2,1623.9 959.5,1624 959.8,1624.1 960,1624.4 960.2,1624.2 960.5,1624.8 960.8,1624.2 961,1624.2 961.2,1624.4 961.5,1624.5 961.8,1624.8 962,1624.5 962.2,1624 962.5,1624.1 962.8,1624.4 963,1624.1 963.2,1624.3 963.5,1623.9 963.8,1624.3 964,1624.1 964.2,1623.8 964.5,1623.1 964.8,1622.1 965,1621.5 965.2,1621.3 965.5,1620.5 965.8,1618.5 966,1618.5 966.2,1618.7 966.3,1618.6 966.5,1618.3 966.8,1619.2 967,1619.9 967.2,1620.7 967.5,1621.9 967.8,1622.7 968,1622.7 968.2,1623 968.5,1623.2 968.8,1623.3 969,1624.2 969.2,1624.5 969.5,1624.1 969.8,1624.3 970,1623.9 970.2,1624.1 970.5,1624.4 970.8,1624.2 971,1624.1 971.2,1623.7 971.5,1623.7 971.8,1624 972,1624 972.2,1624.1 972.5,1624 972.8,1624.1 973,1624.2 973.2,1624.3 973.5,1624.2 973.8,1624 974,1624.1 974.2,1624.4 974.5,1624.1 974.8,1623.9 975,1623.9 975.2,1624.3 975.5,1624.3 975.8,1624.5 976,1624.1 976.2,1624.6 976.5,1624.1 976.8,1624.1 977,1624 977.2,1624.3 977.5,1624.5 977.8,1624.2 978,1624 978.2,1623.7 978.5,1624.2 978.8,1624.1 979,1624.1 979.2,1624 979.5,1623.9 979.8,1624 980,1624.3 980.2,1624.4 980.5,1624.1 980.8,1624.2 981,1624.1 981.2,1624.1 981.5,1623.7 981.8,1624.4 982,1624.3 982.2,1624.5 982.5,1623.9 982.8,1624.2 983,1623.8 983.2,1624.2 983.5,1624.1 983.8,1624.3 984,1624.1 984.2,1624.3 984.5,1624 984.8,1624.3 985,1624 985.2,1624 985.5,1624.1 985.8,1624.2 986,1623.7 986.2,1623.6 986.5,1624.1 986.8,1624.1 987,1623.5 987.2,1623.6 987.5,1623.8 987.8,1624.1 988,1624.1 988.2,1624.3 988.5,1624.4 988.8,1624.7 989,1623.6 989.2,1624 989.5,1624.3 989.8,1623.7 990,1623.6 990.2,1624.1 990.5,1624.3 990.8,1624.4 991,1623.5 991.2,1623.6 991.5,1624 991.8,1623.8 992,1624.1 992.2,1624 992.5,1624.5 992.8,1624 993,1624 993.2,1624 993.5,1624.3 993.8,1623.6 994,1624.1 994.2,1623.7 994.5,1623.5 994.8,1624.3 995,1624.1 995.2,1624.3 995.5,1624 995.8,1624.1 996,1623.9 996.2,1624 996.5,1623.7 996.8,1624.4 997,1623.6 997.2,1624.3 997.5,1623.8 997.8,1624.1 998,1623.8 998.2,1623.9 998.5,1624.2 998.8,1623.8 999,1623.4 999.2,1623.7 999.5,1623.8 999.8,1622.9 1000,1623.9 1000.2,1623.9 1000.5,1623 1000.8,1623.4 1001,1623.6 1001.2,1622.9 1001.5,1623 1001.8,1622.9 1002,1623 1002.2,1623 1002.5,1622.3 1002.8,1621.7 1003,1621.2 1003.2,1619.9 1003.5,1618 1003.8,1616.4 1004,1613 1004.2,1610.6 1004.5,1607.7 1004.8,1605.7 1005,1605.1 1005.2,1605.8 1005.5,1608.6 1005.8,1610.7 1006,1613.5 1006.2,1616.4 1006.5,1618.3 1006.8,1619.1 1007,1620.9 1007.2,1621.9 1007.5,1622 1007.8,1622.6 1008,1622.6 1008.2,1623 1008.5,1622.6 1008.8,1622.6 1009,1623 1009.2,1623.3 1009.5,1623.7 1009.8,1623.3 1010,1623.2 1010.2,1623.7 1010.5,1623.5 1010.8,1624 1011,1623.5 1011.2,1622.9 1011.5,1623.3 1011.8,1623.2 1012,1623.1 1012.2,1623.3 1012.5,1623.4 1012.8,1623.5 1013,1623.4 1013.2,1623.7 1013.5,1623.7 1013.8,1623.6 1014,1623.6 1014.2,1623 1014.5,1623.1 1014.8,1623.3 1015,1623.7 1015.2,1623.1 1015.5,1623.5 1015.8,1623.7 1016,1624.2 1016.2,1623.7 1016.5,1623.4 1016.8,1623.9 1017,1623.6 1017.2,1623.5 1017.5,1623.9 1017.8,1623.3 1018,1623.6 1018.2,1623.6 1018.5,1623.8 1018.8,1623.2 1019,1623.2 1019.2,1623.4 1019.5,1623.5 1019.8,1623.5 1020,1623.4 1020.2,1623.7 1020.5,1623.7 1020.8,1623.6 1021,1623.2 1021.2,1623.8 1021.5,1623 1021.8,1623.4 1022,1623.8 1022.2,1623.3 1022.5,1623.9 1022.8,1624 1023,1623.9 1023.2,1623.6 1023.5,1623.8 1023.8,1623.3 1024,1623.6 1024.2,1623.6 1024.5,1623.5 1024.8,1623.5 1025,1623.4 1025.2,1622.8 1025.5,1623.5 1025.8,1623.5 1026,1624 1026.2,1623.6 1026.5,1623.4 1026.8,1623.6 1027,1623.6 1027.2,1623.4 1027.5,1623.2 1027.8,1622.9 1028,1623.4 1028.2,1623.8 1028.5,1622.8 1028.8,1623 1029,1623.5 1029.2,1623.3 1029.5,1623.4 1029.8,1622.7 1030,1623.1 1030.2,1623.4 1030.5,1623.4 1030.8,1623.3 1031,1622.9 1031.2,1623.4 1031.5,1622.8 1031.8,1622.9 1032,1622.8 1032.2,1623.6 1032.5,1623 1032.8,1623.1 1033,1622.4 1033.2,1623.4 1033.5,1623.2 1033.8,1622.5 1034,1622.5 1034.2,1623.4 1034.5,1622.6 1034.8,1623.4 1035,1622.7 1035.2,1622 1035.5,1623.1 1035.8,1622.8 1036,1622.8 1036.2,1622.4 1036.5,1622.4 1036.8,1622.7 1037,1622 1037.2,1621.5 1037.5,1622.2 1037.8,1621.6 1038,1621.9 1038.2,1621 1038.5,1620.5 1038.8,1619.8 1039,1618.3 1039.2,1618.2 1039.5,1616.1 1039.8,1614.5 1040,1612.8 1040.2,1610 1040.5,1607.6 1040.8,1604.9 1041,1602.7 1041.2,1600.7 1041.5,1600 1041.6,1599.5 1041.8,1599.9 1042,1600.7 1042.2,1603.2 1042.5,1604.6 1042.8,1607.9 1043,1610.5 1043.2,1612.9 1043.5,1614.8 1043.8,1617 1044,1618.6 1044.2,1618.9 1044.5,1619.4 1044.8,1620.3 1045,1620.8 1045.2,1621.4 1045.5,1621.6 1045.8,1622.2 1046,1621.9 1046.2,1622.1 1046.5,1622.2 1046.8,1622 1047,1622.3 1047.2,1623.2 1047.5,1622.4 1047.8,1622.2 1048,1621.9 1048.2,1622.9 1048.5,1622.5 1048.8,1622.5 1049,1623.4 1049.2,1623.1 1049.5,1622.2 1049.8,1622.6 1050,1623 1050.2,1623 1050.5,1622.4 1050.8,1623.3 1051,1623.3 1051.2,1622.5 1051.5,1622.3 1051.8,1622.4 1052,1623 1052.2,1623.1 1052.5,1622.9 1052.8,1622.6 1053,1622.8 1053.2,1623 1053.5,1622.5 1053.8,1622.3 1054,1622.8 1054.2,1623.2 1054.5,1622.9 1054.8,1622.9 1055,1622.6 1055.2,1623.1 1055.5,1622.3 1055.8,1622.8 1056,1622.6 1056.2,1622.8 1056.5,1622.5 1056.8,1623 1057,1622.8 1057.2,1622.6 1057.5,1623 1057.8,1622.8 1058,1622.6 1058.2,1622.6 1058.5,1623 1058.8,1622.5 1059,1622.7 1059.2,1622.7 1059.5,1622.9 1059.8,1622.7 1060,1623.4 1060.2,1622.2 1060.5,1622.9 1060.8,1622.8 1061,1623.1 1061.2,1622.3 1061.5,1623.1 1061.8,1622.4 1062,1623 1062.2,1622.9 1062.5,1622.8 1062.8,1622.5 1063,1622.5 1063.2,1622.8 1063.5,1622.5 1063.8,1622.2 1064,1622.2 1064.2,1623 1064.5,1623 1064.8,1622.9 1065,1622.8 1065.2,1622.9 1065.5,1622.9 1065.8,1622.8 1066,1622.5 1066.2,1622.5 1066.5,1622.4 1066.8,1622.8 1067,1622.4 1067.2,1622.7 1067.5,1623.1 1067.8,1622.6 1068,1623 1068.2,1623.2 1068.5,1622.1 1068.8,1622.2 1069,1622.8 1069.2,1622.5 1069.5,1622.8 1069.8,1622.9 1070,1622.5 1070.2,1622.9 1070.5,1623.1 1070.8,1622.9 1071,1622.3 1071.2,1622.5 1071.5,1622.4 1071.8,1623 1072,1622.5 1072.2,1622.3 1072.5,1622.5 1072.8,1622.6 1073,1622.4 1073.2,1622.5 1073.5,1622.4 1073.8,1622.6 1074,1622.7 1074.2,1622.4 1074.5,1622.2 1074.8,1622.4 1075,1621.9 1075.2,1622.5 1075.5,1622.2 1075.8,1622.1 1076,1621.3 1076.2,1622.6 1076.5,1622.3 1076.8,1622.1 1077,1621.6 1077.2,1621.7 1077.5,1622.2 1077.8,1620.9 1078,1621.1 1078.2,1620.7 1078.5,1620.1 1078.8,1619.5 1079,1618.2 1079.2,1617.4 1079.5,1615.1 1079.8,1613.6 1080,1610.2 1080.2,1606 1080.5,1601.2 1080.8,1597 1081,1592.3 1081.2,1587.7 1081.5,1585.7 1081.7,1584.5 1081.8,1584.3 1082,1585.6 1082.2,1589.5 1082.5,1594 1082.8,1599.1 1083,1603.9 1083.2,1607.8 1083.5,1611.4 1083.8,1614.5 1084,1616.4 1084.2,1617.7 1084.5,1619.1 1084.8,1619.5 1085,1620.4 1085.2,1620.6 1085.5,1620.6 1085.8,1621.3 1086,1621.4 1086.2,1621.7 1086.5,1621.2 1086.8,1622 1087,1622.1 1087.2,1621.8 1087.5,1621.9 1087.8,1622 1088,1622.1 1088.2,1622.4 1088.5,1621.9 1088.8,1621.8 1089,1622.1 1089.2,1622.8 1089.5,1622.2 1089.8,1622 1090,1622 1090.2,1622.4 1090.5,1622.7 1090.8,1622.2 1091,1622.4 1091.2,1622.5 1091.5,1622.5 1091.8,1622.5 1092,1622.7 1092.2,1622.6 1092.5,1622.3 1092.8,1623.2 1093,1622 1093.2,1622.1 1093.5,1622.8 1093.8,1622.5 1094,1622.4 1094.2,1622.5 1094.5,1622.7 1094.8,1622.3 1095,1622.3 1095.2,1622.2 1095.5,1622.2 1095.8,1622.2 1096,1622.8 1096.2,1622.6 1096.5,1622.6 1096.8,1622.3 1097,1622.8 1097.2,1622 1097.5,1622.6 1097.8,1622.7 1098,1622.3 1098.2,1622.1 1098.5,1622.6 1098.8,1622.2 1099,1622.2 1099.2,1622.4 1099.5,1622.1 1099.8,1622.4 1100,1623 1100.2,1622.3 1100.5,1622.6 1100.8,1622 1101,1622.4 1101.2,1622.3 1101.5,1622.3 1101.8,1622.5 1102,1622.9 1102.2,1622.2 1102.5,1622.7 1102.8,1622.4 1103,1622.5 1103.2,1622.1 1103.5,1622 1103.8,1622.1 1104,1621.9 1104.2,1622.1 1104.5,1621.8 1104.8,1622.1 1105,1622.1 1105.2,1622.6 1105.5,1622.6 1105.8,1622.2 1106,1621.8 1106.2,1622.2 1106.5,1622.2 1106.8,1621.9 1107,1621.6 1107.2,1621.3 1107.5,1621.8 1107.8,1622.4 1108,1621.7 1108.2,1621.9 1108.5,1621.8 1108.8,1621.8 1109,1621.9 1109.2,1621 1109.5,1621.5 1109.8,1621.6 1110,1621.4 1110.2,1621.8 1110.5,1621.3 1110.8,1621.6 1111,1621.8 1111.2,1621.1 1111.5,1621.2 1111.8,1621 1112,1621.3 1112.2,1620.3 1112.5,1620.5 1112.8,1620.7 1113,1621 1113.2,1620.8 1113.5,1620.3 1113.8,1621 1114,1620.4 1114.2,1620.1 1114.5,1620.3 1114.8,1620.4 1115,1619.9 1115.2,1619.3 1115.5,1619.5 1115.8,1619.5 1116,1619.6 1116.2,1618.8 1116.5,1619 1116.8,1618.4 1117,1618.5 1117.2,1617.9 1117.5,1617.9 1117.8,1617.3 1118,1617.1 1118.2,1616.5 1118.5,1616 1118.8,1616.5 1119,1615.9 1119.2,1615 1119.5,1614 1119.8,1613.4 1120,1611.6 1120.2,1610 1120.5,1607.9 1120.8,1604.5 1121,1600.7 1121.2,1594.9 1121.5,1588 1121.8,1579.2 1122,1567.7 1122.2,1554 1122.5,1538 1122.8,1517.7 1123,1495.9 1123.2,1470 1123.5,1442.1 1123.8,1411.8 1124,1380.4 1124.2,1349.3 1124.5,1318.5 1124.8,1290.9 1125,1268 1125.2,1249.9 1125.5,1240 1125.7,1237.2 1125.8,1237 1126,1242.5 1126.2,1255.7 1126.5,1276.9 1126.8,1301.1 1127,1330 1127.2,1361.5 1127.5,1392.9 1127.8,1423.8 1128,1453.3 1128.2,1480.3 1128.5,1504.6 1128.8,1526.1 1129,1544.9 1129.2,1560.4 1129.5,1573 1129.8,1582.8 1130,1590.2 1130.2,1597.3 1130.5,1601.9 1130.8,1604.8 1131,1608.8 1131.2,1610.6 1131.5,1612.1 1131.8,1613.4 1132,1614.3 1132.2,1615.1 1132.5,1615.7 1132.8,1616.2 1133,1616.8 1133.2,1617.1 1133.5,1618.1 1133.8,1617.7 1134,1617.8 1134.2,1618 1134.5,1618.5 1134.8,1618.7 1135,1618.9 1135.2,1618.9 1135.5,1619.1 1135.8,1619.5 1136,1619.9 1136.2,1619.7 1136.5,1619.7 1136.8,1619.5 1137,1619.6 1137.2,1620.1 1137.5,1620.1 1137.8,1620.2 1138,1620 1138.2,1620.4 1138.5,1619.9 1138.8,1620.2 1139,1620.4 1139.2,1620.9 1139.5,1620.6 1139.8,1620.5 1140,1620.9 1140.2,1620.9 1140.5,1621.2 1140.8,1621.1 1141,1621.1 1141.2,1621.1 1141.5,1621.4 1141.8,1621 1142,1620.8 1142.2,1621.6 1142.5,1621.2 1142.8,1621.4 1143,1621.6 1143.2,1621.8 1143.5,1620.6 1143.8,1621.2 1144,1621.9 1144.2,1621.1 1144.5,1621.8 1144.8,1621.5 1145,1621.4 1145.2,1621.7 1145.5,1621.2 1145.8,1621.9 1146,1622.1 1146.2,1621.4 1146.5,1621.6 1146.8,1622.2 1147,1622 1147.2,1621.8 1147.5,1622.4 1147.8,1621.5 1148,1621.9 1148.2,1622 1148.5,1621.9 1148.8,1622.3 1149,1621.6 1149.2,1622.1 1149.5,1621.9 1149.8,1622.5 1150,1622.4 1150.2,1621.9 1150.5,1621.8 1150.8,1622.2 1151,1621.9 1151.2,1622 1151.5,1622.4 1151.8,1622.1 1152,1622.8 1152.2,1622.3 1152.5,1622.1 1152.8,1622 1153,1622.1 1153.2,1622.7 1153.5,1622.5 1153.8,1622.8 1154,1622.7 1154.2,1622.5 1154.5,1622.2 1154.8,1622.3 1155,1622.4 1155.2,1621.9 1155.5,1622.5 1155.8,1622.1 1156,1622.4 1156.2,1622.3 1156.5,1622.6 1156.8,1623.2 1157,1622.1 1157.2,1622.5 1157.5,1623.1 1157.8,1622.2 1158,1622.4 1158.2,1622.4 1158.5,1622.6 1158.8,1622 1159,1622.6 1159.2,1622.6 1159.5,1623.2 1159.8,1622.4 1160,1622.3 1160.2,1622.4 1160.5,1621.6 1160.8,1622.4 1161,1622.7 1161.2,1622.2 1161.5,1622 1161.8,1621.8 1162,1621.5 1162.2,1620.6 1162.5,1620.8 1162.8,1619.3 1163,1618.3 1163.2,1617.8 1163.5,1616.2 1163.8,1615.2 1164,1615.5 1164.2,1615.4 1164.5,1616.5 1164.8,1617.2 1165,1618 1165.2,1619.6 1165.5,1620.9 1165.8,1621 1166,1621.8 1166.2,1622.2 1166.5,1622.3 1166.8,1622.4 1167,1622.7 1167.2,1622.6 1167.5,1622.5 1167.8,1623 1168,1623 1168.2,1622.9 1168.5,1623 1168.8,1622 1169,1622.9 1169.2,1622.9 1169.5,1622.3 1169.8,1623.5 1170,1623 1170.2,1622.8 1170.5,1622.8 1170.8,1623 1171,1623 1171.2,1622.5 1171.5,1622.9 1171.8,1623.1 1172,1623.2 1172.2,1623.3 1172.5,1622.7 1172.8,1622.8 1173,1623.2 1173.2,1622.9 1173.5,1623.1 1173.8,1622.8 1174,1623.3 1174.2,1623.1 1174.5,1623.3 1174.8,1623.1 1175,1622.9 1175.2,1622.7 1175.5,1623.1 1175.8,1622.9 1176,1622.7 1176.2,1623 1176.5,1623.4 1176.8,1623.5 1177,1623.4 1177.2,1623.6 1177.5,1623 1177.8,1623.1 1178,1622.9 1178.2,1622.9 1178.5,1623.6 1178.8,1623.3 1179,1623.3 1179.2,1623.9 1179.5,1623.7 1179.8,1622.9 1180,1623.4 1180.2,1622.9 1180.5,1623.4 1180.8,1622.5 1181,1622.8 1181.2,1622.8 1181.5,1623.7 1181.8,1622.5 1182,1623.4 1182.2,1623.3 1182.5,1623 1182.8,1623.2 1183,1623.7 1183.2,1623 1183.5,1622.8 1183.8,1623.2 1184,1623 1184.2,1622.3 1184.5,1622.6 1184.8,1622.5 1185,1622 1185.2,1621.9 1185.5,1621.8 1185.8,1621.3 1186,1621.5 1186.2,1620.9 1186.5,1619.3 1186.8,1618.6 1187,1617 1187.2,1613.9 1187.5,1610.7 1187.8,1606.4 1188,1600.6 1188.2,1595.6 1188.5,1590.1 1188.8,1587.9 1188.9,1586.9 1189,1586.9 1189.2,1589.4 1189.5,1594.1 1189.8,1600.5 1190,1605.1 1190.2,1609.9 1190.5,1613.6 1190.8,1616.1 1191,1618.8 1191.2,1619.1 1191.5,1621.1 1191.8,1621.1 1192,1621.8 1192.2,1622.2 1192.5,1622.6 1192.8,1622.1 1193,1622.8 1193.2,1622.7 1193.5,1622.8 1193.8,1622.9 1194,1623.4 1194.2,1623.2 1194.5,1623.5 1194.8,1623.5 1195,1622.7 1195.2,1623.3 1195.5,1623.7 1195.8,1623.1 1196,1622.9 1196.2,1622.8 1196.5,1624.1 1196.8,1623.2 1197,1623.6 1197.2,1623.2 1197.5,1623.7 1197.8,1624.1 1198,1623.2 1198.2,1623.6 1198.5,1623.4 1198.8,1623.1 1199,1623.4 1199.2,1623.7 1199.5,1624.1 1199.8,1624.1 1200,1623.8 1200.2,1623.3 1200.5,1624 1200.8,1623.8 1201,1623.8 1201.2,1623.4 1201.5,1623.8 1201.8,1624.4 1202,1624.3 1202.2,1624.2 1202.5,1624 1202.8,1623.7 1203,1623.8 1203.2,1623.9 1203.5,1624 1203.8,1623.8 1204,1623.6 1204.2,1624.2 1204.5,1623.8 1204.8,1624.1 1205,1623.8 1205.2,1624.1 1205.5,1624.1 1205.8,1624.1 1206,1624.1 1206.2,1623.6 1206.5,1623.5 1206.8,1623.9 1207,1624.4 1207.2,1623.7 1207.5,1623.6 1207.8,1624.6 1208,1623.5 1208.2,1623.8 1208.5,1623.8 1208.8,1623.7 1209,1623.8 1209.2,1624.3 1209.5,1624 1209.8,1624 1210,1623.5 1210.2,1624.2 1210.5,1624 1210.8,1624 1211,1624.2 1211.2,1624.1 1211.5,1624 1211.8,1624.1 1212,1623.8 1212.2,1623.7 1212.5,1623.6 1212.8,1624.3 1213,1623.8 1213.2,1624.1 1213.5,1624.3 1213.8,1624.6 1214,1623.9 1214.2,1624.1 1214.5,1624 1214.8,1623.6 1215,1623.9 1215.2,1624.9 1215.5,1624 1215.8,1624.6 1216,1624.3 1216.2,1624.6 1216.5,1624.4 1216.8,1624.1 1217,1623.7 1217.2,1624.5 1217.5,1624.3 1217.8,1624.2 1218,1624.3 1218.2,1623.8 1218.5,1624.1 1218.8,1624.1 1219,1623.6 1219.2,1623.7 1219.5,1624 1219.8,1623.4 1220,1624.3 1220.2,1624.3 1220.5,1624.1 1220.8,1624.2 1221,1623.5 1221.2,1624.1 1221.5,1624.3 1221.8,1624.2 1222,1624.4 1222.2,1624.1 1222.5,1624.7 1222.8,1624.2 1223,1624.3 1223.2,1624.4 1223.5,1623.9 1223.8,1623.8 1224,1624.3 1224.2,1623.7 1224.5,1623.9 1224.8,1624.4 1225,1623.8 1225.2,1623.8 1225.5,1623.7 1225.8,1623.8 1226,1624.7 1226.2,1624.3 1226.5,1624.4 1226.8,1623.5 1227,1623.4 1227.2,1623.8 1227.5,1624.4 1227.8,1624.5 1228,1623.5 1228.2,1623.6 1228.5,1624.3 1228.8,1624.2 1229,1624.3 1229.2,1624.3 1229.5,1623.8 1229.8,1624.2 1230,1624 1230.2,1624.5 1230.5,1624 1230.8,1623.6 1231,1624.5 1231.2,1624.7 1231.5,1624.4 1231.8,1624 1232,1623.8 1232.2,1624.4 1232.5,1624 1232.8,1624.3 1233,1624.4 1233.2,1624.1 1233.5,1623.5 1233.8,1624.3 1234,1623.8 1234.2,1623.6 1234.5,1624.1 1234.8,1624.2 1235,1624.1 1235.2,1624.3 1235.5,1623.5 1235.8,1624.3 1236,1624.6 1236.2,1624.1 1236.5,1623.9 1236.8,1624 1237,1624.5 1237.2,1624 1237.5,1623.8 1237.8,1623.6 1238,1624.5 1238.2,1624.5 1238.5,1624.1 1238.8,1624.7 1239,1623.9 1239.2,1624.3 1239.5,1623.6 1239.8,1623.7 1240,1624 1240.2,1624.1 1240.5,1624.2 1240.8,1623.7 1241,1623.8 1241.2,1623.9 1241.5,1623.8 1241.8,1623.8 1242,1624.1 1242.2,1624.1 1242.5,1623.2 1242.8,1624.1 1243,1623.7 1243.2,1623.7 1243.5,1623.6 1243.8,1623.7 1244,1623.6 1244.2,1622.8 1244.5,1623.4 1244.8,1622.6 1245,1622.9 1245.2,1622.6 1245.5,1621.8 1245.8,1621.9 1246,1621.3 1246.2,1620.5 1246.5,1620.1 1246.8,1617.6 1247,1614.3 1247.2,1610 1247.5,1602.3 1247.8,1593 1248,1581.8 1248.2,1572.6 1248.5,1566.7 1248.6,1566.4 1248.8,1566.8 1249,1574.6 1249.2,1585 1249.5,1595.3 1249.8,1604 1250,1610.1 1250.2,1615.3 1250.5,1617.9 1250.8,1619.3 1251,1621.1 1251.2,1621.5 1251.5,1622 1251.8,1623 1252,1622.5 1252.2,1622.2 1252.5,1622.4 1252.8,1623.4 1253,1623.3 1253.2,1623.2 1253.5,1622.9 1253.8,1623.4 1254,1623.4 1254.2,1623.7 1254.5,1623.5 1254.8,1623.6 1255,1623.9 1255.2,1623.7 1255.5,1624.1 1255.8,1623 1256,1623.7 1256.2,1624.4 1256.5,1624.1 1256.8,1623.8 1257,1624.1 1257.2,1624 1257.5,1624 1257.8,1624.6 1258,1624.1 1258.2,1624.3 1258.5,1624 1258.8,1624 1259,1623.8 1259.2,1624.1 1259.5,1624.1 1259.8,1624.2 1260,1624.3 1260.2,1624.3 1260.5,1624.5 1260.8,1624.2 1261,1624.7 1261.2,1624.5 1261.5,1624.7 1261.8,1624.3 1262,1624.7 1262.2,1624.4 1262.5,1623.8 1262.8,1624.3 1263,1624.3 1263.2,1623.9 1263.5,1624.1 1263.8,1624.2 1264,1625.1 1264.2,1624.5 1264.5,1624.9 1264.8,1624.7 1265,1624.7 1265.2,1624.6 1265.5,1623.9 1265.8,1624.8 1266,1624.1 1266.2,1624.5 1266.5,1624.4 1266.8,1624.9 1267,1624.8 1267.2,1624.9 1267.5,1624.5 1267.8,1624.4 1268,1624.6 1268.2,1625.1 1268.5,1624.6 1268.8,1624.4 1269,1624 1269.2,1624.2 1269.5,1624.4 1269.8,1624.6 1270,1624.6 1270.2,1624.4 1270.5,1624.5 1270.8,1624.9 1271,1625 1271.2,1624.8 1271.5,1624.9 1271.8,1624.8 1272,1625 1272.2,1624 1272.5,1624.3 1272.8,1624.5 1273,1624.5 1273.2,1624.8 1273.5,1623.9 1273.8,1624.5 1274,1624.5 1274.2,1624.2 1274.5,1624.4 1274.8,1624.7 1275,1624.6 1275.2,1624.4 1275.5,1624.5 1275.8,1624.4 1276,1624.7 1276.2,1624.4 1276.5,1624.7 1276.8,1624.3 1277,1624.4 1277.2,1624.1 1277.5,1624.4 1277.8,1624.7 1278,1624.1 1278.2,1624.3 1278.5,1624.5 1278.8,1624.3 1279,1624.7 1279.2,1624.1 1279.5,1624.7 1279.8,1624.8 1280,1624.9 1280.2,1624.4 1280.5,1624.2 1280.8,1624 1281,1624.6 1281.2,1624.7 1281.5,1624.5 1281.8,1624.5 1282,1624.6 1282.2,1624.3 1282.5,1624 1282.8,1624 1283,1624.2 1283.2,1624.2 1283.5,1624 1283.8,1624.3 1284,1624.1 1284.2,1624.6 1284.5,1624.4 1284.8,1624.7 1285,1624 1285.2,1624.1 1285.5,1623.9 1285.8,1624.5 1286,1625.4 1286.2,1624.5 1286.5,1624.3 1286.8,1624.5 1287,1624.4 1287.2,1624.7 1287.5,1624.4 1287.8,1624.2 1288,1623.9 1288.2,1624.5 1288.5,1624.7 1288.8,1624.5 1289,1624.2 1289.2,1624.3 1289.5,1624.3 1289.8,1624.6 1290,1624.4 1290.2,1624.8 1290.5,1624.4 1290.8,1624.2 1291,1625 1291.2,1624.1 1291.5,1624.2 1291.8,1625 1292,1624.5 1292.2,1624.9 1292.5,1623.7 1292.8,1624.8 1293,1624.4 1293.2,1624.4 1293.5,1624.6 1293.8,1623.6 1294,1624.1 1294.2,1624.5 1294.5,1625.4 1294.8,1624.2 1295,1625.1 1295.2,1624.6 1295.5,1624.7 1295.8,1624.1 1296,1624.6 1296.2,1624.1 1296.5,1624 1296.8,1624.8 1297,1624.2 1297.2,1624.2 1297.5,1624.6 1297.8,1624.1 1298,1624 1298.2,1624.4 1298.5,1624.4 1298.8,1624.8 1299,1624 1299.2,1624.6 1299.5,1624.6 1299.8,1624.2 1300,1624.3 1300.2,1624.3 1300.5,1624 1300.8,1623.9 1301,1624.5 1301.2,1624 1301.5,1624 1301.8,1624.5 1302,1624.1 1302.2,1624.1 1302.5,1623.8 1302.8,1623.9 1303,1623.8 1303.2,1623.8 1303.5,1624.6 1303.8,1623.9 1304,1623.5 1304.2,1623.8 1304.5,1624.4 1304.8,1623.8 1305,1624.1 1305.2,1623.8 1305.5,1623.5 1305.8,1623.9 1306,1623.7 1306.2,1624 1306.5,1624.2 1306.8,1623.9 1307,1624.7 1307.2,1623.5 1307.5,1624.2 1307.8,1623.9 1308,1624.1 1308.2,1623.8 1308.5,1622.9 1308.8,1623.4 1309,1623.7 1309.2,1623.3 1309.5,1622.8 1309.8,1622.9 1310,1623 1310.2,1623.1 1310.5,1622.3 1310.8,1622.3 1311,1621.6 1311.2,1621.2 1311.5,1620.9 1311.8,1620.8 1312,1619.6 1312.2,1617.7 1312.5,1615.2 1312.8,1611.2 1313,1604.3 1313.2,1594.5 1313.5,1581.5 1313.8,1566.5 1314,1551 1314.2,1541 1314.4,1538.2 1314.5,1539.4 1314.8,1548.4 1315,1563.3 1315.2,1578.4 1315.5,1592.1 1315.8,1602.8 1316,1609.9 1316.2,1614.3 1316.5,1617.3 1316.8,1618.8 1317,1620.4 1317.2,1621 1317.5,1621.7 1317.8,1622.5 1318,1622.6 1318.2,1622.6 1318.5,1622.6 1318.8,1623.6 1319,1623.1 1319.2,1623.1 1319.5,1623.7 1319.8,1623.5 1320,1623.4 1320.2,1623.7 1320.5,1624.2 1320.8,1623.8 1321,1623.9 1321.2,1623.6 1321.5,1623.7 1321.8,1624.2 1322,1623.9 1322.2,1624 1322.5,1624.4 1322.8,1624 1323,1624.5 1323.2,1623.9 1323.5,1623.9 1323.8,1623.9 1324,1623.7 1324.2,1624.3 1324.5,1624.2 1324.8,1624.6 1325,1624 1325.2,1624.5 1325.5,1624.6 1325.8,1624.2 1326,1624.2 1326.2,1623.5 1326.5,1624.9 1326.8,1624.2 1327,1624.5 1327.2,1624.1 1327.5,1624.4 1327.8,1624 1328,1624.5 1328.2,1624.4 1328.5,1624.2 1328.8,1624.5 1329,1623.8 1329.2,1624.4 1329.5,1624.2 1329.8,1624.8 1330,1624.6 1330.2,1624.3 1330.5,1624.3 1330.8,1625.3 1331,1624.1 1331.2,1624.9 1331.5,1624.6 1331.8,1624.6 1332,1623.8 1332.2,1624.6 1332.5,1624.2 1332.8,1624.1 1333,1624.6 1333.2,1624.2 1333.5,1624.6 1333.8,1624.1 1334,1624.6 1334.2,1624.5 1334.5,1624.1 1334.8,1624.1 1335,1624.2 1335.2,1624.2 1335.5,1624.2 1335.8,1625 1336,1624.5 1336.2,1624.3 1336.5,1624.3 1336.8,1624.2 1337,1624.5 1337.2,1624.4 1337.5,1624.2 1337.8,1624.2 1338,1624.3 1338.2,1624.1 1338.5,1624.4 1338.8,1624.1 1339,1624.6 1339.2,1624.3 1339.5,1624.6 1339.8,1624.2 1340,1623.8 1340.2,1624 1340.5,1624.3 1340.8,1624.5 1341,1624.5 1341.2,1624.6 1341.5,1624.6 1341.8,1624.5 1342,1624.6 1342.2,1624.4 1342.5,1624.6 1342.8,1624.4 1343,1624.4 1343.2,1624.5 1343.5,1625.1 1343.8,1624 1344,1624.3 1344.2,1624.3 1344.5,1624.6 1344.8,1624.4 1345,1624.9 1345.2,1624 1345.5,1625 1345.8,1624.1 1346,1624.2 1346.2,1624.6 1346.5,1624.5 1346.8,1624.4 1347,1624.5 1347.2,1624.5 1347.5,1624.7 1347.8,1624.6 1348,1624.1 1348.2,1624.2 1348.5,1624.8 1348.8,1625 1349,1624.7 1349.2,1624.8 1349.5,1624.5 1349.8,1625.1 1350,1624.3 1350.2,1624.3 1350.5,1624.2 1350.8,1624.9 1351,1624.3 1351.2,1624.6 1351.5,1624 1351.8,1624 1352,1624.7 1352.2,1624.6 1352.5,1624.7 1352.8,1624.5 1353,1624.3 1353.2,1624.3 1353.5,1624.1 1353.8,1624.3 1354,1624.8 1354.2,1624.4 1354.5,1624 1354.8,1624.4 1355,1624.1 1355.2,1624.1 1355.5,1624.4 1355.8,1624.2 1356,1624 1356.2,1624.9 1356.5,1624.9 1356.8,1624.5 1357,1624.9 1357.2,1624.3 1357.5,1624.4 1357.8,1624.8 1358,1624.5 1358.2,1624.7 1358.5,1623.6 1358.8,1624.5 1359,1624.3 1359.2,1624.4 1359.5,1624 1359.8,1624.2 1360,1624.6 1360.2,1624.6 1360.5,1624.6 1360.8,1624.7 1361,1624.7 1361.2,1624.5 1361.5,1624.3 1361.8,1624.2 1362,1624.3 1362.2,1624.1 1362.5,1624.1 1362.8,1624.4 1363,1623.7 1363.2,1624 1363.5,1624.1 1363.8,1624.5 1364,1624.7 1364.2,1624.5 1364.5,1624.3 1364.8,1624.2 1365,1624.7 1365.2,1624.6 1365.5,1624.1 1365.8,1624.3 1366,1624.5 1366.2,1624.6 1366.5,1624.2 1366.8,1624.8 1367,1624.7 1367.2,1624.2 1367.5,1624.2 1367.8,1624 1368,1624 1368.2,1624.4 1368.5,1624.7 1368.8,1624.7 1369,1624.3 1369.2,1624.1 1369.5,1624 1369.8,1624.3 1370,1624.1 1370.2,1624.4 1370.5,1624.1 1370.8,1624.2 1371,1623.9 1371.2,1624.6 1371.5,1624.3 1371.8,1623.9 1372,1623.5 1372.2,1623.7 1372.5,1623.5 1372.8,1622.5 1373,1622.3 1373.2,1622.1 1373.5,1620.7 1373.8,1619.5 1374,1618.8 1374.2,1618.5 1374.5,1617.5 1374.8,1617.8 1375,1618.5 1375.2,1619.6 1375.5,1620.9 1375.8,1621.5 1376,1621.5 1376.2,1622.8 1376.5,1623.2 1376.8,1623.5 1377,1623.6 1377.2,1623.6 1377.5,1623.8 1377.8,1623.5 1378,1623.2 1378.2,1623.6 1378.5,1623.3 1378.8,1624.2 1379,1623.6 1379.2,1624 1379.5,1623.1 1379.8,1623.1 1380,1623.5 1380.2,1622.8 1380.5,1623 1380.8,1622.5 1381,1623 1381.2,1622.2 1381.5,1622.4 1381.8,1621.6 1382,1621.9 1382.2,1621.6 1382.5,1620.6 1382.8,1619.1 1383,1617.6 1383.2,1614.6 1383.5,1609.5 1383.8,1602.3 1384,1592.7 1384.2,1580.7 1384.5,1569.2 1384.8,1561.3 1384.9,1560 1385,1560.6 1385.2,1567.2 1385.5,1578.4 1385.8,1590.5 1386,1599.9 1386.2,1607.8 1386.5,1613.3 1386.8,1616.5 1387,1619.3 1387.2,1620.2 1387.5,1621.2 1387.8,1621.1 1388,1622.2 1388.2,1622.2 1388.5,1622.1 1388.8,1623 1389,1623.1 1389.2,1623.1 1389.5,1623.2 1389.8,1622.9 1390,1623.6 1390.2,1623.2 1390.5,1623.5 1390.8,1623.6 1391,1623.6 1391.2,1623.2 1391.5,1623.5 1391.8,1623.5 1392,1623.8 1392.2,1623.2 1392.5,1623.7 1392.8,1623.5 1393,1623.3 1393.2,1623.8 1393.5,1623.4 1393.8,1622.9 1394,1623 1394.2,1622.5 1394.5,1622.1 1394.8,1621.9 1395,1621.4 1395.2,1621.3 1395.5,1620.1 1395.8,1618 1396,1617.2 1396.2,1615.2 1396.5,1613.3 1396.8,1611.1 1397,1608.6 1397.2,1606.4 1397.5,1604 1397.8,1603.3 1398,1602.4 1398.2,1603.3 1398.5,1604.3 1398.8,1606.5 1399,1608.4 1399.2,1611.4 1399.5,1613.5 1399.8,1615.4 1400,1617.4 1400.2,1618.9 1400.5,1619.5 1400.8,1620.7 1401,1621.4 1401.2,1622.4 1401.5,1622.6 1401.8,1622.7 1402,1622.9 1402.2,1623.2 1402.5,1622.7 1402.8,1623.4 1403,1624.1 1403.2,1623.2 1403.5,1623.4 1403.8,1623.4 1404,1624 1404.2,1623.7 1404.5,1624.5 1404.8,1623.9 1405,1623.8 1405.2,1623.7 1405.5,1624.3 1405.8,1624.4 1406,1624.1 1406.2,1624.5 1406.5,1624.5 1406.8,1624.3 1407,1624.2 1407.2,1624 1407.5,1624.3 1407.8,1624.1 1408,1624.7 1408.2,1624.5 1408.5,1624.2 1408.8,1624.1 1409,1624.4 1409.2,1624.6 1409.5,1624.4 1409.8,1624.6 1410,1624.2 1410.2,1624.4 1410.5,1624.5 1410.8,1624.4 1411,1624.5 1411.2,1624.7 1411.5,1624.4 1411.8,1624.7 1412,1624.2 1412.2,1624.5 1412.5,1624.3 1412.8,1624.3 1413,1624.6 1413.2,1624.8 1413.5,1624.4 1413.8,1624.4 1414,1624.8 1414.2,1624.2 1414.5,1624.7 1414.8,1624.1 1415,1623.9 1415.2,1624.5 1415.5,1624.3 1415.8,1624.3 1416,1623.7 1416.2,1624.5 1416.5,1624.3 1416.8,1624.1 1417,1624.4 1417.2,1624.1 1417.5,1624.2 1417.8,1624.2 1418,1624.7 1418.2,1624.4 1418.5,1624.8 1418.8,1624.2 1419,1624.1 1419.2,1625 1419.5,1624 1419.8,1624.8 1420,1624.1 1420.2,1624.7 1420.5,1624.2 1420.8,1624.9 1421,1625.1 1421.2,1624.8 1421.5,1624.6 1421.8,1624.4 1422,1624.7 1422.2,1625.1 1422.5,1624.3 1422.8,1624.1 1423,1625 1423.2,1624.4 1423.5,1624.7 1423.8,1624.5 1424,1624.6 1424.2,1624.4 1424.5,1624.5 1424.8,1624 1425,1624.3 1425.2,1624.2 1425.5,1624.9 1425.8,1624.4 1426,1624.5 1426.2,1624 1426.5,1624.5 1426.8,1625 1427,1624.6 1427.2,1624.8 1427.5,1624.4 1427.8,1624.3 1428,1624.8 1428.2,1624.4 1428.5,1624.2 1428.8,1624.5 1429,1624.4 1429.2,1624.8 1429.5,1624.7 1429.8,1624.1 1430,1624.7 1430.2,1624.1 1430.5,1624.6 1430.8,1624.7 1431,1624.4 1431.2,1624.4 1431.5,1624.7 1431.8,1624.4 1432,1624.2 1432.2,1625 1432.5,1624.8 1432.8,1624.7 1433,1624.6 1433.2,1624.8 1433.5,1624.6 1433.8,1624.8 1434,1624.6 1434.2,1624.3 1434.5,1624.8 1434.8,1624.6 1435,1624.3 1435.2,1624.4 1435.5,1623.8 1435.8,1624 1436,1624.1 1436.2,1624.7 1436.5,1624.7 1436.8,1624.9 1437,1624.7 1437.2,1625 1437.5,1624.4 1437.8,1624.3 1438,1624.2 1438.2,1624.6 1438.5,1624.3 1438.8,1624.2 1439,1624.4 1439.2,1624.6 1439.5,1624.1 1439.8,1624.5 1440,1624.5 1440.2,1625 1440.5,1624.5 1440.8,1624.1 1441,1624.6 1441.2,1624.6 1441.5,1624.1 1441.8,1623.6 1442,1624.7 1442.2,1624.4 1442.5,1624.3 1442.8,1624.4 1443,1624.9 1443.2,1625 1443.5,1624.3 1443.8,1624.9 1444,1624.5 1444.2,1624.5 1444.5,1624.4 1444.8,1624.5 1445,1624.4 1445.2,1624.3 1445.5,1624.5 1445.8,1624.2 1446,1624.6 1446.2,1624.3 1446.5,1624.6 1446.8,1624.4 1447,1623.9 1447.2,1624.8 1447.5,1624.5 1447.8,1624.4 1448,1624.3 1448.2,1625 1448.5,1624.3 1448.8,1624.7 1449,1624.5 1449.2,1624 1449.5,1624.6 1449.8,1623.9 1450,1624.5 1450.2,1624.5 1450.5,1624.4 1450.8,1624.1 1451,1624.8 1451.2,1624.9 1451.5,1624 1451.8,1624.2 1452,1624.8 1452.2,1624.1 1452.5,1624.5 1452.8,1623.9 1453,1624 1453.2,1624.2 1453.5,1624.3 1453.8,1623.7 1454,1623.7 1454.2,1624.2 1454.5,1624.3 1454.8,1624.1 1455,1623.9 1455.2,1623.9 1455.5,1623.3 1455.8,1623.6 1456,1623.6 1456.2,1623.3 1456.5,1622.5 1456.8,1622.1 1457,1622 1457.2,1619.9 1457.5,1618.1 1457.8,1616 1458,1611.4 1458.2,1606.9 1458.5,1602.9 1458.8,1599.8 1458.9,1598.9 1459,1598.8 1459.2,1601.7 1459.5,1606.1 1459.8,1610.3 1460,1614.3 1460.2,1618 1460.5,1619.8 1460.8,1621.2 1461,1622 1461.2,1621.9 1461.5,1622.6 1461.8,1622.9 1462,1622.8 1462.2,1622.2 1462.5,1622 1462.8,1622.2 1463,1622.4 1463.2,1622 1463.5,1621.8 1463.8,1621 1464,1621 1464.2,1619.6 1464.5,1618.6 1464.8,1615.7 1465,1610.6 1465.2,1605.1 1465.5,1596.1 1465.8,1585.1 1466,1573.6 1466.2,1564.2 1466.5,1560.3 1466.8,1564.3 1467,1573.7 1467.2,1584.9 1467.5,1596.2 1467.8,1605 1468,1611.4 1468.2,1616.6 1468.5,1618.6 1468.8,1619.7 1469,1621.3 1469.2,1621.5 1469.5,1621.6 1469.8,1622.7 1470,1622.5 1470.2,1622.9 1470.5,1623.7 1470.8,1622.9 1471,1623.6 1471.2,1623.3 1471.5,1623.2 1471.8,1623.5 1472,1623.7 1472.2,1623.8 1472.5,1623.3 1472.8,1624.1 1473,1623.6 1473.2,1624 1473.5,1624 1473.8,1623.8 1474,1624.2 1474.2,1623.8 1474.5,1623.7 1474.8,1623.6 1475,1623.5 1475.2,1623.8 1475.5,1623.4 1475.8,1623.9 1476,1623.9 1476.2,1624.5 1476.5,1623.7 1476.8,1624.3 1477,1624.1 1477.2,1624.1 1477.5,1623.7 1477.8,1623.7 1478,1623.8 1478.2,1623.8 1478.5,1624 1478.8,1623.6 1479,1624.2 1479.2,1624.1 1479.5,1622.8 1479.8,1623.5 1480,1623.3 1480.2,1622.9 1480.5,1622.3 1480.8,1622.4 1481,1622.6 1481.2,1622.6 1481.5,1622.2 1481.8,1621.7 1482,1620.8 1482.2,1620.2 1482.5,1618.4 1482.8,1615.9 1483,1611.2 1483.2,1604.5 1483.5,1595.1 1483.8,1584.7 1484,1571.9 1484.2,1561.7 1484.5,1557.4 1484.8,1562.2 1485,1571.7 1485.2,1584.3 1485.5,1595.7 1485.8,1605.1 1486,1611.1 1486.2,1615 1486.5,1618.6 1486.8,1620 1487,1620.7 1487.2,1621.6 1487.5,1622.6 1487.8,1622.4 1488,1622.5 1488.2,1622.8 1488.5,1623.2 1488.8,1623.3 1489,1623.4 1489.2,1623.5 1489.5,1623.2 1489.8,1623.8 1490,1623.9 1490.2,1623.9 1490.5,1623.7 1490.8,1623.7 1491,1623.8 1491.2,1623.7 1491.5,1623.1 1491.8,1623.4 1492,1623.7 1492.2,1622.9 1492.5,1622.3 1492.8,1622 1493,1621 1493.2,1619.8 1493.5,1619 1493.8,1618.4 1494,1617.7 1494.2,1617.1 1494.2,1617 1494.5,1617.8 1494.8,1618.5 1495,1619.6 1495.2,1620.5 1495.5,1621.1 1495.8,1621.9 1496,1622.9 1496.2,1623 1496.5,1623.9 1496.8,1624.1 1497,1624.4 1497.2,1624.1 1497.5,1624.7 1497.8,1624.6 1498,1624.3 1498.2,1624.5 1498.5,1624.1 1498.8,1623.4 1499,1624.6 1499.2,1624.5 1499.5,1624.9 1499.8,1624.5 1500,1624.3 1500.2,1624.2 1500.5,1624.2 1500.8,1624.5 1501,1623.9 1501.2,1624.1 1501.5,1624.7 1501.8,1623.8 1502,1623.9 1502.2,1624.2 1502.5,1624.3 1502.8,1624.4 1503,1624.7 1503.2,1624.5 1503.5,1624.6 1503.8,1624.2 1504,1624.4 1504.2,1624.1 1504.5,1624.3 1504.8,1624.5 1505,1624.5 1505.2,1623.7 1505.5,1623.9 1505.8,1624.9 1506,1623.6 1506.2,1624.2 1506.5,1623.8 1506.8,1624.1 1507,1623.9 1507.2,1624.1 1507.5,1623.7 1507.8,1624.3 1508,1624.5 1508.2,1623 1508.5,1623.4 1508.8,1623.1 1509,1623.4 1509.2,1623.6 1509.5,1623.3 1509.8,1622.8 1510,1621.9 1510.2,1620.9 1510.5,1620.4 1510.8,1618.7 1511,1617.1 1511.2,1615.5 1511.5,1613 1511.8,1611.1 1512,1608.5 1512.2,1606.7 1512.5,1605.3 1512.8,1603.8 1512.9,1603.9 1513,1604.2 1513.2,1604.5 1513.5,1606.3 1513.8,1608.3 1514,1611.2 1514.2,1612.8 1514.5,1615.1 1514.8,1616.6 1515,1618.3 1515.2,1620.1 1515.5,1620.9 1515.8,1622 1516,1622.4 1516.2,1623.6 1516.5,1623.1 1516.8,1623.7 1517,1623.4 1517.2,1623.6 1517.5,1623.4 1517.8,1624.7 1518,1623.4 1518.2,1624.1 1518.5,1624 1518.8,1624.4 1519,1624.1 1519.2,1624.8 1519.5,1624.6 1519.8,1624.5 1520,1624.5 1520.2,1624.7 1520.5,1624.5 1520.8,1624.9 1521,1624.7 1521.2,1624.5 1521.5,1624.6 1521.8,1624.6 1522,1624.9 1522.2,1624.5 1522.5,1624.6 1522.8,1624.2 1523,1624.8 1523.2,1624.7 1523.5,1624.4 1523.8,1625.1 1524,1624.6 1524.2,1624.3 1524.5,1625 1524.8,1624.6 1525,1623.7 1525.2,1624.8 1525.5,1624.7 1525.8,1624.7 1526,1624.6 1526.2,1624.4 1526.5,1624.7 1526.8,1624.2 1527,1624.7 1527.2,1625 1527.5,1625 1527.8,1624.6 1528,1625.3 1528.2,1624.8 1528.5,1624.6 1528.8,1624.8 1529,1624.5 1529.2,1625 1529.5,1624.5 1529.8,1624.5 1530,1624.4 1530.2,1624.5 1530.5,1624.7 1530.8,1625.3 1531,1624.8 1531.2,1625.1 1531.5,1624.8 1531.8,1625 1532,1624.5 1532.2,1624.4 1532.5,1625.3 1532.8,1624.9 1533,1624.3 1533.2,1625 1533.5,1624.7 1533.8,1624.7 1534,1625 1534.2,1624.4 1534.5,1625.2 1534.8,1624.9 1535,1624.6 1535.2,1624.4 1535.5,1625.3 1535.8,1624.7 1536,1624.4 1536.2,1624.7 1536.5,1624.9 1536.8,1625 1537,1625.2 1537.2,1625 1537.5,1624.8 1537.8,1625.5 1538,1625.4 1538.2,1624.5 1538.5,1625.1 1538.8,1624.6 1539,1625.3 1539.2,1624.5 1539.5,1624.9 1539.8,1625.3 1540,1624.9 1540.2,1625.1 1540.5,1624.6 1540.8,1624.4 1541,1624.5 1541.2,1625 1541.5,1624.6 1541.8,1625.3 1542,1624.7 1542.2,1625.2 1542.5,1624.9 1542.8,1624.5 1543,1624.8 1543.2,1625 1543.5,1625 1543.8,1624.8 1544,1625.2 1544.2,1625.1 1544.5,1625.1 1544.8,1624.6 1545,1624.2 1545.2,1625 1545.5,1624.6 1545.8,1624.7 1546,1624.8 1546.2,1624.9 1546.5,1624.3 1546.8,1624.8 1547,1625.3 1547.2,1624.4 1547.5,1624.8 1547.8,1625.3 1548,1625.1 1548.2,1625 1548.5,1624.9 1548.8,1624.4 1549,1624.9 1549.2,1624.6 1549.5,1624.9 1549.8,1624.6 1550,1624.5 1550.2,1624.9 1550.5,1625.2 1550.8,1624.7 1551,1624.9 1551.2,1625.1 1551.5,1625 1551.8,1624.5 1552,1624.7 1552.2,1625 1552.5,1624.9 1552.8,1625.4 1553,1625 1553.2,1624.6 1553.5,1625.1 1553.8,1625.2 1554,1625.1 1554.2,1625 1554.5,1624.4 1554.8,1624.9 1555,1625.1 1555.2,1624.8 1555.5,1624.8 1555.8,1625 1556,1624.7 1556.2,1624.6 1556.5,1624.8 1556.8,1624.9 1557,1625.1 1557.2,1624.8 1557.5,1624.5 1557.8,1625 1558,1624.6 1558.2,1625.1 1558.5,1624.7 1558.8,1625.1 1559,1625 1559.2,1624.8 1559.5,1624.5 1559.8,1624.8 1560,1625.3 1560.2,1624.9 1560.5,1625.2 1560.8,1624.9 1561,1624.9 1561.2,1624.6 1561.5,1625 1561.8,1624.6 1562,1624.6 1562.2,1625.2 1562.5,1624.6 1562.8,1625.6 1563,1624.9 1563.2,1624.7 1563.5,1625.3 1563.8,1624.6 1564,1624.9 1564.2,1624.9 1564.5,1625.2 1564.8,1625.4 1565,1625 1565.2,1624.5 1565.5,1624.5 1565.8,1624.8 1566,1625.1 1566.2,1624.9 1566.5,1625 1566.8,1624.8 1567,1625.3 1567.2,1624.6 1567.5,1625.5 1567.8,1625.3 1568,1625.1 1568.2,1624.9 1568.5,1624.8 1568.8,1624.9 1569,1624.7 1569.2,1624.8 1569.5,1624.7 1569.8,1625.1 1570,1624.9 1570.2,1625 1570.5,1624.7 1570.8,1624.5 1571,1624.6 1571.2,1625 1571.5,1624.6 1571.8,1625.1 1572,1624.6 1572.2,1624.8 1572.5,1625 1572.8,1624.6 1573,1624.3 1573.2,1625.3 1573.5,1624.9 1573.8,1624.7 1574,1625.4 1574.2,1625.6 1574.5,1624.9 1574.8,1625 1575,1625.7 1575.2,1624.7 1575.5,1625.3 1575.8,1625.2 1576,1624.7 1576.2,1624.6 1576.5,1624.7 1576.8,1625 1577,1625 1577.2,1625.7 1577.5,1624.6 1577.8,1625 1578,1624.7 1578.2,1625.2 1578.5,1625.1 1578.8,1624.5 1579,1624.8 1579.2,1624.9 1579.5,1625.1 1579.8,1625.1 1580,1625.1 1580.2,1624.9 1580.5,1625.1 1580.8,1625 1581,1625.2 1581.2,1625.1 1581.5,1624.7 1581.8,1624.9 1582,1624.7 1582.2,1624.9 1582.5,1625.1 1582.8,1625 1583,1624.9 1583.2,1624.8 1583.5,1625.4 1583.8,1624.9 1584,1624.7 1584.2,1624.8 1584.5,1625.2 1584.8,1625.6 1585,1625.3 1585.2,1624.8 1585.5,1625.2 1585.8,1624.4 1586,1625.2 1586.2,1624.9 1586.5,1625 1586.8,1624.6 1587,1625.1 1587.2,1624.6 1587.5,1624.5 1587.8,1625.4 1588,1624.6 1588.2,1625.2 1588.5,1624.8 1588.8,1624.9 1589,1625 1589.2,1625.3 1589.5,1625.1 1589.8,1624.7 1590,1624.8 1590.2,1625.3 1590.5,1625.4 1590.8,1624.8 1591,1625.2 1591.2,1624.9 1591.5,1625.3 1591.8,1624.7 1592,1625.2 1592.2,1624.8 1592.5,1624.6 1592.8,1625.1 1593,1625.1 1593.2,1624.5 1593.5,1624.3 1593.8,1624.9 1594,1625.1 1594.2,1624.8 1594.5,1625 1594.8,1624.8 1595,1624.8 1595.2,1625.1 1595.5,1625.3 1595.8,1625.1 1596,1624.9 1596.2,1624.7 1596.5,1625 1596.8,1624.3 1597,1625 1597.2,1624.9 1597.5,1624.9 1597.8,1624.9 1598,1624.9 1598.2,1624.5 1598.5,1625.1 1598.8,1624.8 1599,1624.9 1599.2,1624.8 1599.5,1624.5 1599.8,1625.1 1600,1624.9 1600.2,1624.9 1600.5,1625 1600.8,1625.4 1601,1624.9 1601.2,1625.1 1601.5,1625.5 1601.8,1624.8 1602,1625.3 1602.2,1624.9 1602.5,1625.2 1602.8,1625 1603,1625.2 1603.2,1624.7 1603.5,1624.8 1603.8,1624.7 1604,1624.8 1604.2,1625.3 1604.5,1625 1604.8,1625.1 1605,1624.9 1605.2,1624.9 1605.5,1625 1605.8,1625 1606,1624.7 1606.2,1624.8 1606.5,1624.6 1606.8,1625.1 1607,1625.2 1607.2,1625.5 1607.5,1624 1607.8,1625.1 1608,1625.1 1608.2,1625.7 1608.5,1624.7 1608.8,1624.6 1609,1624.9 1609.2,1624.4 1609.5,1624.4 1609.8,1625 1610,1624.3 1610.2,1624.5 1610.5,1625.2 1610.8,1625 1611,1624.4 1611.2,1625.2 1611.5,1624.8 1611.8,1624.7 1612,1624.8 1612.2,1624.8 1612.5,1625.1 1612.8,1624.9 1613,1624.5 1613.2,1624.6 1613.5,1625 1613.8,1624.5 1614,1624.4 1614.2,1624 1614.5,1624.9 1614.8,1624.6 1615,1624.5 1615.2,1624.3 1615.5,1624.4 1615.8,1624.5 1616,1624.1 1616.2,1624.5 1616.5,1624.9 1616.8,1624.1 1617,1624.2 1617.2,1624.6 1617.5,1624.1 1617.8,1624.4 1618,1624.1 1618.2,1623.9 1618.5,1623.4 1618.8,1623.1 1619,1623.4 1619.2,1622.9 1619.5,1622.5 1619.8,1621.6 1620,1621.9 1620.2,1622.4 1620.5,1621.6 1620.8,1621.6 1621,1620.8 1621.2,1620 1621.5,1620.1 1621.8,1620.3 1622,1619.6 1622.2,1619.2 1622.5,1619.1 1622.8,1618.7 1623,1618.9 1623.2,1619.1 1623.5,1619.4 1623.8,1619.5 1624,1619.2 1624.2,1619.2 1624.5,1620 1624.8,1620.1 1625,1620.9 1625.2,1620.7 1625.5,1621.5 1625.8,1621.5 1626,1622.3 1626.2,1622.3 1626.5,1621.9 1626.8,1622.1 1627,1623.1 1627.2,1622.9 1627.5,1623.7 1627.8,1623.5 1628,1624.2 1628.2,1623.8 1628.5,1623.7 1628.8,1623.4 1629,1624.3 1629.2,1624.1 1629.5,1624.1 1629.8,1625.1 1630,1624.6 1630.2,1624.1 1630.5,1624.6 1630.8,1623.9 1631,1624.2 1631.2,1624.7 1631.5,1624 1631.8,1624.4 1632,1624.4 1632.2,1624.4 1632.5,1624 1632.8,1623.9 1633,1624.3 1633.2,1624.4 1633.5,1623.8 1633.8,1624.3 1634,1624.2 1634.2,1623.8 1634.5,1623.7 1634.8,1623.2 1635,1622.5 1635.2,1621.2 1635.5,1619.9 1635.8,1618.1 1636,1616.4 1636.2,1613.7 1636.5,1612.4 1636.8,1610.4 1636.9,1611.1 1637,1610.8 1637.2,1612.5 1637.5,1613.5 1637.8,1615.8 1638,1617.2 1638.2,1619.4 1638.5,1621 1638.8,1622.2 1639,1623 1639.2,1623.4 1639.5,1623.7 1639.8,1624.2 1640,1623.6 1640.2,1624.1 1640.5,1624.5 1640.8,1624.3 1641,1624.8 1641.2,1624.2 1641.5,1624.4 1641.8,1624.7 1642,1625.1 1642.2,1624.2 1642.5,1624.1 1642.8,1624.2 1643,1624.2 1643.2,1624.7 1643.5,1624.9 1643.8,1624.6 1644,1624.7 1644.2,1624.8 1644.5,1624.7 1644.8,1624.7 1645,1624.7 1645.2,1624.9 1645.5,1624.3 1645.8,1624.4 1646,1624.6 1646.2,1625.4 1646.5,1624.3 1646.8,1624.7 1647,1624.3 1647.2,1624.4 1647.5,1624.2 1647.8,1624.9 1648,1624.4 1648.2,1624.1 1648.5,1624.5 1648.8,1623.9 1649,1624.1 1649.2,1623.5 1649.5,1623.6 1649.8,1623.6 1650,1623.4 1650.2,1622.7 1650.5,1622.2 1650.8,1621 1651,1619.5 1651.2,1617.8 1651.5,1614.6 1651.8,1609.4 1652,1603.1 1652.2,1595.9 1652.5,1589.6 1652.8,1586.4 1652.8,1586.8 1653,1587.7 1653.2,1593.5 1653.5,1599.7 1653.8,1606.6 1654,1612.5 1654.2,1616.1 1654.5,1619.8 1654.8,1621.1 1655,1622.2 1655.2,1622.6 1655.5,1623.3 1655.8,1623.3 1656,1624.1 1656.2,1624.2 1656.5,1623.8 1656.8,1623.8 1657,1623.7 1657.2,1623.8 1657.5,1624.7 1657.8,1624.6 1658,1624.9 1658.2,1624.6 1658.5,1624.8 1658.8,1624.8 1659,1624.4 1659.2,1624.7 1659.5,1624.9 1659.8,1624.7 1660,1624.4 1660.2,1624.4 1660.5,1625.6 1660.8,1624.4 1661,1624.5 1661.2,1624.7 1661.5,1624.7 1661.8,1625 1662,1624.5 1662.2,1624.8 1662.5,1624.6 1662.8,1624.5 1663,1624.3 1663.2,1624 1663.5,1623.8 1663.8,1623.3 1664,1623 1664.2,1622.7 1664.5,1622.1 1664.8,1621.2 1665,1620.9 1665.2,1620.9 1665.2,1621.4 1665.5,1621.3 1665.8,1621.9 1666,1622.7 1666.2,1623 1666.5,1623.3 1666.8,1624.3 1667,1624.1 1667.2,1624.7 1667.5,1624.6 1667.8,1624.8 1668,1625.1 1668.2,1624.6 1668.5,1624.4 1668.8,1624.9 1669,1624.8 1669.2,1624.8 1669.5,1624.9 1669.8,1624.4 1670,1624.9 1670.2,1624.8 1670.5,1625 1670.8,1624.9 1671,1624.8 1671.2,1625.1 1671.5,1625.2 1671.8,1624.9 1672,1624.7 1672.2,1624.7 1672.5,1625.3 1672.8,1624.4 1673,1624.9 1673.2,1625 1673.5,1625.1 1673.8,1624.3 1674,1625 1674.2,1624.3 1674.5,1624.8 1674.8,1624.6 1675,1624.3 1675.2,1625.4 1675.5,1624.8 1675.8,1624.4 1676,1624.6 1676.2,1624.8 1676.5,1625.1 1676.8,1624.9 1677,1624.5 1677.2,1625.4 1677.5,1625 1677.8,1625.4 1678,1625.3 1678.2,1625 1678.5,1625.3 1678.8,1624.9 1679,1625.2 1679.2,1624.4 1679.5,1624.4 1679.8,1624.6 1680,1625.1 1680.2,1625 1680.5,1624.7 1680.8,1624.8 1681,1624.8 1681.2,1625 1681.5,1625.3 1681.8,1625.2 1682,1624.9 1682.2,1624.9 1682.5,1625.1 1682.8,1624.6 1683,1624.9 1683.2,1625.1 1683.5,1625.1 1683.8,1624.8 1684,1624.7 1684.2,1624.7 1684.5,1625.4 1684.8,1625 1685,1624.6 1685.2,1624.4 1685.5,1625 1685.8,1625.4 1686,1624.9 1686.2,1624.7 1686.5,1625.2 1686.8,1624.9 1687,1624.9 1687.2,1625 1687.5,1624.9 1687.8,1625.2 1688,1625.2 1688.2,1624.9 1688.5,1624.8 1688.8,1625 1689,1624.2 1689.2,1624.8 1689.5,1624.8 1689.8,1625.2 1690,1624.6 1690.2,1625.3 1690.5,1624.9 1690.8,1625.1 1691,1625.3 1691.2,1625 1691.5,1624.8 1691.8,1625 1692,1625 1692.2,1625.5 1692.5,1624.9 1692.8,1625.2 1693,1625.4 1693.2,1625.3 1693.5,1624.9 1693.8,1624.6 1694,1625.3 1694.2,1625.5 1694.5,1625.2 1694.8,1625.3 1695,1625 1695.2,1625.2 1695.5,1625.4 1695.8,1625 1696,1625.3 1696.2,1625 1696.5,1624.7 1696.8,1625.1 1697,1624.9 1697.2,1625.1 1697.5,1625.1 1697.8,1624.9 1698,1625.1 1698.2,1624.8 1698.5,1625.2 1698.8,1624.7 1699,1624.6 1699.2,1625.3 1699.5,1624.4 1699.8,1624.9 1700,1624.9 1700.2,1625.2 1700.5,1624.9 1700.8,1624.9 1701,1624.4 1701.2,1625.2 1701.5,1624.6 1701.8,1624.9 1702,1624.7 1702.2,1625.2 1702.5,1624.6 1702.8,1624.5 1703,1625.3 1703.2,1624.7 1703.5,1625 1703.8,1625 1704,1624.4 1704.2,1625.2 1704.5,1624.6 1704.8,1624.9 1705,1625 1705.2,1624.8 1705.5,1624.6 1705.8,1625.1 1706,1624.5 1706.2,1624.4 1706.5,1625.1 1706.8,1625.1 1707,1624.2 1707.2,1624.7 1707.5,1624.7 1707.8,1623.9 1708,1624.5 1708.2,1625 1708.5,1624.3 1708.8,1625 1709,1625.1 1709.2,1624.4 1709.5,1624.2 1709.8,1624.4 1710,1623.9 1710.2,1624.6 1710.5,1624.2 1710.8,1623.5 1711,1623.5 1711.2,1623.3 1711.5,1623.3 1711.8,1622.4 1712,1620.6 1712.2,1618.9 1712.5,1615.8 1712.8,1612.2 1713,1607.6 1713.2,1604.3 1713.5,1601.3 1713.6,1600.8 1713.8,1601.1 1714,1603.9 1714.2,1608.8 1714.5,1613.1 1714.8,1616.9 1715,1618.8 1715.2,1621.2 1715.5,1621.7 1715.8,1623 1716,1623.4 1716.2,1623.5 1716.5,1623.4 1716.8,1623.3 1717,1623.2 1717.2,1622.5 1717.5,1622.9 1717.8,1621.8 1718,1621.4 1718.2,1620.3 1718.5,1619.5 1718.8,1618.4 1719,1617.7 1719.2,1617.6 1719.2,1617.8 1719.5,1617.8 1719.8,1618.5 1720,1619.9 1720.2,1620.9 1720.5,1622.1 1720.8,1622.8 1721,1623.3 1721.2,1624 1721.5,1624 1721.8,1624.3 1722,1624.1 1722.2,1624.7 1722.5,1624.5 1722.8,1624.1 1723,1624.1 1723.2,1624.9 1723.5,1624.4 1723.8,1624.8 1724,1624.9 1724.2,1624 1724.5,1623.9 1724.8,1623.7 1725,1622.6 1725.2,1621.6 1725.5,1621.7 1725.8,1619.6 1726,1618.4 1726.2,1617.5 1726.5,1616 1726.8,1615.7 1726.8,1615.5 1727,1615.3 1727.2,1616.4 1727.5,1618 1727.8,1619.1 1728,1621 1728.2,1621.9 1728.5,1622.2 1728.8,1623.5 1729,1623.6 1729.2,1624 1729.5,1624.5 1729.8,1623.8 1730,1624.2 1730.2,1624.6 1730.5,1624.2 1730.8,1625 1731,1623.7 1731.2,1625 1731.5,1625 1731.8,1624.6 1732,1624.8 1732.2,1624.6 1732.5,1625.4 1732.8,1624.8 1733,1625 1733.2,1624.9 1733.5,1624.4 1733.8,1624.3 1734,1624.9 1734.2,1625.3 1734.5,1625.1 1734.8,1624.8 1735,1625 1735.2,1624.8 1735.5,1625.3 1735.8,1625.1 1736,1625 1736.2,1625.6 1736.5,1624.7 1736.8,1624.6 1737,1624.9 1737.2,1624.8 1737.5,1624.8 1737.8,1625.1 1738,1625.1 1738.2,1624.4 1738.5,1624.7 1738.8,1624.8 1739,1624.4 1739.2,1625.1 1739.5,1625 1739.8,1625.1 1740,1624.7 1740.2,1624.8 1740.5,1625 1740.8,1625 1741,1624.8 1741.2,1625.1 1741.5,1624.7 1741.8,1625.2 1742,1625.1 1742.2,1624.8 1742.5,1624.5 1742.8,1625 1743,1625.3 1743.2,1624.9 1743.5,1625.4 1743.8,1625.2 1744,1625.3 1744.2,1624.5 1744.5,1624.7 1744.8,1625 1745,1625 1745.2,1624.9 1745.5,1624.8 1745.8,1624.3 1746,1625.3 1746.2,1625.2 1746.5,1624.8 1746.8,1624.9 1747,1624.7 1747.2,1625.2 1747.5,1624.8 1747.8,1625.3 1748,1624.8 1748.2,1624.6 1748.5,1624.4 1748.8,1625 1749,1624.7 1749.2,1625.1 1749.5,1625.2 1749.8,1625 1750,1625.3 1750.2,1624.8 1750.5,1624.6 1750.8,1625 1751,1624.8 1751.2,1625.3 1751.5,1624.3 1751.8,1624.5 1752,1625.2 1752.2,1624.6 1752.5,1624.7 1752.8,1624.6 1753,1624.7 1753.2,1625.4 1753.5,1625 1753.8,1624.7 1754,1625.2 1754.2,1624.3 1754.5,1624.6 1754.8,1625.1 1755,1624.1 1755.2,1624.1 1755.5,1624 1755.8,1623.9 1756,1624 1756.2,1623.9 1756.5,1623.3 1756.8,1622.7 1757,1621.5 1757.2,1620.3 1757.5,1619 1757.8,1618 1758,1616.6 1758.2,1615.6 1758.5,1615.6 1758.6,1615.1 1758.8,1615.4 1759,1616.7 1759.2,1617.2 1759.5,1618.4 1759.8,1619.4 1760,1620.4 1760.2,1621.8 1760.5,1622.3 1760.8,1623 1761,1623.3 1761.2,1624 1761.5,1624.2 1761.8,1623.6 1762,1624.1 1762.2,1624.4 1762.5,1625.1 1762.8,1624.3 1763,1624.7 1763.2,1625 1763.5,1625 1763.8,1624.6 1764,1625 1764.2,1624.8 1764.5,1624.8 1764.8,1624.6 1765,1624.3 1765.2,1624.7 1765.5,1624.4 1765.8,1625.1 1766,1625 1766.2,1625.4 1766.5,1624.4 1766.8,1624.4 1767,1624.8 1767.2,1624.9 1767.5,1625.1 1767.8,1624.5 1768,1624.3 1768.2,1624.6 1768.5,1625.9 1768.8,1624.6 1769,1624.7 1769.2,1625.1 1769.5,1625.1 1769.8,1624.8 1770,1624 1770.2,1625.1 1770.5,1624.7 1770.8,1625.3 1771,1624.9 1771.2,1625.1 1771.5,1624.3 1771.8,1624.9 1772,1624.9 1772.2,1624.8 1772.5,1625 1772.8,1625.1 1773,1624.8 1773.2,1625.1 1773.5,1625.4 1773.8,1625.1 1774,1624.9 1774.2,1625 1774.5,1624.9 1774.8,1625 1775,1625.2 1775.2,1624.8 1775.5,1625.1 1775.8,1625.4 1776,1624.9 1776.2,1624.7 1776.5,1624.8 1776.8,1625.1 1777,1625 1777.2,1624.7 1777.5,1624.1 1777.8,1625.1 1778,1625 1778.2,1625 1778.5,1624.7 1778.8,1624.2 1779,1624.8 1779.2,1624.7 1779.5,1625.1 1779.8,1625.3 1780,1625.1 1780.2,1624.8 1780.5,1625.1 1780.8,1624.7 1781,1625.1 1781.2,1624.9 1781.5,1624.7 1781.8,1625 1782,1624.9 1782.2,1625.2 1782.5,1624.8 1782.8,1624.7 1783,1625.2 1783.2,1624.9 1783.5,1624.8 1783.8,1625.3 1784,1623.9 1784.2,1624.2 1784.5,1624.4 1784.8,1624.9 1785,1625 1785.2,1624.5 1785.5,1624.2 1785.8,1623.8 1786,1624.3 1786.2,1624.1 1786.5,1623.6 1786.8,1623.7 1787,1623.3 1787.2,1621.5 1787.5,1620.2 1787.8,1617.3 1788,1614.4 1788.2,1609.7 1788.5,1605.6 1788.8,1602.4 1789,1600.1 1789.2,1602.2 1789.5,1605.9 1789.8,1610.4 1790,1614.2 1790.2,1617.2 1790.5,1620.1 1790.8,1621.9 1791,1622.6 1791.2,1623.1 1791.5,1623.3 1791.8,1624.9 1792,1623.5 1792.2,1624.5 1792.5,1624.2 1792.8,1624.8 1793,1624.9 1793.2,1624.2 1793.5,1624.6 1793.8,1624.5 1794,1624.8 1794.2,1624.7 1794.5,1625 1794.8,1624.9 1795,1624.6 1795.2,1625.1 1795.5,1624.9 1795.8,1625 1796,1624.7 1796.2,1625.1 1796.5,1624.7 1796.8,1625.2 1797,1625 1797.2,1624.2 1797.5,1625.1 1797.8,1625 1798,1624.9 1798.2,1625.1 1798.5,1624.4 1798.8,1625 1799,1624.6 1799.2,1624.9 1799.5,1624.6 1799.8,1624.5 1800,1624.8 1800.2,1624.3 1800.5,1624.9 1800.8,1625 1801,1625.2 1801.2,1624.9 1801.5,1624.6 1801.8,1624.7 1802,1624.7 1802.2,1625.1 1802.5,1624.4 1802.8,1624.5 1803,1624 1803.2,1624.9 1803.5,1624.1 1803.8,1624 1804,1623.7 1804.2,1624.2 1804.5,1623.8 1804.8,1623.5 1805,1622.6 1805.2,1622.1 1805.5,1621.5 1805.8,1619.3 1806,1618.2 1806.2,1616.7 1806.5,1614.1 1806.8,1613.3 1807,1612.8 1807.2,1612.9 1807.5,1614.5 1807.8,1616.5 1808,1618.4 1808.2,1619.6 1808.5,1620.7 1808.8,1622.3 1809,1623.1 1809.2,1623.8 1809.5,1624.3 1809.8,1624.5 1810,1624.6 1810.2,1624.3 1810.5,1624.9 1810.8,1624.9 1811,1624.5 1811.2,1624.5 1811.5,1624.3 1811.8,1624.6 1812,1624.8 1812.2,1624.7 1812.5,1625 1812.8,1624.9 1813,1624.6 1813.2,1625.2 1813.5,1624.4 1813.8,1625.2 1814,1624.9 1814.2,1625 1814.5,1624.7 1814.8,1625 1815,1625.4 1815.2,1624.8 1815.5,1625 1815.8,1625 1816,1624 1816.2,1624.8 1816.5,1625.1 1816.8,1624.8 1817,1624.9 1817.2,1624.6 1817.5,1625.5 1817.8,1625.1 1818,1624.9 1818.2,1624.8 1818.5,1625.3 1818.8,1625 1819,1625.2 1819.2,1625.2 1819.5,1624.6 1819.8,1625.1 1820,1624.3 1820.2,1624.2 1820.5,1624.9 1820.8,1625.5 1821,1625.2 1821.2,1625.2 1821.5,1624.7 1821.8,1624.9 1822,1625.1 1822.2,1624.4 1822.5,1624.8 1822.8,1624.8 1823,1625.3 1823.2,1625.4 1823.5,1624.8 1823.8,1625.4 1824,1625 1824.2,1625 1824.5,1625.4 1824.8,1624.8 1825,1624.8 1825.2,1624.6 1825.5,1624.8 1825.8,1624.3 1826,1625.7 1826.2,1625.2 1826.5,1625.6 1826.8,1624.5 1827,1624.5 1827.2,1625.4 1827.5,1624.9 1827.8,1624.9 1828,1624.9 1828.2,1624.6 1828.5,1624.8 1828.8,1625.6 1829,1624.7 1829.2,1625.4 1829.5,1625.1 1829.8,1625.3 1830,1625.4 1830.2,1624.7 1830.5,1625.3 1830.8,1625.1 1831,1625.8 1831.2,1625.1 1831.5,1625.3 1831.8,1625.1 1832,1625.1 1832.2,1625.1 1832.5,1625 1832.8,1625.3 1833,1625.1 1833.2,1625.2 1833.5,1625.3 1833.8,1624.8 1834,1624.9 1834.2,1625.1 1834.5,1625.2 1834.8,1625.6 1835,1624.4 1835.2,1624.8 1835.5,1624.7 1835.8,1625 1836,1624.9 1836.2,1624.5 1836.5,1624.7 1836.8,1624.7 1837,1624.5 1837.2,1624.7 1837.5,1624.8 1837.8,1625.3 1838,1625 1838.2,1624.9 1838.5,1624.8 1838.8,1624.9 1839,1625.4 1839.2,1625.4 1839.5,1624.8 1839.8,1624.9 1840,1625.1 1840.2,1625.1 1840.5,1624.7 1840.8,1625.2 1841,1625.3 1841.2,1625.3 1841.5,1625.6 1841.8,1625.3 1842,1625 1842.2,1624.6 1842.5,1625 1842.8,1624.8 1843,1625.3 1843.2,1625 1843.5,1624.6 1843.8,1624.9 1844,1625.5 1844.2,1624.8 1844.5,1625.1 1844.8,1625.3 1845,1625.1 1845.2,1624.6 1845.5,1624.6 1845.8,1624.8 1846,1625.2 1846.2,1625.1 1846.5,1624.8 1846.8,1625 1847,1625.1 1847.2,1624.5 1847.5,1624.6 1847.8,1625 1848,1625.3 1848.2,1625 1848.5,1625.1 1848.8,1625.5 1849,1624.8 1849.2,1625 1849.5,1624.9 1849.8,1625.6 1850,1624.9 1850.2,1624.8 1850.5,1625.3 1850.8,1625.9 1851,1625.3 1851.2,1625.4 1851.5,1625.4 1851.8,1625.2 1852,1625 1852.2,1625.6 1852.5,1625.2 1852.8,1624.7 1853,1624.9 1853.2,1625 1853.5,1624.8 1853.8,1625 1854,1624.9 1854.2,1624.9 1854.5,1624.6 1854.8,1625.5 1855,1624.7 1855.2,1624.6 1855.5,1625.2 1855.8,1625 1856,1625 1856.2,1625.6 1856.5,1624.8 1856.8,1624.6 1857,1624.8 1857.2,1624.8 1857.5,1625.1 1857.8,1625.2 1858,1625.4 1858.2,1624.9 1858.5,1625.2 1858.8,1624.7 1859,1624.9 1859.2,1625.1 1859.5,1624.7 1859.8,1625.5 1860,1624.9 1860.2,1624.7 1860.5,1624.7 1860.8,1625.1 1861,1625.5 1861.2,1624.6 1861.5,1625 1861.8,1624.7 1862,1625.2 1862.2,1624.8 1862.5,1624.3 1862.8,1624.6 1863,1624.9 1863.2,1624.9 1863.5,1625.4 1863.8,1625.1 1864,1624.7 1864.2,1625.2 1864.5,1624.9 1864.8,1625.6 1865,1624.9 1865.2,1624.8 1865.5,1625.1 1865.8,1625.5 1866,1624.8 1866.2,1625.4 1866.5,1625 1866.8,1625 1867,1625.3 1867.2,1625.3 1867.5,1625.1 1867.8,1625.5 1868,1624.8 1868.2,1624.2 1868.5,1625.1 1868.8,1625 1869,1624.8 1869.2,1625.2 1869.5,1624.2 1869.8,1624.7 1870,1625.2 1870.2,1624.8 1870.5,1625.1 1870.8,1624.7 1871,1624.1 1871.2,1624 1871.5,1624.3 1871.8,1623.6 1872,1624.2 1872.2,1623.1 1872.5,1622.4 1872.8,1622.4 1873,1622.2 1873.2,1621.6 1873.5,1621.2 1873.8,1620.8 1874,1620.4 1874.2,1621 1874.5,1621.5 1874.8,1621.3 1875,1622.2 1875.2,1622 1875.5,1623 1875.8,1623 1876,1623.9 1876.2,1623.5 1876.5,1623.8 1876.8,1624.3 1877,1624.5 1877.2,1624.5 1877.5,1624.9 1877.8,1624.7 1878,1624.7 1878.2,1625.3 1878.5,1625.1 1878.8,1624.9 1879,1625 1879.2,1624.3 1879.5,1624.5 1879.8,1625.5 1880,1624.4 1880.2,1625.2 1880.5,1625 1880.8,1624.8 1881,1625.7 1881.2,1624.8 1881.5,1625.4 1881.8,1624.7 1882,1625 1882.2,1625 1882.5,1625 1882.8,1625.3 1883,1625 1883.2,1624.6 1883.5,1625 1883.8,1624.4 1884,1625.4 1884.2,1625.2 1884.5,1625.2 1884.8,1624.9 1885,1625.1 1885.2,1624.3 1885.5,1624.8 1885.8,1625 1886,1624.2 1886.2,1625 1886.5,1624.8 1886.8,1625 1887,1624.7 1887.2,1625.3 1887.5,1624.9 1887.8,1625.3 1888,1625.2 1888.2,1624.5 1888.5,1624.2 1888.8,1624.8 1889,1625 1889.2,1625 1889.5,1624.7 1889.8,1625.5 1890,1624.8 1890.2,1625.2 1890.5,1624.2 1890.8,1624.8 1891,1624.6 1891.2,1624.9 1891.5,1625.2 1891.8,1624 1892,1623.7 1892.2,1623.4 1892.5,1622.8 1892.8,1622.1 1893,1621.2 1893.2,1620 1893.5,1619.1 1893.8,1618.3 1894,1618.5 1894.2,1618.2 1894.5,1619.4 1894.8,1620.3 1895,1621.2 1895.2,1622.4 1895.5,1622.3 1895.8,1623.6 1896,1623.7 1896.2,1623.5 1896.5,1624.3 1896.8,1624.6 1897,1624 1897.2,1624.8 1897.5,1624.4 1897.8,1624.5 1898,1625.3 1898.2,1625.2 1898.5,1625.1 1898.8,1625 1899,1624.6 1899.2,1625.5 1899.5,1625.2 1899.8,1625.1 1900,1625.4 1900.2,1625 1900.5,1625 1900.8,1625.2 1901,1625.2 1901.2,1625.5 1901.5,1624.8 1901.8,1625.5 1902,1625 1902.2,1625.3 1902.5,1625.1 1902.8,1624.4 1903,1624.9 1903.2,1624.9 1903.5,1624.9 1903.8,1625.8 1904,1624.9 1904.2,1625.2 1904.5,1625.2 1904.8,1624.9 1905,1624.6 1905.2,1624.7 1905.5,1625.5 1905.8,1624.8 1906,1625.1 1906.2,1625.1 1906.5,1624.7 1906.8,1625.3 1907,1625.2 1907.2,1624.6 1907.5,1624.7 1907.8,1624.9 1908,1625.3 1908.2,1624.8 1908.5,1624.4 1908.8,1625.5 1909,1624.7 1909.2,1624.8 1909.5,1624.8 1909.8,1624.4 1910,1625.4 1910.2,1625.3 1910.5,1625.3 1910.8,1625.1 1911,1626 1911.2,1624.6 1911.5,1625 1911.8,1624.9 1912,1624.3 1912.2,1624.8 1912.5,1624.9 1912.8,1625 1913,1624.9 1913.2,1625 1913.5,1625.1 1913.8,1624.9 1914,1625.4 1914.2,1625 1914.5,1625.4 1914.8,1625.5 1915,1625.1 1915.2,1624.8 1915.5,1625.2 1915.8,1625.4 1916,1624.3 1916.2,1624.9 1916.5,1625.8 1916.8,1625 1917,1624.8 1917.2,1624.8 1917.5,1624.8 1917.8,1624.9 1918,1624.6 1918.2,1625.1 1918.5,1625 1918.8,1624.6 1919,1625.4 1919.2,1625.4 1919.5,1624.9 1919.8,1624.9 1920,1625.1 1920.2,1625 1920.5,1625.2 1920.8,1625.4 1921,1625.5 1921.2,1625.4 1921.5,1625 1921.8,1624.9 1922,1624.6 1922.2,1625.1 1922.5,1625.5 1922.8,1625.2 1923,1624.8 1923.2,1625.1 1923.5,1624.9 1923.8,1625.1 1924,1624.8 1924.2,1625.5 1924.5,1624.4 1924.8,1624.7 1925,1625.2 1925.2,1624.3 1925.5,1624.9 1925.8,1624.6 1926,1625.1 1926.2,1625 1926.5,1625 1926.8,1625 1927,1624.9 1927.2,1625.6 1927.5,1624.9 1927.8,1624.7 1928,1625 1928.2,1624.5 1928.5,1624.7 1928.8,1625.3 1929,1625.1 1929.2,1625 1929.5,1625.4 1929.8,1624.7 1930,1624.4 1930.2,1625.3 1930.5,1624.9 1930.8,1625.8 1931,1624.5 1931.2,1625 1931.5,1624.8 1931.8,1625.1 1932,1625 1932.2,1624.9 1932.5,1625.5 1932.8,1625.3 1933,1625.1 1933.2,1625.2 1933.5,1625.1 1933.8,1624.4 1934,1624.7 1934.2,1625.1 1934.5,1625 1934.8,1625.5 1935,1624.7 1935.2,1624.9 1935.5,1625 1935.8,1625 1936,1625.3 1936.2,1624.7 1936.5,1625.3 1936.8,1625.1 1937,1624.5 1937.2,1624.5 1937.5,1624.9 1937.8,1625.5 1938,1625 1938.2,1625.1 1938.5,1625 1938.8,1624.5 1939,1624.6 1939.2,1624.3 1939.5,1625 1939.8,1624.6 1940,1625.1 1940.2,1624.6 1940.5,1624.1 1940.8,1624.4 1941,1624.7 1941.2,1624.1 1941.5,1624 1941.8,1623.1 1942,1622.9 1942.2,1622.4 1942.5,1621.1 1942.8,1620 1943,1618.5 1943.2,1616.8 1943.5,1615.9 1943.8,1615.3 1943.8,1615.1 1944,1616.1 1944.2,1617 1944.5,1618.3 1944.8,1619.3 1945,1620.2 1945.2,1622.1 1945.5,1622.5 1945.8,1623.6 1946,1623.7 1946.2,1623.9 1946.5,1623.7 1946.8,1624.6 1947,1624.7 1947.2,1624.8 1947.5,1625 1947.8,1624.2 1948,1624.8 1948.2,1625 1948.5,1625.1 1948.8,1624.3 1949,1624.9 1949.2,1625.2 1949.5,1625.1 1949.8,1624.6 1950,1625.2 1950.2,1625 1950.5,1625.3 1950.8,1624.7 1951,1624.9 1951.2,1624.9 1951.5,1625.1 1951.8,1624.5 1952,1624.9 1952.2,1624.5 1952.5,1624.8 1952.8,1624.7 1953,1624.9 1953.2,1625.1 1953.5,1625 1953.8,1625 1954,1625 1954.2,1624.8 1954.5,1624.6 1954.8,1624.8 1955,1624.2 1955.2,1624.7 1955.5,1624.4 1955.8,1624.2 1956,1624.3 1956.2,1624.1 1956.5,1623.4 1956.8,1623.5 1957,1623.3 1957.2,1622.5 1957.5,1622.6 1957.8,1621.5 1958,1621.4 1958.2,1621.7 1958.4,1621.4 1958.5,1621.3 1958.8,1621.8 1959,1622.2 1959.2,1622.3 1959.5,1622.8 1959.8,1623.1 1960,1623.2 1960.2,1623.8 1960.5,1623.9 1960.8,1623.6 1961,1624.2 1961.2,1624.7 1961.5,1624.6 1961.8,1624.7 1962,1624.6 1962.2,1624.3 1962.5,1624.5 1962.8,1624.4 1963,1624.4 1963.2,1625 1963.5,1624.8 1963.8,1624.5 1964,1625.1 1964.2,1625.2 1964.5,1624.5 1964.8,1625.1 1965,1624.6 1965.2,1625.7 1965.5,1625.1 1965.8,1624.4 1966,1625.3 1966.2,1624.7 1966.5,1625.1 1966.8,1625.5 1967,1625.3 1967.2,1624.5 1967.5,1625 1967.8,1624.8 1968,1625.1 1968.2,1624.9 1968.5,1625 1968.8,1625.5 1969,1624.8 1969.2,1625.4 1969.5,1624.7 1969.8,1624.9 1970,1624.6 1970.2,1625.4 1970.5,1625 1970.8,1624.6 1971,1625 1971.2,1624.9 1971.5,1624.9 1971.8,1624.9 1972,1625.2 1972.2,1624.8 1972.5,1625.3 1972.8,1625.2 1973,1625.3 1973.2,1625.4 1973.5,1625.2 1973.8,1624.8 1974,1625.3 1974.2,1624.6 1974.5,1624.8 1974.8,1625.4 1975,1624.5 1975.2,1624.8 1975.5,1624.6 1975.8,1625.1 1976,1624.7 1976.2,1625.1 1976.5,1625 1976.8,1625.6 1977,1625.7 1977.2,1624.8 1977.5,1624.8 1977.8,1625 1978,1624.9 1978.2,1624.9 1978.5,1625 1978.8,1625.3 1979,1625.4 1979.2,1624.6 1979.5,1625.2 1979.8,1625.1 1980,1624.7 1980.2,1625 1980.5,1624.9 1980.8,1625.1 1981,1625.1 1981.2,1624.5 1981.5,1624.9 1981.8,1625.1 1982,1624.8 1982.2,1624.1 1982.5,1625.4 1982.8,1625 1983,1625.2 1983.2,1624.8 1983.5,1624.8 1983.8,1625.3 1984,1625.1 1984.2,1624.9 1984.5,1625.1 1984.8,1624.9 1985,1625.1 1985.2,1625.3 1985.5,1625.1 1985.8,1624.9 1986,1625.2 1986.2,1625.4 1986.5,1625.1 1986.8,1625 1987,1625.1 1987.2,1624.8 1987.5,1625.2 1987.8,1624.9 1988,1624.9 1988.2,1625.2 1988.5,1625.5 1988.8,1625.4 1989,1624.7 1989.2,1625.5 1989.5,1625.3 1989.8,1625.1 1990,1625.3 1990.2,1625.1 1990.5,1625.6 1990.8,1624.8 1991,1625.5 1991.2,1624.9 1991.5,1625 1991.8,1625.3 1992,1624.4 1992.2,1625.3 1992.5,1625.4 1992.8,1624.5 1993,1624.8 1993.2,1625.4 1993.5,1624.7 1993.8,1624.6 1994,1625.6 1994.2,1624.9 1994.5,1625.5 1994.8,1625.3 1995,1625.1 1995.2,1624.8 1995.5,1625.4 1995.8,1625.2 1996,1624.9 1996.2,1624.8 1996.5,1624.9 1996.8,1624.7 1997,1624.9 1997.2,1625.2 1997.5,1624.8 1997.8,1624.9 1998,1624.9 1998.2,1625 1998.5,1624.8 1998.8,1625.1 1999,1625.4 1999.2,1624.6 1999.5,1624.8 1999.8,1625 2000,1625.4 2000.2,1625 2000.5,1624.8 2000.8,1625.3 2001,1624.9 2001.2,1624.7 2001.5,1625.1 2001.8,1625 2002,1624.8 2002.2,1624.5 2002.5,1624.8 2002.8,1625.1 2003,1625 2003.2,1624.5 2003.5,1624.6 2003.8,1625.2 2004,1624.3 2004.2,1625.1 2004.5,1625 2004.8,1625.4 2005,1624.2 2005.2,1624.8 2005.5,1624.2 2005.8,1624.1 2006,1623.4 2006.2,1623.6 2006.5,1622.9 2006.8,1621.8 2007,1621.1 2007.2,1621.2 2007.5,1620.8 2007.8,1621.1 2008,1621.6 2008.2,1622.2 2008.5,1622.8 2008.8,1623.1 2009,1624.1 2009.2,1624.3 2009.5,1624.4 2009.8,1624.7 2010,1624.7 2010.2,1624.7 2010.5,1624.7 2010.8,1625.2 2011,1624.7 2011.2,1625.3 2011.5,1625.1 2011.8,1625.1 2012,1625.1 2012.2,1625.1 2012.5,1624.6 2012.8,1624.5 2013,1624.7 2013.2,1624.8 2013.5,1624.9 2013.8,1624.9 2014,1625.1 2014.2,1624.5 2014.5,1625 2014.8,1624.7 2015,1624.7 2015.2,1624.7 2015.5,1624.9 2015.8,1624.7 2016,1625.2 2016.2,1625.2 2016.5,1624.7 2016.8,1624.7 2017,1624.9 2017.2,1625.3 2017.5,1625.1 2017.8,1624.7 2018,1624.9 2018.2,1624.5 2018.5,1624.7 2018.8,1624.5 2019,1625 2019.2,1624.8 2019.5,1624.8 2019.8,1624.3 2020,1624.6 2020.2,1624.6 2020.5,1625.1 2020.8,1624.2 2021,1624.3 2021.2,1624.2 2021.5,1624.5 2021.8,1624 2022,1624.3 2022.2,1623.9 2022.5,1622.3 2022.8,1622.5 2023,1621.4 2023.2,1620.4 2023.5,1619.3 2023.8,1618.3 2024,1617.9 2024.2,1618.2 2024.5,1618.9 2024.8,1620.2 2025,1621.1 2025.2,1622.2 2025.5,1622.9 2025.8,1623 2026,1623.9 2026.2,1624 2026.5,1624.2 2026.8,1624.5 2027,1624.9 2027.2,1624.6 2027.5,1624.8 2027.8,1625.3 2028,1625 2028.2,1625 2028.5,1624.7 2028.8,1625.1 2029,1624.8 2029.2,1625.4 2029.5,1625.5 2029.8,1624.7 2030,1625 2030.2,1625 2030.5,1625.4 2030.8,1624.6 2031,1625.3 2031.2,1625.3 2031.5,1625 2031.8,1625.2 2032,1625 2032.2,1625.1 2032.5,1625 2032.8,1624.6 2033,1624.9 2033.2,1624.9 2033.5,1625.2 2033.8,1624.9 2034,1625.2 2034.2,1625.4 2034.5,1624.9 2034.8,1625.2 2035,1624.7 2035.2,1625.1 2035.5,1625.4 2035.8,1625.3 2036,1626.1 2036.2,1624.9 2036.5,1625.1 2036.8,1625.1 2037,1624.9 2037.2,1625 2037.5,1624.7 2037.8,1625 2038,1625.9 2038.2,1624.8 2038.5,1625.3 2038.8,1625.5 2039,1625.5 2039.2,1625.3 2039.5,1625.2 2039.8,1625.3 2040,1625.4 2040.2,1624.6 2040.5,1625.5 2040.8,1625.1 2041,1625.4 2041.2,1625.4 2041.5,1625.2 2041.8,1624.7 2042,1624.5 2042.2,1625.3 2042.5,1624.9 2042.8,1624.6 2043,1624.9 2043.2,1625 2043.5,1625.5 2043.8,1624.7 2044,1625.2 2044.2,1625.1 2044.5,1624.9 2044.8,1624.7 2045,1625.5 2045.2,1625 2045.5,1625.1 2045.8,1625 2046,1625.6 2046.2,1625.1 2046.5,1624.9 2046.8,1625.3 2047,1625.1 2047.2,1624.8 2047.5,1624.6 2047.8,1624.9 2048,1624.9 2048.2,1624.6 2048.5,1624.4 2048.8,1625.1 2049,1625.1 2049.2,1625.2 2049.5,1624.7 2049.8,1625 2050,1625.1 2050.2,1624.9 2050.5,1624.8 2050.8,1625 2051,1624.9 2051.2,1624.8 2051.5,1624.9 2051.8,1624.7 2052,1624.7 2052.2,1625 2052.5,1625 2052.8,1625.2 2053,1624.9 2053.2,1624.8 2053.5,1624.7 2053.8,1625.3 2054,1624.9 2054.2,1624.7 2054.5,1625.5 2054.8,1625.3 2055,1624.9 2055.2,1625 2055.5,1624.8 2055.8,1625 2056,1625.4 2056.2,1625 2056.5,1625.3 2056.8,1625.4 2057,1624.5 2057.2,1624.8 2057.5,1625.4 2057.8,1624.9 2058,1624.9 2058.2,1624.8 2058.5,1625.3 2058.8,1625 2059,1625.8 2059.2,1625.1 2059.5,1624.4 2059.8,1624.7 2060,1625.1 2060.2,1625.6 2060.5,1625.3 2060.8,1624.8 2061,1624.9 2061.2,1624.6 2061.5,1625.3 2061.8,1624.6 2062,1625.3 2062.2,1625.3 2062.5,1625.2 2062.8,1625.4 2063,1625.7 2063.2,1624.8 2063.5,1625.6 2063.8,1624.4 2064,1624.9 2064.2,1625 2064.5,1625 2064.8,1625.4 2065,1625 2065.2,1624.8 2065.5,1624.8 2065.8,1624.9 2066,1625.2 2066.2,1624.7 2066.5,1624.8 2066.8,1624.9 2067,1625.2 2067.2,1625.1 2067.5,1624.7 2067.8,1624.7 2068,1624.8 2068.2,1625.1 2068.5,1625.4 2068.8,1625.1 2069,1624.8 2069.2,1625.7 2069.5,1625.3 2069.8,1624.3 2070,1625.2 2070.2,1625.4 2070.5,1625.4 2070.8,1624.9 2071,1624.6 2071.2,1625.1 2071.5,1625.2 2071.8,1625.2 2072,1625.2 2072.2,1624.8 2072.5,1625.1 2072.8,1625 2073,1624.9 2073.2,1625.6 2073.5,1625 2073.8,1625 2074,1625.6 2074.2,1624.9 2074.5,1624.9 2074.8,1625 2075,1624.7 2075.2,1625.2 2075.5,1624.9 2075.8,1625.1 2076,1625.4 2076.2,1624.9 2076.5,1624.9 2076.8,1624.6 2077,1625.3 2077.2,1624.9 2077.5,1625.3 2077.8,1625 2078,1624.9 2078.2,1624.8 2078.5,1625.4 2078.8,1625.2 2079,1625.3 2079.2,1625 2079.5,1624.6 2079.8,1625 2080,1625.2 2080.2,1625.3 2080.5,1625.3 2080.8,1625.4 2081,1625.3 2081.2,1625.5 2081.5,1624.5 2081.8,1625.3 2082,1625.2 2082.2,1625.3 2082.5,1625.1 2082.8,1624.8 2083,1625.1 2083.2,1625.3 2083.5,1625.1 2083.8,1625.4 2084,1625.3 2084.2,1624.4 2084.5,1625.8 2084.8,1624.7 2085,1625.8 2085.2,1625.3 2085.5,1624.9 2085.8,1625.2 2086,1625 2086.2,1625.2 2086.5,1624.6 2086.8,1625 2087,1624.3 2087.2,1625.1 2087.5,1624.9 2087.8,1624.7 2088,1624.7 2088.2,1625 2088.5,1624.9 2088.8,1625 2089,1624.9 2089.2,1624.9 2089.5,1624.9 2089.8,1625.4 2090,1624.9 2090.2,1625 2090.5,1625.3 2090.8,1625.4 2091,1624.6 2091.2,1624.9 2091.5,1624.8 2091.8,1625.1 2092,1625.1 2092.2,1624.5 2092.5,1624.7 2092.8,1624.8 2093,1625.3 2093.2,1624.4 2093.5,1625.2 2093.8,1625 2094,1624.9 2094.2,1625.1 2094.5,1624.8 2094.8,1625.6 2095,1625.1 2095.2,1624.9 2095.5,1625.4 2095.8,1625.1 2096,1624.8 2096.2,1625 2096.5,1625.1 2096.8,1625 2097,1625.1 2097.2,1625.1 2097.5,1625.2 2097.8,1625 2098,1625.6 2098.2,1625.2 2098.5,1625.4 2098.8,1625 2099,1624.8 2099.2,1625 2099.5,1625 2099.8,1624.8 2100,1624.1 2100.2,1624.8 2100.5,1625.3 2100.8,1625.4 2101,1625.4 2101.2,1624.8 2101.5,1624.8 2101.8,1625.4 2102,1625.1 2102.2,1624.5 2102.5,1624.5 2102.8,1624.5 2103,1624.6 2103.2,1624 2103.5,1624.4 2103.8,1624.4 2104,1624.6 2104.2,1624.1 2104.5,1623.4 2104.8,1623.5 2105,1623 2105.2,1622.4 2105.5,1621.2 2105.8,1620.1 2106,1619.2 2106.2,1617.5 2106.5,1618.1 2106.8,1618.5 2107,1618.5 2107.2,1620.1 2107.5,1620.5 2107.8,1622.8 2108,1623 2108.2,1623.4 2108.5,1623.6 2108.8,1624.2 2109,1624.6 2109.2,1624.6 2109.5,1625 2109.8,1624.8 2110,1624.6 2110.2,1625.1 2110.5,1625.8 2110.8,1624.2 2111,1624.9 2111.2,1625.2 2111.5,1624.7 2111.8,1624.6 2112,1624.7 2112.2,1625 2112.5,1624.6 2112.8,1624.4 2113,1624.6 2113.2,1625 2113.5,1624.9 2113.8,1625.3 2114,1625 2114.2,1624.6 2114.5,1624.8 2114.8,1624.7 2115,1625.3 2115.2,1625 2115.5,1625 2115.8,1625.1 2116,1625.2 2116.2,1624.8 2116.5,1624.6 2116.8,1625 2117,1624.9 2117.2,1625.1 2117.5,1624.6 2117.8,1625.5 2118,1625 2118.2,1625.4 2118.5,1625.2 2118.8,1625 2119,1624.8 2119.2,1625 2119.5,1624.8 2119.8,1625.6 2120,1624.8 2120.2,1625.1 2120.5,1624.8 2120.8,1624.9 2121,1625.1 2121.2,1625.7 2121.5,1624.7 2121.8,1625.1 2122,1625.4 2122.2,1625.1 2122.5,1624.9 2122.8,1625.9 2123,1625.2 2123.2,1624.9 2123.5,1624.5 2123.8,1624.8 2124,1624.9 2124.2,1625.3 2124.5,1625.1 2124.8,1624.8 2125,1625.6 2125.2,1625.4 2125.5,1624.9 2125.8,1625.3 2126,1625.1 2126.2,1624.9 2126.5,1624.7 2126.8,1625 2127,1625.1 2127.2,1625.1 2127.5,1625.1 2127.8,1625.4 2128,1625.5 2128.2,1625 2128.5,1625.2 2128.8,1625.4 2129,1625 2129.2,1624.8 2129.5,1624.4 2129.8,1625 2130,1624.4 2130.2,1624.7 2130.5,1625.2 2130.8,1625.3 2131,1624.6 2131.2,1624.4 2131.5,1624.6 2131.8,1625.1 2132,1625.7 2132.2,1625 2132.5,1624.4 2132.8,1624.7 2133,1625.4 2133.2,1625.2 2133.5,1625.2 2133.8,1625 2134,1625 2134.2,1624.4 2134.5,1625.3 2134.8,1625.5 2135,1624.8 2135.2,1624.8 2135.5,1625 2135.8,1624.9 2136,1624.6 2136.2,1624.7 2136.5,1625.1 2136.8,1625.4 2137,1624.8 2137.2,1624.6 2137.5,1625.1 2137.8,1625.3 2138,1624.8 2138.2,1624.7 2138.5,1624.8 2138.8,1624.9 2139,1625.4 2139.2,1624.7 2139.5,1625.1 2139.8,1625.1 2140,1624.8 2140.2,1625.5 2140.5,1625.2 2140.8,1624.8 2141,1624.9 2141.2,1625 2141.5,1625.4 2141.8,1624.8 2142,1625.1 2142.2,1625 2142.5,1624.6 2142.8,1625 2143,1624.5 2143.2,1624.7 2143.5,1624.8 2143.8,1625 2144,1624.7 2144.2,1624.6 2144.5,1624.5 2144.8,1624.5 2145,1624.7 2145.2,1624.1 2145.5,1624.3 2145.8,1624.4 2146,1623.5 2146.2,1624.3 2146.5,1624.1 2146.8,1623.2 2147,1622.9 2147.2,1622 2147.5,1620.7 2147.8,1619.3 2148,1617 2148.2,1615.3 2148.5,1612.6 2148.8,1611.1 2149,1610.5 2149.1,1609.7 2149.2,1610 2149.5,1611.2 2149.8,1613.2 2150,1615.8 2150.2,1618.1 2150.5,1619.5 2150.8,1621.5 2151,1622.2 2151.2,1623.5 2151.5,1623.5 2151.8,1623.3 2152,1624 2152.2,1624 2152.5,1624.3 2152.8,1624.7 2153,1624.3 2153.2,1624.4 2153.5,1624.7 2153.8,1624.3 2154,1624.6 2154.2,1625.1 2154.5,1625.2 2154.8,1624.6 2155,1624.7 2155.2,1625.1 2155.5,1625.2 2155.8,1624.8 2156,1624.6 2156.2,1624.7 2156.5,1625.3 2156.8,1625.1 2157,1624.7 2157.2,1625.4 2157.5,1624.8 2157.8,1624.7 2158,1625.3 2158.2,1625.3 2158.5,1624.8 2158.8,1624.8 2159,1625.2 2159.2,1624.9 2159.5,1625.3 2159.8,1625.2 2160,1624.8 2160.2,1624.1 2160.5,1625 2160.8,1625 2161,1625.6 2161.2,1624.7 2161.5,1624.9 2161.8,1625.4 2162,1624.9 2162.2,1625.2 2162.5,1625 2162.8,1624.9 2163,1625.1 2163.2,1624.8 2163.5,1624.7 2163.8,1625.1 2164,1624.8 2164.2,1625 2164.5,1625.3 2164.8,1625.1 2165,1624.5 2165.2,1624.5 2165.5,1624.3 2165.8,1624.5 2166,1624.3 2166.2,1624.6 2166.5,1624.6 2166.8,1624 2167,1622.8 2167.2,1622.7 2167.5,1622 2167.8,1621.4 2168,1620.2 2168.2,1619.3 2168.5,1618.5 2168.7,1617.8 2168.8,1618.4 2169,1618.9 2169.2,1619.1 2169.5,1621 2169.8,1622.1 2170,1622.1 2170.2,1622.9 2170.5,1623.3 2170.8,1624.1 2171,1624.1 2171.2,1625 2171.5,1624.5 2171.8,1624.7 2172,1625 2172.2,1624.7 2172.5,1625.3 2172.8,1624.9 2173,1625 2173.2,1625.1 2173.5,1624.5 2173.8,1625 2174,1624.8 2174.2,1625 2174.5,1624.6 2174.8,1625.4 2175,1625.2 2175.2,1624.9 2175.5,1625 2175.8,1624.5 2176,1625.1 2176.2,1624.7 2176.5,1625.3 2176.8,1624.8 2177,1625.5 2177.2,1624.9 2177.5,1624.9 2177.8,1625.4 2178,1625 2178.2,1625.6 2178.5,1625.7 2178.8,1624.9 2179,1625.4 2179.2,1625.2 2179.5,1625.1 2179.8,1624.5 2180,1625 2180.2,1624.9 2180.5,1625.4 2180.8,1625.4 2181,1624.7 2181.2,1624.6 2181.5,1625.1 2181.8,1624.9 2182,1625.3 2182.2,1624.9 2182.5,1625.5 2182.8,1625.6 2183,1624.7 2183.2,1624.8 2183.5,1625.1 2183.8,1625 2184,1625.6 2184.2,1625 2184.5,1625 2184.8,1624.6 2185,1625.2 2185.2,1624.8 2185.5,1624.9 2185.8,1624.5 2186,1625 2186.2,1625.1 2186.5,1625.1 2186.8,1624.6 2187,1625.1 2187.2,1625.2 2187.5,1625.3 2187.8,1624.6 2188,1625.1 2188.2,1625.1 2188.5,1625 2188.8,1625.2 2189,1624.8 2189.2,1624.8 2189.5,1625.8 2189.8,1625.4 2190,1625.3 2190.2,1625.2 2190.5,1625 2190.8,1624.9 2191,1624.7 2191.2,1625 2191.5,1624.6 2191.8,1625.1 2192,1624.8 2192.2,1625 2192.5,1624.9 2192.8,1625.6 2193,1625.7 2193.2,1624.7 2193.5,1625.7 2193.8,1625.4 2194,1625.3 2194.2,1625.4 2194.5,1624.3 2194.8,1625.2 2195,1625.6 2195.2,1625 2195.5,1625.5 2195.8,1624.9 2196,1624.8 2196.2,1625.2 2196.5,1625 2196.8,1624.9 2197,1625 2197.2,1625.1 2197.5,1625.3 2197.8,1625.1 2198,1625.1 2198.2,1625.1 2198.5,1624.9 2198.8,1624.8 2199,1625 2199.2,1624.9 2199.5,1624.9 2199.8,1625.3 2200,1625.1 2200.2,1625.1 2200.5,1624.8 2200.8,1625 2201,1625 2201.2,1624.9 2201.5,1625.3 2201.8,1625.6 2202,1625.4 2202.2,1624.8 2202.5,1625 2202.8,1625.3 2203,1625 2203.2,1625.1 2203.5,1624.7 2203.8,1624.7 2204,1625.3 2204.2,1624.9 2204.5,1625.3 2204.8,1625.4 2205,1624.9 2205.2,1624.8 2205.5,1625.6 2205.8,1625.1 2206,1625.2 2206.2,1625.2 2206.5,1625 2206.8,1625.1 2207,1625.3 2207.2,1625 2207.5,1624.6 2207.8,1625 2208,1624.9 2208.2,1625 2208.5,1625.4 2208.8,1624.6 2209,1625.3 2209.2,1624.7 2209.5,1624.9 2209.8,1625.2 2210,1624.8 2210.2,1625.5 2210.5,1625.4 2210.8,1625 2211,1625 2211.2,1625 2211.5,1624.3 2211.8,1624.8 2212,1624.9 2212.2,1625.1 2212.5,1625.3 2212.8,1624.1 2213,1624.8 2213.2,1625.3 2213.5,1625.3 2213.8,1625.5 2214,1624.9 2214.2,1624.7 2214.5,1625.1 2214.8,1625.2 2215,1624.8 2215.2,1624.8 2215.5,1624.7 2215.8,1625.3 2216,1624.7 2216.2,1625.1 2216.5,1625.1 2216.8,1625 2217,1625.2 2217.2,1625.1 2217.5,1624.7 2217.8,1624.8 2218,1625.2 2218.2,1625.6 2218.5,1625.3 2218.8,1625.1 2219,1625.2 2219.2,1624.8 2219.5,1625.5 2219.8,1625.4 2220,1624.4 2220.2,1625.3 2220.5,1624.6 2220.8,1625.1 2221,1625.5 2221.2,1624.8 2221.5,1625.1 2221.8,1625 2222,1624.1 2222.2,1625.7 2222.5,1625.3 2222.8,1624.3 2223,1625.5 2223.2,1624.9 2223.5,1624.9 2223.8,1624.9 2224,1625.4 2224.2,1625.2 2224.5,1624.8 2224.8,1625.1 2225,1624.7 2225.2,1625.4 2225.5,1625.2 2225.8,1625.4 2226,1624.7 2226.2,1625.1 2226.5,1625.6 2226.8,1624.9 2227,1625.1 2227.2,1624.9 2227.5,1624.9 2227.8,1625.1 2228,1625 2228.2,1624.8 2228.5,1624.8 2228.8,1625.2 2229,1625.5 2229.2,1625.2 2229.5,1625.2 2229.8,1624.9 2230,1625 2230.2,1624.8 2230.5,1625.1 2230.8,1625.1 2231,1625.5 2231.2,1625.5 2231.5,1625 2231.8,1625.3 2232,1625 2232.2,1624.7 2232.5,1624.9 2232.8,1625.2 2233,1625.2 2233.2,1625.3 2233.5,1624.9 2233.8,1625 2234,1624.5 2234.2,1625.4 2234.5,1626.1 2234.8,1625.2 2235,1624.4 2235.2,1625.1 2235.5,1625.1 2235.8,1625.3 2236,1625.3 2236.2,1625.6 2236.5,1625.5 2236.8,1625.2 2237,1624.9 2237.2,1624.9 2237.5,1625.1 2237.8,1625 2238,1625.4 2238.2,1625.3 2238.5,1625.3 2238.8,1624.3 2239,1624.8 2239.2,1625.4 2239.5,1625.1 2239.8,1625.1 2240,1625.4 2240.2,1624.9 2240.5,1624.9 2240.8,1625 2241,1624.7 2241.2,1625 2241.5,1624.5 2241.8,1625.5 2242,1625.6 2242.2,1625.3 2242.5,1625.2 2242.8,1624.5 2243,1625.7 2243.2,1625.3 2243.5,1624.9 2243.8,1624.8 2244,1625.2 2244.2,1624.9 2244.5,1625.2 2244.8,1625.4 2245,1624.7 2245.2,1624.6 2245.5,1624.9 2245.8,1625.4 2246,1625.2 2246.2,1625.1 2246.5,1625 2246.8,1625.5 2247,1624.8 2247.2,1625.5 2247.5,1624.9 2247.8,1625 2248,1625.2 2248.2,1625.5 2248.5,1625.2 2248.8,1624.7 2249,1625.1 2249.2,1624.6 2249.5,1625.4 2249.8,1625.1 2250,1625.1 2250.2,1625.3 2250.5,1624.7 2250.8,1624.5 2251,1625 2251.2,1625 2251.5,1624.5 2251.8,1625.1 2252,1625.4 2252.2,1625.6 2252.5,1625.3 2252.8,1625.1 2253,1624.3 2253.2,1624.4 2253.5,1625.4 2253.8,1625.5 2254,1624.9 2254.2,1625.1 2254.5,1625.3 2254.8,1625.2 2255,1625.3 2255.2,1624.9 2255.5,1624.6 2255.8,1625 2256,1625.1 2256.2,1624.3 2256.5,1625.1 2256.8,1625.9 2257,1625.4 2257.2,1625 2257.5,1625.3 2257.8,1625.3 2258,1625.1 2258.2,1625 2258.5,1624.7 2258.8,1624.7 2259,1625.3 2259.2,1624.9 2259.5,1625 2259.8,1625.3 2260,1625.3 2260.2,1624.9 2260.5,1624.6 2260.8,1624.9 2261,1624.8 2261.2,1625.3 2261.5,1624.6 2261.8,1625.1 2262,1625.2 2262.2,1624.5 2262.5,1625.2 2262.8,1625.2 2263,1625.6 2263.2,1625.3 2263.5,1625.4 2263.8,1625.2 2264,1625.6 2264.2,1624.9 2264.5,1625.6 2264.8,1625.4 2265,1624.6 2265.2,1624.9 2265.5,1625.5 2265.8,1625.4 2266,1625 2266.2,1625 2266.5,1625.3 2266.8,1624.6 2267,1625.1 2267.2,1625.5 2267.5,1624.7 2267.8,1625.6 2268,1625.7 2268.2,1624.9 2268.5,1624.7"/>
<rect x="386" y="63" width="2070.7" height="1667.3" fill="none" stroke="#000" stroke-width="6.4"/>
<path d="M386 1632.2H418 M386 1436H418 M386 1239.9H418 M386 1043.8H418 M386 847.6H418 M386 651.5H418 M386 455.3H418 M386 259.2H418 M386 63H418 M386 1534.1H400.5 M386 1338H400.5 M386 1141.8H400.5 M386 945.7H400.5 M386 749.5H400.5 M386 553.4H400.5 M386 357.2H400.5 M386 161.1H400.5 M574.2 1730.3V1697.3 M950.7 1730.3V1697.3 M1327.2 1730.3V1697.3 M1703.6 1730.3V1697.3 M2080.1 1730.3V1697.3 M762.4 1730.3V1713.8 M1138.9 1730.3V1713.8 M1515.4 1730.3V1713.8 M1891.9 1730.3V1713.8 M2268.4 1730.3V1713.8" stroke="#000" stroke-width="5.6" fill="none"/>
<text transform="translate(307.2,1657) scale(1,1.035)" font-size="87">0</text>
<text transform="translate(133.2,1460.8) scale(1,1.035)" font-size="87">10000</text>
<text transform="translate(133.2,1264.7) scale(1,1.035)" font-size="87">20000</text>
<text transform="translate(133.2,1068.5) scale(1,1.035)" font-size="87">30000</text>
<text transform="translate(133.2,872.4) scale(1,1.035)" font-size="87">40000</text>
<text transform="translate(133.2,676.2) scale(1,1.035)" font-size="87">50000</text>
<text transform="translate(133.2,480.1) scale(1,1.035)" font-size="87">60000</text>
<text transform="translate(133.2,283.9) scale(1,1.035)" font-size="87">70000</text>
<text transform="translate(133.2,87.8) scale(1,1.035)" font-size="87">80000</text>
<text transform="translate(550,1817.5) scale(1,1.035)" font-size="87">0</text>
<text transform="translate(907.6,1811.8) scale(1,1.035)" font-size="87">20</text>
<text transform="translate(1288.1,1807) scale(1,1.035)" font-size="87">40</text>
<text transform="translate(1661.1,1811.8) scale(1,1.035)" font-size="87">60</text>
<text transform="translate(2039.5,1811.8) scale(1,1.035)" font-size="87">80</text>
<text x="1231.4" y="1916.3" font-size="87">2θ(degree)</text>
<text transform="translate(96.5,1140) rotate(-90)" font-size="87">Intensity(a.u.)</text>
<path d="M1551.5 216.2H1747.5" stroke="#3a3a3a" stroke-width="2.6"/>
<path d="M1551.5 322.5H1747.5" stroke="#e094a0" stroke-width="3.4"/>
<text x="1766.1" y="245.5" font-size="87">0% Sodium citrate</text>
<text x="1765.3" y="352.1" font-size="87">3% Sodium citrate</text>
<path d="M1759 420.8L1778.7 445.7L1759 470.6L1739.3 445.7Z"/>
<text x="1813.7" y="469.7" font-size="87">Calcite</text>
<circle cx="1767.3" cy="561.7" r="15.8"/>
<text x="1813.6" y="585.8" font-size="87">Vaterite</text>
<g fill="#000"><circle cx="965.6" cy="968.5" r="15.2"/><path d="M1007.1 978.5L1026.8 1003L1007.1 1027.5L987.4 1003Z"/><circle cx="1081.6" cy="425.1" r="15.2"/><path d="M1132 320.7L1151.8 345.2L1132 369.7L1112.2 345.2Z"/><circle cx="1190.4" cy="1021.8" r="15.2"/><path d="M1260.2 988.3L1280 1012.8L1260.2 1037.3L1240.5 1012.8Z"/><path d="M1316.9 935.7L1336.7 960.2L1316.9 984.7L1297.2 960.2Z"/><path d="M1383.3 917L1403 941.5L1383.3 966L1363.5 941.5Z"/><path d="M1464.9 959.2L1484.7 983.7L1464.9 1008.2L1445.2 983.7Z"/><path d="M1496.7 962L1516.5 986.5L1496.7 1011L1477 986.5Z"/><circle cx="1521.6" cy="1027.3" r="15.2"/><path d="M1662.4 1002.4L1682.2 1026.9L1662.4 1051.4L1642.7 1026.9Z"/><path d="M1000.1 1555.7L1019.9 1580.2L1000.1 1604.7L980.4 1580.2Z"/><circle cx="1051.3" cy="1584.4" r="15.2"/><circle cx="1091.4" cy="1566.4" r="15.2"/><path d="M1146.5 1219L1166.2 1243.5L1146.5 1268L1126.8 1243.5Z"/><circle cx="1197.2" cy="1558.8" r="15.2"/><circle cx="1393.9" cy="1545" r="15.2"/><path d="M1459.6 1511.8L1479.3 1536.3L1459.6 1560.8L1439.8 1536.3Z"/><path d="M1491.7 1508.3L1511.5 1532.8L1491.7 1557.3L1472 1532.8Z"/></g>
</svg></body></html>
